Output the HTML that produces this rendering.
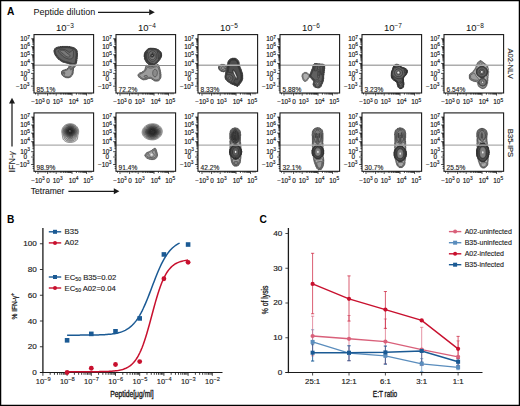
<!DOCTYPE html>
<html><head><meta charset="utf-8"><style>
html,body{margin:0;padding:0;background:#fff;}
#fig{position:relative;width:520px;height:406px;overflow:hidden;background:#fff;}
svg{position:absolute;left:0;top:0;}
text{font-family:"Liberation Sans", sans-serif;}
</style></head><body><div id="fig">
<svg width="520" height="406" viewBox="0 0 520 406">
<defs><filter id="soft" x="-30%" y="-30%" width="160%" height="160%"><feGaussianBlur stdDeviation="0.28"/></filter></defs>
<text x="7" y="15.2" font-size="10.2" font-weight="bold" fill="#000">A</text>
<text x="33.60" y="14.80" font-size="9.0" text-anchor="start" font-weight="normal" fill="#111" >Peptide dilution</text>
<line x1="98" y1="12.3" x2="149.70000000000002" y2="12.3" stroke="#1a1a1a" stroke-width="1.25"/>
<path d="M154.8,12.3 L149.20000000000002,9.3 L149.20000000000002,15.3 Z" fill="#1a1a1a"/>
<text x="65.00" y="30.80" font-size="9.5" text-anchor="middle" fill="#111" >10<tspan font-size="6.5" dy="-3.30">−3</tspan></text>
<text x="147.00" y="30.80" font-size="9.5" text-anchor="middle" fill="#111" >10<tspan font-size="6.5" dy="-3.30">−4</tspan></text>
<text x="229.00" y="30.80" font-size="9.5" text-anchor="middle" fill="#111" >10<tspan font-size="6.5" dy="-3.30">−5</tspan></text>
<text x="311.00" y="30.80" font-size="9.5" text-anchor="middle" fill="#111" >10<tspan font-size="6.5" dy="-3.30">−6</tspan></text>
<text x="393.00" y="30.80" font-size="9.5" text-anchor="middle" fill="#111" >10<tspan font-size="6.5" dy="-3.30">−7</tspan></text>
<text x="475.00" y="30.80" font-size="9.5" text-anchor="middle" fill="#111" >10<tspan font-size="6.5" dy="-3.30">−8</tspan></text>
<path d="M32.40,44.32h1.6M32.40,42.93h1.6M32.40,41.94h1.6M32.40,41.18h1.6M32.40,40.55h1.6M32.40,40.02h1.6M32.40,39.57h1.6M32.40,39.16h1.6M32.40,52.36h1.6M32.40,50.94h1.6M32.40,49.92h1.6M32.40,49.14h1.6M32.40,48.50h1.6M32.40,47.95h1.6M32.40,47.48h1.6M32.40,47.07h1.6M32.40,60.81h1.6M32.40,59.30h1.6M32.40,58.22h1.6M32.40,57.39h1.6M32.40,56.71h1.6M32.40,56.13h1.6M32.40,55.63h1.6M32.40,55.19h1.6M32.40,70.39h1.6M32.40,68.63h1.6M32.40,67.38h1.6M32.40,66.41h1.6M32.40,65.62h1.6M32.40,64.95h1.6M32.40,64.37h1.6M32.40,63.86h1.6M31.20,38.80h2.8M31.20,46.70h2.8M31.20,54.80h2.8M31.20,63.40h2.8M31.20,73.40h2.8M31.20,78.70h2.8M31.20,86.20h2.8M32.60,74.80h1.4M32.60,76.00h1.4M32.60,77.20h1.4M32.60,80.00h1.4M32.60,81.20h1.4M32.60,82.40h1.4M32.60,83.60h1.4M32.60,84.80h1.4M32.60,88.10h1.4M32.60,90.10h1.4M38.00,93.00v2.6M47.60,93.00v2.6M56.20,93.00v2.6M72.00,93.00v2.6M86.60,93.00v2.6M60.96,93.00v1.6M63.74,93.00v1.6M65.71,93.00v1.6M67.24,93.00v1.6M68.49,93.00v1.6M69.55,93.00v1.6M70.47,93.00v1.6M71.28,93.00v1.6M76.40,93.00v1.6M78.97,93.00v1.6M80.79,93.00v1.6M82.20,93.00v1.6M83.36,93.00v1.6M84.34,93.00v1.6M85.19,93.00v1.6M85.93,93.00v1.6M35.50,93.00v1.4M40.00,93.00v1.4M42.00,93.00v1.4M44.00,93.00v1.4M45.80,93.00v1.4M49.20,93.00v1.4M50.60,93.00v1.4M52.00,93.00v1.4M53.40,93.00v1.4M54.80,93.00v1.4M58.00,93.00v1.4M60.00,93.00v1.4M62.00,93.00v1.4M64.00,93.00v1.4M66.00,93.00v1.4M68.00,93.00v1.4M70.00,93.00v1.4M89.00,93.00v1.4M91.00,93.00v1.4" stroke="#111" stroke-width="0.8" fill="none"/>
<text x="20.20" y="41.10" font-size="6.4" fill="#111" stroke="#111" stroke-width="0.14">10<tspan font-size="4.8" dy="-2.6">7</tspan></text>
<text x="20.20" y="49.00" font-size="6.4" fill="#111" stroke="#111" stroke-width="0.14">10<tspan font-size="4.8" dy="-2.6">6</tspan></text>
<text x="20.20" y="57.10" font-size="6.4" fill="#111" stroke="#111" stroke-width="0.14">10<tspan font-size="4.8" dy="-2.6">5</tspan></text>
<text x="20.20" y="65.70" font-size="6.4" fill="#111" stroke="#111" stroke-width="0.14">10<tspan font-size="4.8" dy="-2.6">4</tspan></text>
<text x="20.20" y="75.70" font-size="6.4" fill="#111" stroke="#111" stroke-width="0.14">10<tspan font-size="4.8" dy="-2.6">3</tspan></text>
<text x="23.60" y="81.00" font-size="6.4" text-anchor="start" font-weight="normal" fill="#111" stroke="#111" stroke-width="0.14" >0</text>
<text x="16.00" y="88.50" font-size="6.4" fill="#111" stroke="#111" stroke-width="0.14">−10<tspan font-size="4.8" dy="-2.6">3</tspan></text>
<text x="31.20" y="104.20" font-size="6.4" fill="#111" stroke="#111" stroke-width="0.14">−10<tspan font-size="4.8" dy="-2.6">3</tspan></text>
<text x="46.20" y="104.20" font-size="6.4" text-anchor="start" font-weight="normal" fill="#111" stroke="#111" stroke-width="0.14" >0</text>
<text x="52.80" y="104.20" font-size="6.4" fill="#111" stroke="#111" stroke-width="0.14">10<tspan font-size="4.8" dy="-2.6">3</tspan></text>
<text x="68.70" y="104.20" font-size="6.4" fill="#111" stroke="#111" stroke-width="0.14">10<tspan font-size="4.8" dy="-2.6">4</tspan></text>
<text x="83.30" y="104.20" font-size="6.4" fill="#111" stroke="#111" stroke-width="0.14">10<tspan font-size="4.8" dy="-2.6">5</tspan></text>
<path d="M114.40,44.32h1.6M114.40,42.93h1.6M114.40,41.94h1.6M114.40,41.18h1.6M114.40,40.55h1.6M114.40,40.02h1.6M114.40,39.57h1.6M114.40,39.16h1.6M114.40,52.36h1.6M114.40,50.94h1.6M114.40,49.92h1.6M114.40,49.14h1.6M114.40,48.50h1.6M114.40,47.95h1.6M114.40,47.48h1.6M114.40,47.07h1.6M114.40,60.81h1.6M114.40,59.30h1.6M114.40,58.22h1.6M114.40,57.39h1.6M114.40,56.71h1.6M114.40,56.13h1.6M114.40,55.63h1.6M114.40,55.19h1.6M114.40,70.39h1.6M114.40,68.63h1.6M114.40,67.38h1.6M114.40,66.41h1.6M114.40,65.62h1.6M114.40,64.95h1.6M114.40,64.37h1.6M114.40,63.86h1.6M113.20,38.80h2.8M113.20,46.70h2.8M113.20,54.80h2.8M113.20,63.40h2.8M113.20,73.40h2.8M113.20,78.70h2.8M113.20,86.20h2.8M114.60,74.80h1.4M114.60,76.00h1.4M114.60,77.20h1.4M114.60,80.00h1.4M114.60,81.20h1.4M114.60,82.40h1.4M114.60,83.60h1.4M114.60,84.80h1.4M114.60,88.10h1.4M114.60,90.10h1.4M120.00,93.00v2.6M129.60,93.00v2.6M138.20,93.00v2.6M154.00,93.00v2.6M168.60,93.00v2.6M142.96,93.00v1.6M145.74,93.00v1.6M147.71,93.00v1.6M149.24,93.00v1.6M150.49,93.00v1.6M151.55,93.00v1.6M152.47,93.00v1.6M153.28,93.00v1.6M158.40,93.00v1.6M160.97,93.00v1.6M162.79,93.00v1.6M164.20,93.00v1.6M165.36,93.00v1.6M166.34,93.00v1.6M167.19,93.00v1.6M167.93,93.00v1.6M117.50,93.00v1.4M122.00,93.00v1.4M124.00,93.00v1.4M126.00,93.00v1.4M127.80,93.00v1.4M131.20,93.00v1.4M132.60,93.00v1.4M134.00,93.00v1.4M135.40,93.00v1.4M136.80,93.00v1.4M140.00,93.00v1.4M142.00,93.00v1.4M144.00,93.00v1.4M146.00,93.00v1.4M148.00,93.00v1.4M150.00,93.00v1.4M152.00,93.00v1.4M171.00,93.00v1.4M173.00,93.00v1.4" stroke="#111" stroke-width="0.8" fill="none"/>
<text x="102.20" y="41.10" font-size="6.4" fill="#111" stroke="#111" stroke-width="0.14">10<tspan font-size="4.8" dy="-2.6">7</tspan></text>
<text x="102.20" y="49.00" font-size="6.4" fill="#111" stroke="#111" stroke-width="0.14">10<tspan font-size="4.8" dy="-2.6">6</tspan></text>
<text x="102.20" y="57.10" font-size="6.4" fill="#111" stroke="#111" stroke-width="0.14">10<tspan font-size="4.8" dy="-2.6">5</tspan></text>
<text x="102.20" y="65.70" font-size="6.4" fill="#111" stroke="#111" stroke-width="0.14">10<tspan font-size="4.8" dy="-2.6">4</tspan></text>
<text x="102.20" y="75.70" font-size="6.4" fill="#111" stroke="#111" stroke-width="0.14">10<tspan font-size="4.8" dy="-2.6">3</tspan></text>
<text x="105.60" y="81.00" font-size="6.4" text-anchor="start" font-weight="normal" fill="#111" stroke="#111" stroke-width="0.14" >0</text>
<text x="98.00" y="88.50" font-size="6.4" fill="#111" stroke="#111" stroke-width="0.14">−10<tspan font-size="4.8" dy="-2.6">3</tspan></text>
<text x="113.20" y="104.20" font-size="6.4" fill="#111" stroke="#111" stroke-width="0.14">−10<tspan font-size="4.8" dy="-2.6">3</tspan></text>
<text x="128.20" y="104.20" font-size="6.4" text-anchor="start" font-weight="normal" fill="#111" stroke="#111" stroke-width="0.14" >0</text>
<text x="134.80" y="104.20" font-size="6.4" fill="#111" stroke="#111" stroke-width="0.14">10<tspan font-size="4.8" dy="-2.6">3</tspan></text>
<text x="150.70" y="104.20" font-size="6.4" fill="#111" stroke="#111" stroke-width="0.14">10<tspan font-size="4.8" dy="-2.6">4</tspan></text>
<text x="165.30" y="104.20" font-size="6.4" fill="#111" stroke="#111" stroke-width="0.14">10<tspan font-size="4.8" dy="-2.6">5</tspan></text>
<path d="M196.40,44.32h1.6M196.40,42.93h1.6M196.40,41.94h1.6M196.40,41.18h1.6M196.40,40.55h1.6M196.40,40.02h1.6M196.40,39.57h1.6M196.40,39.16h1.6M196.40,52.36h1.6M196.40,50.94h1.6M196.40,49.92h1.6M196.40,49.14h1.6M196.40,48.50h1.6M196.40,47.95h1.6M196.40,47.48h1.6M196.40,47.07h1.6M196.40,60.81h1.6M196.40,59.30h1.6M196.40,58.22h1.6M196.40,57.39h1.6M196.40,56.71h1.6M196.40,56.13h1.6M196.40,55.63h1.6M196.40,55.19h1.6M196.40,70.39h1.6M196.40,68.63h1.6M196.40,67.38h1.6M196.40,66.41h1.6M196.40,65.62h1.6M196.40,64.95h1.6M196.40,64.37h1.6M196.40,63.86h1.6M195.20,38.80h2.8M195.20,46.70h2.8M195.20,54.80h2.8M195.20,63.40h2.8M195.20,73.40h2.8M195.20,78.70h2.8M195.20,86.20h2.8M196.60,74.80h1.4M196.60,76.00h1.4M196.60,77.20h1.4M196.60,80.00h1.4M196.60,81.20h1.4M196.60,82.40h1.4M196.60,83.60h1.4M196.60,84.80h1.4M196.60,88.10h1.4M196.60,90.10h1.4M202.00,93.00v2.6M211.60,93.00v2.6M220.20,93.00v2.6M236.00,93.00v2.6M250.60,93.00v2.6M224.96,93.00v1.6M227.74,93.00v1.6M229.71,93.00v1.6M231.24,93.00v1.6M232.49,93.00v1.6M233.55,93.00v1.6M234.47,93.00v1.6M235.28,93.00v1.6M240.40,93.00v1.6M242.97,93.00v1.6M244.79,93.00v1.6M246.20,93.00v1.6M247.36,93.00v1.6M248.34,93.00v1.6M249.19,93.00v1.6M249.93,93.00v1.6M199.50,93.00v1.4M204.00,93.00v1.4M206.00,93.00v1.4M208.00,93.00v1.4M209.80,93.00v1.4M213.20,93.00v1.4M214.60,93.00v1.4M216.00,93.00v1.4M217.40,93.00v1.4M218.80,93.00v1.4M222.00,93.00v1.4M224.00,93.00v1.4M226.00,93.00v1.4M228.00,93.00v1.4M230.00,93.00v1.4M232.00,93.00v1.4M234.00,93.00v1.4M253.00,93.00v1.4M255.00,93.00v1.4" stroke="#111" stroke-width="0.8" fill="none"/>
<text x="184.20" y="41.10" font-size="6.4" fill="#111" stroke="#111" stroke-width="0.14">10<tspan font-size="4.8" dy="-2.6">7</tspan></text>
<text x="184.20" y="49.00" font-size="6.4" fill="#111" stroke="#111" stroke-width="0.14">10<tspan font-size="4.8" dy="-2.6">6</tspan></text>
<text x="184.20" y="57.10" font-size="6.4" fill="#111" stroke="#111" stroke-width="0.14">10<tspan font-size="4.8" dy="-2.6">5</tspan></text>
<text x="184.20" y="65.70" font-size="6.4" fill="#111" stroke="#111" stroke-width="0.14">10<tspan font-size="4.8" dy="-2.6">4</tspan></text>
<text x="184.20" y="75.70" font-size="6.4" fill="#111" stroke="#111" stroke-width="0.14">10<tspan font-size="4.8" dy="-2.6">3</tspan></text>
<text x="187.60" y="81.00" font-size="6.4" text-anchor="start" font-weight="normal" fill="#111" stroke="#111" stroke-width="0.14" >0</text>
<text x="180.00" y="88.50" font-size="6.4" fill="#111" stroke="#111" stroke-width="0.14">−10<tspan font-size="4.8" dy="-2.6">3</tspan></text>
<text x="195.20" y="104.20" font-size="6.4" fill="#111" stroke="#111" stroke-width="0.14">−10<tspan font-size="4.8" dy="-2.6">3</tspan></text>
<text x="210.20" y="104.20" font-size="6.4" text-anchor="start" font-weight="normal" fill="#111" stroke="#111" stroke-width="0.14" >0</text>
<text x="216.80" y="104.20" font-size="6.4" fill="#111" stroke="#111" stroke-width="0.14">10<tspan font-size="4.8" dy="-2.6">3</tspan></text>
<text x="232.70" y="104.20" font-size="6.4" fill="#111" stroke="#111" stroke-width="0.14">10<tspan font-size="4.8" dy="-2.6">4</tspan></text>
<text x="247.30" y="104.20" font-size="6.4" fill="#111" stroke="#111" stroke-width="0.14">10<tspan font-size="4.8" dy="-2.6">5</tspan></text>
<path d="M278.40,44.32h1.6M278.40,42.93h1.6M278.40,41.94h1.6M278.40,41.18h1.6M278.40,40.55h1.6M278.40,40.02h1.6M278.40,39.57h1.6M278.40,39.16h1.6M278.40,52.36h1.6M278.40,50.94h1.6M278.40,49.92h1.6M278.40,49.14h1.6M278.40,48.50h1.6M278.40,47.95h1.6M278.40,47.48h1.6M278.40,47.07h1.6M278.40,60.81h1.6M278.40,59.30h1.6M278.40,58.22h1.6M278.40,57.39h1.6M278.40,56.71h1.6M278.40,56.13h1.6M278.40,55.63h1.6M278.40,55.19h1.6M278.40,70.39h1.6M278.40,68.63h1.6M278.40,67.38h1.6M278.40,66.41h1.6M278.40,65.62h1.6M278.40,64.95h1.6M278.40,64.37h1.6M278.40,63.86h1.6M277.20,38.80h2.8M277.20,46.70h2.8M277.20,54.80h2.8M277.20,63.40h2.8M277.20,73.40h2.8M277.20,78.70h2.8M277.20,86.20h2.8M278.60,74.80h1.4M278.60,76.00h1.4M278.60,77.20h1.4M278.60,80.00h1.4M278.60,81.20h1.4M278.60,82.40h1.4M278.60,83.60h1.4M278.60,84.80h1.4M278.60,88.10h1.4M278.60,90.10h1.4M284.00,93.00v2.6M293.60,93.00v2.6M302.20,93.00v2.6M318.00,93.00v2.6M332.60,93.00v2.6M306.96,93.00v1.6M309.74,93.00v1.6M311.71,93.00v1.6M313.24,93.00v1.6M314.49,93.00v1.6M315.55,93.00v1.6M316.47,93.00v1.6M317.28,93.00v1.6M322.40,93.00v1.6M324.97,93.00v1.6M326.79,93.00v1.6M328.20,93.00v1.6M329.36,93.00v1.6M330.34,93.00v1.6M331.19,93.00v1.6M331.93,93.00v1.6M281.50,93.00v1.4M286.00,93.00v1.4M288.00,93.00v1.4M290.00,93.00v1.4M291.80,93.00v1.4M295.20,93.00v1.4M296.60,93.00v1.4M298.00,93.00v1.4M299.40,93.00v1.4M300.80,93.00v1.4M304.00,93.00v1.4M306.00,93.00v1.4M308.00,93.00v1.4M310.00,93.00v1.4M312.00,93.00v1.4M314.00,93.00v1.4M316.00,93.00v1.4M335.00,93.00v1.4M337.00,93.00v1.4" stroke="#111" stroke-width="0.8" fill="none"/>
<text x="266.20" y="41.10" font-size="6.4" fill="#111" stroke="#111" stroke-width="0.14">10<tspan font-size="4.8" dy="-2.6">7</tspan></text>
<text x="266.20" y="49.00" font-size="6.4" fill="#111" stroke="#111" stroke-width="0.14">10<tspan font-size="4.8" dy="-2.6">6</tspan></text>
<text x="266.20" y="57.10" font-size="6.4" fill="#111" stroke="#111" stroke-width="0.14">10<tspan font-size="4.8" dy="-2.6">5</tspan></text>
<text x="266.20" y="65.70" font-size="6.4" fill="#111" stroke="#111" stroke-width="0.14">10<tspan font-size="4.8" dy="-2.6">4</tspan></text>
<text x="266.20" y="75.70" font-size="6.4" fill="#111" stroke="#111" stroke-width="0.14">10<tspan font-size="4.8" dy="-2.6">3</tspan></text>
<text x="269.60" y="81.00" font-size="6.4" text-anchor="start" font-weight="normal" fill="#111" stroke="#111" stroke-width="0.14" >0</text>
<text x="262.00" y="88.50" font-size="6.4" fill="#111" stroke="#111" stroke-width="0.14">−10<tspan font-size="4.8" dy="-2.6">3</tspan></text>
<text x="277.20" y="104.20" font-size="6.4" fill="#111" stroke="#111" stroke-width="0.14">−10<tspan font-size="4.8" dy="-2.6">3</tspan></text>
<text x="292.20" y="104.20" font-size="6.4" text-anchor="start" font-weight="normal" fill="#111" stroke="#111" stroke-width="0.14" >0</text>
<text x="298.80" y="104.20" font-size="6.4" fill="#111" stroke="#111" stroke-width="0.14">10<tspan font-size="4.8" dy="-2.6">3</tspan></text>
<text x="314.70" y="104.20" font-size="6.4" fill="#111" stroke="#111" stroke-width="0.14">10<tspan font-size="4.8" dy="-2.6">4</tspan></text>
<text x="329.30" y="104.20" font-size="6.4" fill="#111" stroke="#111" stroke-width="0.14">10<tspan font-size="4.8" dy="-2.6">5</tspan></text>
<path d="M360.40,44.32h1.6M360.40,42.93h1.6M360.40,41.94h1.6M360.40,41.18h1.6M360.40,40.55h1.6M360.40,40.02h1.6M360.40,39.57h1.6M360.40,39.16h1.6M360.40,52.36h1.6M360.40,50.94h1.6M360.40,49.92h1.6M360.40,49.14h1.6M360.40,48.50h1.6M360.40,47.95h1.6M360.40,47.48h1.6M360.40,47.07h1.6M360.40,60.81h1.6M360.40,59.30h1.6M360.40,58.22h1.6M360.40,57.39h1.6M360.40,56.71h1.6M360.40,56.13h1.6M360.40,55.63h1.6M360.40,55.19h1.6M360.40,70.39h1.6M360.40,68.63h1.6M360.40,67.38h1.6M360.40,66.41h1.6M360.40,65.62h1.6M360.40,64.95h1.6M360.40,64.37h1.6M360.40,63.86h1.6M359.20,38.80h2.8M359.20,46.70h2.8M359.20,54.80h2.8M359.20,63.40h2.8M359.20,73.40h2.8M359.20,78.70h2.8M359.20,86.20h2.8M360.60,74.80h1.4M360.60,76.00h1.4M360.60,77.20h1.4M360.60,80.00h1.4M360.60,81.20h1.4M360.60,82.40h1.4M360.60,83.60h1.4M360.60,84.80h1.4M360.60,88.10h1.4M360.60,90.10h1.4M366.00,93.00v2.6M375.60,93.00v2.6M384.20,93.00v2.6M400.00,93.00v2.6M414.60,93.00v2.6M388.96,93.00v1.6M391.74,93.00v1.6M393.71,93.00v1.6M395.24,93.00v1.6M396.49,93.00v1.6M397.55,93.00v1.6M398.47,93.00v1.6M399.28,93.00v1.6M404.40,93.00v1.6M406.97,93.00v1.6M408.79,93.00v1.6M410.20,93.00v1.6M411.36,93.00v1.6M412.34,93.00v1.6M413.19,93.00v1.6M413.93,93.00v1.6M363.50,93.00v1.4M368.00,93.00v1.4M370.00,93.00v1.4M372.00,93.00v1.4M373.80,93.00v1.4M377.20,93.00v1.4M378.60,93.00v1.4M380.00,93.00v1.4M381.40,93.00v1.4M382.80,93.00v1.4M386.00,93.00v1.4M388.00,93.00v1.4M390.00,93.00v1.4M392.00,93.00v1.4M394.00,93.00v1.4M396.00,93.00v1.4M398.00,93.00v1.4M417.00,93.00v1.4M419.00,93.00v1.4" stroke="#111" stroke-width="0.8" fill="none"/>
<text x="348.20" y="41.10" font-size="6.4" fill="#111" stroke="#111" stroke-width="0.14">10<tspan font-size="4.8" dy="-2.6">7</tspan></text>
<text x="348.20" y="49.00" font-size="6.4" fill="#111" stroke="#111" stroke-width="0.14">10<tspan font-size="4.8" dy="-2.6">6</tspan></text>
<text x="348.20" y="57.10" font-size="6.4" fill="#111" stroke="#111" stroke-width="0.14">10<tspan font-size="4.8" dy="-2.6">5</tspan></text>
<text x="348.20" y="65.70" font-size="6.4" fill="#111" stroke="#111" stroke-width="0.14">10<tspan font-size="4.8" dy="-2.6">4</tspan></text>
<text x="348.20" y="75.70" font-size="6.4" fill="#111" stroke="#111" stroke-width="0.14">10<tspan font-size="4.8" dy="-2.6">3</tspan></text>
<text x="351.60" y="81.00" font-size="6.4" text-anchor="start" font-weight="normal" fill="#111" stroke="#111" stroke-width="0.14" >0</text>
<text x="344.00" y="88.50" font-size="6.4" fill="#111" stroke="#111" stroke-width="0.14">−10<tspan font-size="4.8" dy="-2.6">3</tspan></text>
<text x="359.20" y="104.20" font-size="6.4" fill="#111" stroke="#111" stroke-width="0.14">−10<tspan font-size="4.8" dy="-2.6">3</tspan></text>
<text x="374.20" y="104.20" font-size="6.4" text-anchor="start" font-weight="normal" fill="#111" stroke="#111" stroke-width="0.14" >0</text>
<text x="380.80" y="104.20" font-size="6.4" fill="#111" stroke="#111" stroke-width="0.14">10<tspan font-size="4.8" dy="-2.6">3</tspan></text>
<text x="396.70" y="104.20" font-size="6.4" fill="#111" stroke="#111" stroke-width="0.14">10<tspan font-size="4.8" dy="-2.6">4</tspan></text>
<text x="411.30" y="104.20" font-size="6.4" fill="#111" stroke="#111" stroke-width="0.14">10<tspan font-size="4.8" dy="-2.6">5</tspan></text>
<path d="M442.40,44.32h1.6M442.40,42.93h1.6M442.40,41.94h1.6M442.40,41.18h1.6M442.40,40.55h1.6M442.40,40.02h1.6M442.40,39.57h1.6M442.40,39.16h1.6M442.40,52.36h1.6M442.40,50.94h1.6M442.40,49.92h1.6M442.40,49.14h1.6M442.40,48.50h1.6M442.40,47.95h1.6M442.40,47.48h1.6M442.40,47.07h1.6M442.40,60.81h1.6M442.40,59.30h1.6M442.40,58.22h1.6M442.40,57.39h1.6M442.40,56.71h1.6M442.40,56.13h1.6M442.40,55.63h1.6M442.40,55.19h1.6M442.40,70.39h1.6M442.40,68.63h1.6M442.40,67.38h1.6M442.40,66.41h1.6M442.40,65.62h1.6M442.40,64.95h1.6M442.40,64.37h1.6M442.40,63.86h1.6M441.20,38.80h2.8M441.20,46.70h2.8M441.20,54.80h2.8M441.20,63.40h2.8M441.20,73.40h2.8M441.20,78.70h2.8M441.20,86.20h2.8M442.60,74.80h1.4M442.60,76.00h1.4M442.60,77.20h1.4M442.60,80.00h1.4M442.60,81.20h1.4M442.60,82.40h1.4M442.60,83.60h1.4M442.60,84.80h1.4M442.60,88.10h1.4M442.60,90.10h1.4M448.00,93.00v2.6M457.60,93.00v2.6M466.20,93.00v2.6M482.00,93.00v2.6M496.60,93.00v2.6M470.96,93.00v1.6M473.74,93.00v1.6M475.71,93.00v1.6M477.24,93.00v1.6M478.49,93.00v1.6M479.55,93.00v1.6M480.47,93.00v1.6M481.28,93.00v1.6M486.40,93.00v1.6M488.97,93.00v1.6M490.79,93.00v1.6M492.20,93.00v1.6M493.36,93.00v1.6M494.34,93.00v1.6M495.19,93.00v1.6M495.93,93.00v1.6M445.50,93.00v1.4M450.00,93.00v1.4M452.00,93.00v1.4M454.00,93.00v1.4M455.80,93.00v1.4M459.20,93.00v1.4M460.60,93.00v1.4M462.00,93.00v1.4M463.40,93.00v1.4M464.80,93.00v1.4M468.00,93.00v1.4M470.00,93.00v1.4M472.00,93.00v1.4M474.00,93.00v1.4M476.00,93.00v1.4M478.00,93.00v1.4M480.00,93.00v1.4M499.00,93.00v1.4M501.00,93.00v1.4" stroke="#111" stroke-width="0.8" fill="none"/>
<text x="430.20" y="41.10" font-size="6.4" fill="#111" stroke="#111" stroke-width="0.14">10<tspan font-size="4.8" dy="-2.6">7</tspan></text>
<text x="430.20" y="49.00" font-size="6.4" fill="#111" stroke="#111" stroke-width="0.14">10<tspan font-size="4.8" dy="-2.6">6</tspan></text>
<text x="430.20" y="57.10" font-size="6.4" fill="#111" stroke="#111" stroke-width="0.14">10<tspan font-size="4.8" dy="-2.6">5</tspan></text>
<text x="430.20" y="65.70" font-size="6.4" fill="#111" stroke="#111" stroke-width="0.14">10<tspan font-size="4.8" dy="-2.6">4</tspan></text>
<text x="430.20" y="75.70" font-size="6.4" fill="#111" stroke="#111" stroke-width="0.14">10<tspan font-size="4.8" dy="-2.6">3</tspan></text>
<text x="433.60" y="81.00" font-size="6.4" text-anchor="start" font-weight="normal" fill="#111" stroke="#111" stroke-width="0.14" >0</text>
<text x="426.00" y="88.50" font-size="6.4" fill="#111" stroke="#111" stroke-width="0.14">−10<tspan font-size="4.8" dy="-2.6">3</tspan></text>
<text x="441.20" y="104.20" font-size="6.4" fill="#111" stroke="#111" stroke-width="0.14">−10<tspan font-size="4.8" dy="-2.6">3</tspan></text>
<text x="456.20" y="104.20" font-size="6.4" text-anchor="start" font-weight="normal" fill="#111" stroke="#111" stroke-width="0.14" >0</text>
<text x="462.80" y="104.20" font-size="6.4" fill="#111" stroke="#111" stroke-width="0.14">10<tspan font-size="4.8" dy="-2.6">3</tspan></text>
<text x="478.70" y="104.20" font-size="6.4" fill="#111" stroke="#111" stroke-width="0.14">10<tspan font-size="4.8" dy="-2.6">4</tspan></text>
<text x="493.30" y="104.20" font-size="6.4" fill="#111" stroke="#111" stroke-width="0.14">10<tspan font-size="4.8" dy="-2.6">5</tspan></text>
<path d="M32.40,122.62h1.6M32.40,121.23h1.6M32.40,120.24h1.6M32.40,119.48h1.6M32.40,118.85h1.6M32.40,118.32h1.6M32.40,117.87h1.6M32.40,117.46h1.6M32.40,130.66h1.6M32.40,129.24h1.6M32.40,128.22h1.6M32.40,127.44h1.6M32.40,126.80h1.6M32.40,126.25h1.6M32.40,125.78h1.6M32.40,125.37h1.6M32.40,139.11h1.6M32.40,137.60h1.6M32.40,136.52h1.6M32.40,135.69h1.6M32.40,135.01h1.6M32.40,134.43h1.6M32.40,133.93h1.6M32.40,133.49h1.6M32.40,148.69h1.6M32.40,146.93h1.6M32.40,145.68h1.6M32.40,144.71h1.6M32.40,143.92h1.6M32.40,143.25h1.6M32.40,142.67h1.6M32.40,142.16h1.6M31.20,117.10h2.8M31.20,125.00h2.8M31.20,133.10h2.8M31.20,141.70h2.8M31.20,151.70h2.8M31.20,157.00h2.8M31.20,164.50h2.8M32.60,153.10h1.4M32.60,154.30h1.4M32.60,155.50h1.4M32.60,158.30h1.4M32.60,159.50h1.4M32.60,160.70h1.4M32.60,161.90h1.4M32.60,163.10h1.4M32.60,166.40h1.4M32.60,168.40h1.4M38.00,171.30v2.6M47.60,171.30v2.6M56.20,171.30v2.6M72.00,171.30v2.6M86.60,171.30v2.6M60.96,171.30v1.6M63.74,171.30v1.6M65.71,171.30v1.6M67.24,171.30v1.6M68.49,171.30v1.6M69.55,171.30v1.6M70.47,171.30v1.6M71.28,171.30v1.6M76.40,171.30v1.6M78.97,171.30v1.6M80.79,171.30v1.6M82.20,171.30v1.6M83.36,171.30v1.6M84.34,171.30v1.6M85.19,171.30v1.6M85.93,171.30v1.6M35.50,171.30v1.4M40.00,171.30v1.4M42.00,171.30v1.4M44.00,171.30v1.4M45.80,171.30v1.4M49.20,171.30v1.4M50.60,171.30v1.4M52.00,171.30v1.4M53.40,171.30v1.4M54.80,171.30v1.4M58.00,171.30v1.4M60.00,171.30v1.4M62.00,171.30v1.4M64.00,171.30v1.4M66.00,171.30v1.4M68.00,171.30v1.4M70.00,171.30v1.4M89.00,171.30v1.4M91.00,171.30v1.4" stroke="#111" stroke-width="0.8" fill="none"/>
<text x="20.20" y="119.40" font-size="6.4" fill="#111" stroke="#111" stroke-width="0.14">10<tspan font-size="4.8" dy="-2.6">7</tspan></text>
<text x="20.20" y="127.30" font-size="6.4" fill="#111" stroke="#111" stroke-width="0.14">10<tspan font-size="4.8" dy="-2.6">6</tspan></text>
<text x="20.20" y="135.40" font-size="6.4" fill="#111" stroke="#111" stroke-width="0.14">10<tspan font-size="4.8" dy="-2.6">5</tspan></text>
<text x="20.20" y="144.00" font-size="6.4" fill="#111" stroke="#111" stroke-width="0.14">10<tspan font-size="4.8" dy="-2.6">4</tspan></text>
<text x="20.20" y="154.00" font-size="6.4" fill="#111" stroke="#111" stroke-width="0.14">10<tspan font-size="4.8" dy="-2.6">3</tspan></text>
<text x="23.60" y="159.30" font-size="6.4" text-anchor="start" font-weight="normal" fill="#111" stroke="#111" stroke-width="0.14" >0</text>
<text x="16.00" y="166.80" font-size="6.4" fill="#111" stroke="#111" stroke-width="0.14">−10<tspan font-size="4.8" dy="-2.6">3</tspan></text>
<text x="31.20" y="182.50" font-size="6.4" fill="#111" stroke="#111" stroke-width="0.14">−10<tspan font-size="4.8" dy="-2.6">3</tspan></text>
<text x="46.20" y="182.50" font-size="6.4" text-anchor="start" font-weight="normal" fill="#111" stroke="#111" stroke-width="0.14" >0</text>
<text x="52.80" y="182.50" font-size="6.4" fill="#111" stroke="#111" stroke-width="0.14">10<tspan font-size="4.8" dy="-2.6">3</tspan></text>
<text x="68.70" y="182.50" font-size="6.4" fill="#111" stroke="#111" stroke-width="0.14">10<tspan font-size="4.8" dy="-2.6">4</tspan></text>
<text x="83.30" y="182.50" font-size="6.4" fill="#111" stroke="#111" stroke-width="0.14">10<tspan font-size="4.8" dy="-2.6">5</tspan></text>
<path d="M114.40,122.62h1.6M114.40,121.23h1.6M114.40,120.24h1.6M114.40,119.48h1.6M114.40,118.85h1.6M114.40,118.32h1.6M114.40,117.87h1.6M114.40,117.46h1.6M114.40,130.66h1.6M114.40,129.24h1.6M114.40,128.22h1.6M114.40,127.44h1.6M114.40,126.80h1.6M114.40,126.25h1.6M114.40,125.78h1.6M114.40,125.37h1.6M114.40,139.11h1.6M114.40,137.60h1.6M114.40,136.52h1.6M114.40,135.69h1.6M114.40,135.01h1.6M114.40,134.43h1.6M114.40,133.93h1.6M114.40,133.49h1.6M114.40,148.69h1.6M114.40,146.93h1.6M114.40,145.68h1.6M114.40,144.71h1.6M114.40,143.92h1.6M114.40,143.25h1.6M114.40,142.67h1.6M114.40,142.16h1.6M113.20,117.10h2.8M113.20,125.00h2.8M113.20,133.10h2.8M113.20,141.70h2.8M113.20,151.70h2.8M113.20,157.00h2.8M113.20,164.50h2.8M114.60,153.10h1.4M114.60,154.30h1.4M114.60,155.50h1.4M114.60,158.30h1.4M114.60,159.50h1.4M114.60,160.70h1.4M114.60,161.90h1.4M114.60,163.10h1.4M114.60,166.40h1.4M114.60,168.40h1.4M120.00,171.30v2.6M129.60,171.30v2.6M138.20,171.30v2.6M154.00,171.30v2.6M168.60,171.30v2.6M142.96,171.30v1.6M145.74,171.30v1.6M147.71,171.30v1.6M149.24,171.30v1.6M150.49,171.30v1.6M151.55,171.30v1.6M152.47,171.30v1.6M153.28,171.30v1.6M158.40,171.30v1.6M160.97,171.30v1.6M162.79,171.30v1.6M164.20,171.30v1.6M165.36,171.30v1.6M166.34,171.30v1.6M167.19,171.30v1.6M167.93,171.30v1.6M117.50,171.30v1.4M122.00,171.30v1.4M124.00,171.30v1.4M126.00,171.30v1.4M127.80,171.30v1.4M131.20,171.30v1.4M132.60,171.30v1.4M134.00,171.30v1.4M135.40,171.30v1.4M136.80,171.30v1.4M140.00,171.30v1.4M142.00,171.30v1.4M144.00,171.30v1.4M146.00,171.30v1.4M148.00,171.30v1.4M150.00,171.30v1.4M152.00,171.30v1.4M171.00,171.30v1.4M173.00,171.30v1.4" stroke="#111" stroke-width="0.8" fill="none"/>
<text x="102.20" y="119.40" font-size="6.4" fill="#111" stroke="#111" stroke-width="0.14">10<tspan font-size="4.8" dy="-2.6">7</tspan></text>
<text x="102.20" y="127.30" font-size="6.4" fill="#111" stroke="#111" stroke-width="0.14">10<tspan font-size="4.8" dy="-2.6">6</tspan></text>
<text x="102.20" y="135.40" font-size="6.4" fill="#111" stroke="#111" stroke-width="0.14">10<tspan font-size="4.8" dy="-2.6">5</tspan></text>
<text x="102.20" y="144.00" font-size="6.4" fill="#111" stroke="#111" stroke-width="0.14">10<tspan font-size="4.8" dy="-2.6">4</tspan></text>
<text x="102.20" y="154.00" font-size="6.4" fill="#111" stroke="#111" stroke-width="0.14">10<tspan font-size="4.8" dy="-2.6">3</tspan></text>
<text x="105.60" y="159.30" font-size="6.4" text-anchor="start" font-weight="normal" fill="#111" stroke="#111" stroke-width="0.14" >0</text>
<text x="98.00" y="166.80" font-size="6.4" fill="#111" stroke="#111" stroke-width="0.14">−10<tspan font-size="4.8" dy="-2.6">3</tspan></text>
<text x="113.20" y="182.50" font-size="6.4" fill="#111" stroke="#111" stroke-width="0.14">−10<tspan font-size="4.8" dy="-2.6">3</tspan></text>
<text x="128.20" y="182.50" font-size="6.4" text-anchor="start" font-weight="normal" fill="#111" stroke="#111" stroke-width="0.14" >0</text>
<text x="134.80" y="182.50" font-size="6.4" fill="#111" stroke="#111" stroke-width="0.14">10<tspan font-size="4.8" dy="-2.6">3</tspan></text>
<text x="150.70" y="182.50" font-size="6.4" fill="#111" stroke="#111" stroke-width="0.14">10<tspan font-size="4.8" dy="-2.6">4</tspan></text>
<text x="165.30" y="182.50" font-size="6.4" fill="#111" stroke="#111" stroke-width="0.14">10<tspan font-size="4.8" dy="-2.6">5</tspan></text>
<path d="M196.40,122.62h1.6M196.40,121.23h1.6M196.40,120.24h1.6M196.40,119.48h1.6M196.40,118.85h1.6M196.40,118.32h1.6M196.40,117.87h1.6M196.40,117.46h1.6M196.40,130.66h1.6M196.40,129.24h1.6M196.40,128.22h1.6M196.40,127.44h1.6M196.40,126.80h1.6M196.40,126.25h1.6M196.40,125.78h1.6M196.40,125.37h1.6M196.40,139.11h1.6M196.40,137.60h1.6M196.40,136.52h1.6M196.40,135.69h1.6M196.40,135.01h1.6M196.40,134.43h1.6M196.40,133.93h1.6M196.40,133.49h1.6M196.40,148.69h1.6M196.40,146.93h1.6M196.40,145.68h1.6M196.40,144.71h1.6M196.40,143.92h1.6M196.40,143.25h1.6M196.40,142.67h1.6M196.40,142.16h1.6M195.20,117.10h2.8M195.20,125.00h2.8M195.20,133.10h2.8M195.20,141.70h2.8M195.20,151.70h2.8M195.20,157.00h2.8M195.20,164.50h2.8M196.60,153.10h1.4M196.60,154.30h1.4M196.60,155.50h1.4M196.60,158.30h1.4M196.60,159.50h1.4M196.60,160.70h1.4M196.60,161.90h1.4M196.60,163.10h1.4M196.60,166.40h1.4M196.60,168.40h1.4M202.00,171.30v2.6M211.60,171.30v2.6M220.20,171.30v2.6M236.00,171.30v2.6M250.60,171.30v2.6M224.96,171.30v1.6M227.74,171.30v1.6M229.71,171.30v1.6M231.24,171.30v1.6M232.49,171.30v1.6M233.55,171.30v1.6M234.47,171.30v1.6M235.28,171.30v1.6M240.40,171.30v1.6M242.97,171.30v1.6M244.79,171.30v1.6M246.20,171.30v1.6M247.36,171.30v1.6M248.34,171.30v1.6M249.19,171.30v1.6M249.93,171.30v1.6M199.50,171.30v1.4M204.00,171.30v1.4M206.00,171.30v1.4M208.00,171.30v1.4M209.80,171.30v1.4M213.20,171.30v1.4M214.60,171.30v1.4M216.00,171.30v1.4M217.40,171.30v1.4M218.80,171.30v1.4M222.00,171.30v1.4M224.00,171.30v1.4M226.00,171.30v1.4M228.00,171.30v1.4M230.00,171.30v1.4M232.00,171.30v1.4M234.00,171.30v1.4M253.00,171.30v1.4M255.00,171.30v1.4" stroke="#111" stroke-width="0.8" fill="none"/>
<text x="184.20" y="119.40" font-size="6.4" fill="#111" stroke="#111" stroke-width="0.14">10<tspan font-size="4.8" dy="-2.6">7</tspan></text>
<text x="184.20" y="127.30" font-size="6.4" fill="#111" stroke="#111" stroke-width="0.14">10<tspan font-size="4.8" dy="-2.6">6</tspan></text>
<text x="184.20" y="135.40" font-size="6.4" fill="#111" stroke="#111" stroke-width="0.14">10<tspan font-size="4.8" dy="-2.6">5</tspan></text>
<text x="184.20" y="144.00" font-size="6.4" fill="#111" stroke="#111" stroke-width="0.14">10<tspan font-size="4.8" dy="-2.6">4</tspan></text>
<text x="184.20" y="154.00" font-size="6.4" fill="#111" stroke="#111" stroke-width="0.14">10<tspan font-size="4.8" dy="-2.6">3</tspan></text>
<text x="187.60" y="159.30" font-size="6.4" text-anchor="start" font-weight="normal" fill="#111" stroke="#111" stroke-width="0.14" >0</text>
<text x="180.00" y="166.80" font-size="6.4" fill="#111" stroke="#111" stroke-width="0.14">−10<tspan font-size="4.8" dy="-2.6">3</tspan></text>
<text x="195.20" y="182.50" font-size="6.4" fill="#111" stroke="#111" stroke-width="0.14">−10<tspan font-size="4.8" dy="-2.6">3</tspan></text>
<text x="210.20" y="182.50" font-size="6.4" text-anchor="start" font-weight="normal" fill="#111" stroke="#111" stroke-width="0.14" >0</text>
<text x="216.80" y="182.50" font-size="6.4" fill="#111" stroke="#111" stroke-width="0.14">10<tspan font-size="4.8" dy="-2.6">3</tspan></text>
<text x="232.70" y="182.50" font-size="6.4" fill="#111" stroke="#111" stroke-width="0.14">10<tspan font-size="4.8" dy="-2.6">4</tspan></text>
<text x="247.30" y="182.50" font-size="6.4" fill="#111" stroke="#111" stroke-width="0.14">10<tspan font-size="4.8" dy="-2.6">5</tspan></text>
<path d="M278.40,122.62h1.6M278.40,121.23h1.6M278.40,120.24h1.6M278.40,119.48h1.6M278.40,118.85h1.6M278.40,118.32h1.6M278.40,117.87h1.6M278.40,117.46h1.6M278.40,130.66h1.6M278.40,129.24h1.6M278.40,128.22h1.6M278.40,127.44h1.6M278.40,126.80h1.6M278.40,126.25h1.6M278.40,125.78h1.6M278.40,125.37h1.6M278.40,139.11h1.6M278.40,137.60h1.6M278.40,136.52h1.6M278.40,135.69h1.6M278.40,135.01h1.6M278.40,134.43h1.6M278.40,133.93h1.6M278.40,133.49h1.6M278.40,148.69h1.6M278.40,146.93h1.6M278.40,145.68h1.6M278.40,144.71h1.6M278.40,143.92h1.6M278.40,143.25h1.6M278.40,142.67h1.6M278.40,142.16h1.6M277.20,117.10h2.8M277.20,125.00h2.8M277.20,133.10h2.8M277.20,141.70h2.8M277.20,151.70h2.8M277.20,157.00h2.8M277.20,164.50h2.8M278.60,153.10h1.4M278.60,154.30h1.4M278.60,155.50h1.4M278.60,158.30h1.4M278.60,159.50h1.4M278.60,160.70h1.4M278.60,161.90h1.4M278.60,163.10h1.4M278.60,166.40h1.4M278.60,168.40h1.4M284.00,171.30v2.6M293.60,171.30v2.6M302.20,171.30v2.6M318.00,171.30v2.6M332.60,171.30v2.6M306.96,171.30v1.6M309.74,171.30v1.6M311.71,171.30v1.6M313.24,171.30v1.6M314.49,171.30v1.6M315.55,171.30v1.6M316.47,171.30v1.6M317.28,171.30v1.6M322.40,171.30v1.6M324.97,171.30v1.6M326.79,171.30v1.6M328.20,171.30v1.6M329.36,171.30v1.6M330.34,171.30v1.6M331.19,171.30v1.6M331.93,171.30v1.6M281.50,171.30v1.4M286.00,171.30v1.4M288.00,171.30v1.4M290.00,171.30v1.4M291.80,171.30v1.4M295.20,171.30v1.4M296.60,171.30v1.4M298.00,171.30v1.4M299.40,171.30v1.4M300.80,171.30v1.4M304.00,171.30v1.4M306.00,171.30v1.4M308.00,171.30v1.4M310.00,171.30v1.4M312.00,171.30v1.4M314.00,171.30v1.4M316.00,171.30v1.4M335.00,171.30v1.4M337.00,171.30v1.4" stroke="#111" stroke-width="0.8" fill="none"/>
<text x="266.20" y="119.40" font-size="6.4" fill="#111" stroke="#111" stroke-width="0.14">10<tspan font-size="4.8" dy="-2.6">7</tspan></text>
<text x="266.20" y="127.30" font-size="6.4" fill="#111" stroke="#111" stroke-width="0.14">10<tspan font-size="4.8" dy="-2.6">6</tspan></text>
<text x="266.20" y="135.40" font-size="6.4" fill="#111" stroke="#111" stroke-width="0.14">10<tspan font-size="4.8" dy="-2.6">5</tspan></text>
<text x="266.20" y="144.00" font-size="6.4" fill="#111" stroke="#111" stroke-width="0.14">10<tspan font-size="4.8" dy="-2.6">4</tspan></text>
<text x="266.20" y="154.00" font-size="6.4" fill="#111" stroke="#111" stroke-width="0.14">10<tspan font-size="4.8" dy="-2.6">3</tspan></text>
<text x="269.60" y="159.30" font-size="6.4" text-anchor="start" font-weight="normal" fill="#111" stroke="#111" stroke-width="0.14" >0</text>
<text x="262.00" y="166.80" font-size="6.4" fill="#111" stroke="#111" stroke-width="0.14">−10<tspan font-size="4.8" dy="-2.6">3</tspan></text>
<text x="277.20" y="182.50" font-size="6.4" fill="#111" stroke="#111" stroke-width="0.14">−10<tspan font-size="4.8" dy="-2.6">3</tspan></text>
<text x="292.20" y="182.50" font-size="6.4" text-anchor="start" font-weight="normal" fill="#111" stroke="#111" stroke-width="0.14" >0</text>
<text x="298.80" y="182.50" font-size="6.4" fill="#111" stroke="#111" stroke-width="0.14">10<tspan font-size="4.8" dy="-2.6">3</tspan></text>
<text x="314.70" y="182.50" font-size="6.4" fill="#111" stroke="#111" stroke-width="0.14">10<tspan font-size="4.8" dy="-2.6">4</tspan></text>
<text x="329.30" y="182.50" font-size="6.4" fill="#111" stroke="#111" stroke-width="0.14">10<tspan font-size="4.8" dy="-2.6">5</tspan></text>
<path d="M360.40,122.62h1.6M360.40,121.23h1.6M360.40,120.24h1.6M360.40,119.48h1.6M360.40,118.85h1.6M360.40,118.32h1.6M360.40,117.87h1.6M360.40,117.46h1.6M360.40,130.66h1.6M360.40,129.24h1.6M360.40,128.22h1.6M360.40,127.44h1.6M360.40,126.80h1.6M360.40,126.25h1.6M360.40,125.78h1.6M360.40,125.37h1.6M360.40,139.11h1.6M360.40,137.60h1.6M360.40,136.52h1.6M360.40,135.69h1.6M360.40,135.01h1.6M360.40,134.43h1.6M360.40,133.93h1.6M360.40,133.49h1.6M360.40,148.69h1.6M360.40,146.93h1.6M360.40,145.68h1.6M360.40,144.71h1.6M360.40,143.92h1.6M360.40,143.25h1.6M360.40,142.67h1.6M360.40,142.16h1.6M359.20,117.10h2.8M359.20,125.00h2.8M359.20,133.10h2.8M359.20,141.70h2.8M359.20,151.70h2.8M359.20,157.00h2.8M359.20,164.50h2.8M360.60,153.10h1.4M360.60,154.30h1.4M360.60,155.50h1.4M360.60,158.30h1.4M360.60,159.50h1.4M360.60,160.70h1.4M360.60,161.90h1.4M360.60,163.10h1.4M360.60,166.40h1.4M360.60,168.40h1.4M366.00,171.30v2.6M375.60,171.30v2.6M384.20,171.30v2.6M400.00,171.30v2.6M414.60,171.30v2.6M388.96,171.30v1.6M391.74,171.30v1.6M393.71,171.30v1.6M395.24,171.30v1.6M396.49,171.30v1.6M397.55,171.30v1.6M398.47,171.30v1.6M399.28,171.30v1.6M404.40,171.30v1.6M406.97,171.30v1.6M408.79,171.30v1.6M410.20,171.30v1.6M411.36,171.30v1.6M412.34,171.30v1.6M413.19,171.30v1.6M413.93,171.30v1.6M363.50,171.30v1.4M368.00,171.30v1.4M370.00,171.30v1.4M372.00,171.30v1.4M373.80,171.30v1.4M377.20,171.30v1.4M378.60,171.30v1.4M380.00,171.30v1.4M381.40,171.30v1.4M382.80,171.30v1.4M386.00,171.30v1.4M388.00,171.30v1.4M390.00,171.30v1.4M392.00,171.30v1.4M394.00,171.30v1.4M396.00,171.30v1.4M398.00,171.30v1.4M417.00,171.30v1.4M419.00,171.30v1.4" stroke="#111" stroke-width="0.8" fill="none"/>
<text x="348.20" y="119.40" font-size="6.4" fill="#111" stroke="#111" stroke-width="0.14">10<tspan font-size="4.8" dy="-2.6">7</tspan></text>
<text x="348.20" y="127.30" font-size="6.4" fill="#111" stroke="#111" stroke-width="0.14">10<tspan font-size="4.8" dy="-2.6">6</tspan></text>
<text x="348.20" y="135.40" font-size="6.4" fill="#111" stroke="#111" stroke-width="0.14">10<tspan font-size="4.8" dy="-2.6">5</tspan></text>
<text x="348.20" y="144.00" font-size="6.4" fill="#111" stroke="#111" stroke-width="0.14">10<tspan font-size="4.8" dy="-2.6">4</tspan></text>
<text x="348.20" y="154.00" font-size="6.4" fill="#111" stroke="#111" stroke-width="0.14">10<tspan font-size="4.8" dy="-2.6">3</tspan></text>
<text x="351.60" y="159.30" font-size="6.4" text-anchor="start" font-weight="normal" fill="#111" stroke="#111" stroke-width="0.14" >0</text>
<text x="344.00" y="166.80" font-size="6.4" fill="#111" stroke="#111" stroke-width="0.14">−10<tspan font-size="4.8" dy="-2.6">3</tspan></text>
<text x="359.20" y="182.50" font-size="6.4" fill="#111" stroke="#111" stroke-width="0.14">−10<tspan font-size="4.8" dy="-2.6">3</tspan></text>
<text x="374.20" y="182.50" font-size="6.4" text-anchor="start" font-weight="normal" fill="#111" stroke="#111" stroke-width="0.14" >0</text>
<text x="380.80" y="182.50" font-size="6.4" fill="#111" stroke="#111" stroke-width="0.14">10<tspan font-size="4.8" dy="-2.6">3</tspan></text>
<text x="396.70" y="182.50" font-size="6.4" fill="#111" stroke="#111" stroke-width="0.14">10<tspan font-size="4.8" dy="-2.6">4</tspan></text>
<text x="411.30" y="182.50" font-size="6.4" fill="#111" stroke="#111" stroke-width="0.14">10<tspan font-size="4.8" dy="-2.6">5</tspan></text>
<path d="M442.40,122.62h1.6M442.40,121.23h1.6M442.40,120.24h1.6M442.40,119.48h1.6M442.40,118.85h1.6M442.40,118.32h1.6M442.40,117.87h1.6M442.40,117.46h1.6M442.40,130.66h1.6M442.40,129.24h1.6M442.40,128.22h1.6M442.40,127.44h1.6M442.40,126.80h1.6M442.40,126.25h1.6M442.40,125.78h1.6M442.40,125.37h1.6M442.40,139.11h1.6M442.40,137.60h1.6M442.40,136.52h1.6M442.40,135.69h1.6M442.40,135.01h1.6M442.40,134.43h1.6M442.40,133.93h1.6M442.40,133.49h1.6M442.40,148.69h1.6M442.40,146.93h1.6M442.40,145.68h1.6M442.40,144.71h1.6M442.40,143.92h1.6M442.40,143.25h1.6M442.40,142.67h1.6M442.40,142.16h1.6M441.20,117.10h2.8M441.20,125.00h2.8M441.20,133.10h2.8M441.20,141.70h2.8M441.20,151.70h2.8M441.20,157.00h2.8M441.20,164.50h2.8M442.60,153.10h1.4M442.60,154.30h1.4M442.60,155.50h1.4M442.60,158.30h1.4M442.60,159.50h1.4M442.60,160.70h1.4M442.60,161.90h1.4M442.60,163.10h1.4M442.60,166.40h1.4M442.60,168.40h1.4M448.00,171.30v2.6M457.60,171.30v2.6M466.20,171.30v2.6M482.00,171.30v2.6M496.60,171.30v2.6M470.96,171.30v1.6M473.74,171.30v1.6M475.71,171.30v1.6M477.24,171.30v1.6M478.49,171.30v1.6M479.55,171.30v1.6M480.47,171.30v1.6M481.28,171.30v1.6M486.40,171.30v1.6M488.97,171.30v1.6M490.79,171.30v1.6M492.20,171.30v1.6M493.36,171.30v1.6M494.34,171.30v1.6M495.19,171.30v1.6M495.93,171.30v1.6M445.50,171.30v1.4M450.00,171.30v1.4M452.00,171.30v1.4M454.00,171.30v1.4M455.80,171.30v1.4M459.20,171.30v1.4M460.60,171.30v1.4M462.00,171.30v1.4M463.40,171.30v1.4M464.80,171.30v1.4M468.00,171.30v1.4M470.00,171.30v1.4M472.00,171.30v1.4M474.00,171.30v1.4M476.00,171.30v1.4M478.00,171.30v1.4M480.00,171.30v1.4M499.00,171.30v1.4M501.00,171.30v1.4" stroke="#111" stroke-width="0.8" fill="none"/>
<text x="430.20" y="119.40" font-size="6.4" fill="#111" stroke="#111" stroke-width="0.14">10<tspan font-size="4.8" dy="-2.6">7</tspan></text>
<text x="430.20" y="127.30" font-size="6.4" fill="#111" stroke="#111" stroke-width="0.14">10<tspan font-size="4.8" dy="-2.6">6</tspan></text>
<text x="430.20" y="135.40" font-size="6.4" fill="#111" stroke="#111" stroke-width="0.14">10<tspan font-size="4.8" dy="-2.6">5</tspan></text>
<text x="430.20" y="144.00" font-size="6.4" fill="#111" stroke="#111" stroke-width="0.14">10<tspan font-size="4.8" dy="-2.6">4</tspan></text>
<text x="430.20" y="154.00" font-size="6.4" fill="#111" stroke="#111" stroke-width="0.14">10<tspan font-size="4.8" dy="-2.6">3</tspan></text>
<text x="433.60" y="159.30" font-size="6.4" text-anchor="start" font-weight="normal" fill="#111" stroke="#111" stroke-width="0.14" >0</text>
<text x="426.00" y="166.80" font-size="6.4" fill="#111" stroke="#111" stroke-width="0.14">−10<tspan font-size="4.8" dy="-2.6">3</tspan></text>
<text x="441.20" y="182.50" font-size="6.4" fill="#111" stroke="#111" stroke-width="0.14">−10<tspan font-size="4.8" dy="-2.6">3</tspan></text>
<text x="456.20" y="182.50" font-size="6.4" text-anchor="start" font-weight="normal" fill="#111" stroke="#111" stroke-width="0.14" >0</text>
<text x="462.80" y="182.50" font-size="6.4" fill="#111" stroke="#111" stroke-width="0.14">10<tspan font-size="4.8" dy="-2.6">3</tspan></text>
<text x="478.70" y="182.50" font-size="6.4" fill="#111" stroke="#111" stroke-width="0.14">10<tspan font-size="4.8" dy="-2.6">4</tspan></text>
<text x="493.30" y="182.50" font-size="6.4" fill="#111" stroke="#111" stroke-width="0.14">10<tspan font-size="4.8" dy="-2.6">5</tspan></text>
<g filter="url(#soft)"><path d="M61.8 46.6 62 46.4 68.2 46.4 68.5 46.6 70 46.6 70.2 46.9 71.5 46.9 71.8 47.2 72.5 47.2 72.8 47.4 73.2 47.4 73.5 47.7 74 47.7 74.2 47.9 74.5 47.9 74.8 48.1 75 48.1 76.7 49.9 76.7 50.1 77 50.4 77 50.9 77.2 51.1 77.2 52.6 77.5 52.9 77.4 56.6 77.2 56.9 77.2 59.1 76.9 59.4 76.9 60.9 76.7 61.1 76.7 62.3 76.5 62.6 76.5 63.1 76.2 63.4 76.2 63.6 75.7 64.1 75.7 65.3 75.5 65.6 75.5 66.1 75 66.8 75 67.1 74.2 67.8 73.5 68.1 73.5 70.6 73.2 70.8 73.2 73.3 73 73.6 73 74.1 72.4 74.8 72.5 75.1 71.7 75.8 71.7 76.1 71 76.8 70.8 76.8 70.2 77.3 70 77.3 69.8 77.6 69.2 77.6 69 77.8 66.5 77.8 66.2 77.6 65.5 77.6 65.2 77.3 65 77.3 64.8 77.1 64.5 77.1 64.2 76.8 64 76.8 63.8 76.6 63.5 76.6 63 76.1 62 75.1 62 74.8 61.5 74.1 61.5 71.6 61.8 71.3 61.8 71.1 62.5 70.4 62.8 70.4 63 70.1 63.8 70.1 64 69.9 64.8 69.9 65.5 69.4 66 69.4 66.2 69.1 66.5 69.1 67 68.6 67.2 68.6 67.5 68.4 67.8 68.4 68.3 67.8 68.3 67.6 68.8 66.8 68.8 66.3 69.8 65.3 69.8 64.8 70 64.6 70 64.1 69.5 64.1 69.2 63.8 68.8 63.8 68.5 63.6 68 63.6 67.8 63.3 67 63.3 66.8 63.1 66 63.1 65.8 62.8 65 62.8 64.8 62.6 64.2 62.6 64 62.3 63.5 62.3 63.2 62.1 62.8 62.1 62 61.6 61.2 61.3 60 60.3 59.8 60.3 58.8 59.3 58.5 59.3 57.5 58.4 57.5 58.1 56.3 56.9 56.3 56.6 55.3 55.4 55.3 55.1 55 54.9 55 54.6 54.8 54.4 54.8 54.1 54.5 53.9 54.5 53.4 54.3 53.1 54.3 52.6 54 52.4 54 50.1 54.5 49.4 54.5 49.1 54.8 48.9 54.8 48.6 55.2 48.1 55.5 48.1 56 47.6 56.2 47.6 56.5 47.4 57.2 47.4 57.5 47.1 58.2 47.1 58.5 46.9 59.8 46.9 60 46.6 61.8 46.6Z" fill="#d2d2d2" fill-rule="evenodd" stroke="#1e1e1e" stroke-width="0.42"/><path d="M61.9 46.6 62 46.5 68.2 46.5 68.5 46.7 70 46.7 70.2 47 71.5 47 71.8 47.3 72.5 47.3 72.8 47.6 73.2 47.5 73.5 47.8 74 47.8 74.2 48 74.5 48 74.8 48.3 75 48.2 76.6 49.9 76.6 50.1 76.9 50.4 76.9 50.9 77.1 51.1 77.1 52.6 77.4 52.9 77.3 56.6 77.1 56.9 77.1 59.1 76.8 59.4 76.8 60.9 76.6 61.1 76.6 62.4 76.4 62.6 76.4 63.1 76.1 63.4 76.1 63.6 75.5 64.3 75.5 65.3 75.3 65.6 75.3 66.1 74.8 66.8 74.8 67.1 74.2 67.6 73.5 67.9 73.3 68.1 73.3 70.6 73 70.8 73 73.3 72.8 73.6 72.8 74.1 72.5 74.3 72.5 74.6 72.3 74.8 72.3 75.1 71.5 75.8 71.5 76.1 71 76.6 70.8 76.6 70.2 77.1 70 77.1 69.8 77.4 69.2 77.4 69 77.6 66.5 77.6 66.2 77.4 65.5 77.4 65.2 77.1 65 77.2 64.8 76.9 64.5 76.9 64.2 76.7 64 76.7 63.8 76.4 63.5 76.4 63 75.9 62.2 75.1 62.2 74.8 61.7 74.1 61.7 71.6 61.9 71.3 61.9 71.1 62.5 70.5 62.8 70.5 63 70.3 63.8 70.3 64 70 64.8 70.1 65.5 69.6 66 69.6 66.2 69.3 66.5 69.3 67 68.8 67.2 68.8 67.5 68.6 67.8 68.6 68.5 67.8 68.4 67.6 68.9 66.8 68.9 66.3 70 65.3 70 64.8 70.2 64.6 70.2 64.3 70 64 69.5 64 69.2 63.7 68.8 63.7 68.5 63.5 68 63.5 67.8 63.2 67 63.2 66.8 63 66 63 65.8 62.7 65 62.7 64.8 62.5 64.2 62.5 64 62.2 63.5 62.2 63.2 62 62.8 62 62 61.5 61.2 61.2 60 60.2 59.8 60.2 58.8 59.2 58.5 59.2 57.6 58.4 57.6 58.1 56.4 56.9 56.4 56.6 55.4 55.4 55.4 55.1 55.1 54.9 55.1 54.6 54.9 54.4 54.9 54.1 54.6 53.9 54.6 53.4 54.4 53.1 54.4 52.6 54.1 52.4 54.1 50.1 54.6 49.4 54.6 49.1 54.9 48.9 54.9 48.6 55.2 48.2 55.5 48.2 56 47.7 56.2 47.7 56.5 47.5 57.2 47.5 57.5 47.2 58.2 47.2 58.5 47 59.8 47 60 46.7 61.8 46.7 61.9 46.6Z" fill="#c0c0c0" fill-rule="evenodd" stroke="#1e1e1e" stroke-width="0.42"/><path d="M63.8 46.6 68.2 46.6 68.5 46.8 70 46.8 70.2 47.1 71.2 47.1 71.8 47.4 72.2 47.4 72.8 47.7 73.8 47.9 75 48.4 76.5 49.9 76.5 50.1 76.8 50.4 76.8 50.9 77 51.1 77 52.6 77.3 52.9 77.2 56.4 76.9 56.9 76.9 58.9 76.7 59.4 76.7 60.6 76.5 61.1 76.5 62.4 76.2 62.6 76.2 63.1 76 63.4 76 63.6 75.1 64.6 75.1 65.1 75 65.3 74.9 65.8 74.4 66.8 74 67.2 72.9 67.8 73 68.1 73 70.3 72.7 70.8 72.7 73.1 71.9 74.8 71.2 75.5 71 76.1 70.5 76.3 70 76.8 69.5 77 69 77.1 68.8 77.3 66.8 77.3 66.4 77.1 65.8 77.1 63.5 75.9 62.7 75.1 62.2 74.1 62 73.8 62 71.8 62.4 71.1 63.2 70.6 63.8 70.6 64.2 70.4 64.9 70.3 65.8 69.9 66.2 69.9 66.8 69.6 67.2 69.2 68 68.8 68.7 68.1 69.4 66.3 69.8 66.1 70 66 70.3 65.6 70.4 65.1 70.8 64.3 70.8 64.2 70.2 64.1 70 63.9 69.5 63.9 69.2 63.6 68.8 63.6 68.5 63.4 68 63.4 67.8 63.1 67 63.1 66.8 62.9 66 62.9 65.8 62.6 65 62.6 64.8 62.4 64.2 62.4 64 62.1 63.5 62.1 63.2 61.9 62.8 61.9 62 61.4 61.2 61.1 60.8 60.6 60.5 60.6 60 60.1 59.8 60.1 58.8 59.1 58.5 59.1 57.7 58.4 57.7 58.1 56.5 56.9 56.5 56.6 55.5 55.4 55.5 55.1 55.2 54.9 55.2 54.6 55 54.4 55 54.1 54.8 53.9 54.8 53.4 54.5 53.1 54.5 52.6 54.3 52.4 54.3 50.4 54.5 49.6 54.8 49.4 54.8 49.1 55 48.9 55 48.6 56.5 47.6 57.2 47.6 57.5 47.4 58.2 47.4 58.5 47.1 59.8 47.1 60 46.9 61.8 46.9 62 46.6 63.8 46.6Z" fill="#aeaeae" fill-rule="evenodd" stroke="#1e1e1e" stroke-width="0.42"/><path d="M62.2 46.9 68 46.8 68.5 47 69.8 47 70.2 47.3 71.2 47.3 71.7 47.6 72.2 47.6 73.2 48.1 73.8 48.1 75 48.7 76.2 50 76.8 51.4 76.8 52.6 77.1 53.1 77 56.4 76.8 56.9 76.7 58.9 76.5 59.4 76.5 60.6 76.3 61.1 76.3 62.1 75.6 63.6 75.2 64 74.6 64.3 74.3 65.6 73.9 66.6 72.8 67.2 71.7 67.3 72.4 67.8 72.6 68.3 72.6 70.1 72.3 70.8 72.2 72.8 71.4 74.6 70.9 75.1 70.5 75.8 69.8 76.3 68.5 76.8 67 76.8 66.5 76.6 66 76.6 63.8 75.6 63 74.8 62.4 73.6 62.4 72.1 62.8 71.4 63.5 71 65 70.8 66.5 70.3 68.2 69.3 69.1 68.3 69.8 66.6 70.2 66.5 70.8 66.7 70.9 66.6 70.7 66.3 70.7 66.1 71.4 64.3 71 64 67.8 62.9 67.2 62.9 66.8 62.7 66.2 62.7 65.8 62.4 65.2 62.4 64.8 62.2 63 61.7 61.5 60.9 59.8 59.8 59 59 58.5 58.8 58.1 58.4 57.8 57.9 56.8 56.9 55.7 55.1 54.9 53.6 54.6 52.4 54.5 52.1 54.5 50.4 55.2 48.8 56.8 47.8 57.2 47.8 57.8 47.6 58.2 47.6 58.8 47.3 59.8 47.3 60.2 47.1 61.8 47.1 62.2 46.9ZM71 66.8 71 66.8 71 66.9 71 66.8 71 66.8ZM71.2 67.1 71.2 67.1 71.2 67.1 71.3 67.1 71.2 67.1Z" fill="#9c9c9c" fill-rule="evenodd" stroke="#1e1e1e" stroke-width="0.42"/><path d="M62.1 47.1 62.5 47 67.8 47 68.5 47.2 69.8 47.2 70.2 47.5 71.2 47.6 71.5 47.7 72.2 47.9 73.2 48.3 73.8 48.3 74.8 48.8 76 50 76.4 50.6 76.4 51.1 76.6 51.4 76.6 52.6 76.9 53.4 76.8 56.1 76.6 56.9 76.6 58.6 76.3 59.4 76.3 60.6 76.1 60.9 76.1 62.1 75.9 62.4 75.8 62.9 75.6 63.4 75.2 63.9 74.5 64.2 72 64.2 70.2 63.5 69.8 63.5 68 62.8 65.2 62.2 64.2 61.8 63 61.5 61.5 60.7 59.8 59.6 59.1 58.9 58.8 58.7 58.2 58.3 58 57.7 56.9 56.6 55.9 55.1 55.4 54.1 54.7 52.1 54.6 50.6 55.4 48.9 56.8 48 57.5 47.9 57.8 47.8 58.5 47.7 58.8 47.5 59.8 47.5 60.2 47.3 61.8 47.2 62.1 47.1ZM70.4 67.8 70.5 67.7 71.6 68.6 71.5 69.4 71.3 69.8 70.5 69.9 70.2 69.6 70.1 68.8 70.4 67.8ZM63.7 72.1 64.5 72.3 64.7 72.6 64.8 73.8 64.6 74.3 64 74.2 63.5 73.5 63.4 72.3 63.7 72.1Z" fill="#8a8a8a" fill-rule="evenodd" stroke="#1e1e1e" stroke-width="0.42"/><path d="M62.1 47.4 62.5 47.2 67.8 47.2 68.2 47.4 69.5 47.4 70 47.6 71 47.7 73.8 48.6 74.8 49 75.9 50.1 76.1 50.6 76.4 51.6 76.4 52.6 76.7 53.4 76.7 56.1 76.4 56.9 76.4 58.6 76.2 59.1 76.1 60.4 75.9 60.9 75.9 61.9 75.6 62.9 75.4 63.4 75 63.7 74.2 64 72.2 64 70.2 63.3 68 62.6 65.2 62 63 61.2 61.5 60.5 60 59.5 59.2 58.7 58.8 58.5 58.4 58.1 58.1 57.6 57.1 56.6 56.1 55.1 55.4 53.6 54.8 51.9 54.8 50.6 55.5 49.1 56.2 48.5 57 48.2 58.5 47.9 59 47.7 60 47.7 60.5 47.4 62.1 47.4Z" fill="#7a7a7a" fill-rule="evenodd" stroke="#1e1e1e" stroke-width="0.42"/><path d="M62.1 47.6 62.5 47.4 67.8 47.4 68.2 47.6 69.5 47.6 70 47.9 71 47.9 71.5 48.2 72 48.2 74.5 49.2 75.8 50.4 76.2 51.6 76.3 52.9 76.5 53.3 76.4 56.1 76.1 56.9 76.1 58.6 75.9 59.1 75.9 60.4 75.7 60.8 75.7 61.9 75.3 63.1 74.8 63.6 74.2 63.8 72.2 63.8 70.2 63.1 68 62.4 65.5 61.8 63.2 61.1 61.7 60.4 60.2 59.4 59.4 58.6 58.7 58.1 58.2 57.4 57.2 56.4 56.2 54.9 55.5 53.4 55.1 51.9 55.1 50.6 55.8 49.1 57 48.4 58.5 48.1 59 47.9 60 47.9 60.5 47.7 62.1 47.6ZM61.5 50.3 60.6 50.6 60.2 51.1 60.2 51.6 60.6 52.1 63.1 53.6 64.7 55.4 65.8 56.2 67.2 56.9 68.8 57 69.3 56.9 69.7 56.6 70.1 56.1 70 55.6 69.5 54.9 66.7 52.9 65.4 51.4 64.7 50.9 63.2 50.3 61.5 50.3Z" fill="#6c6c6c" fill-rule="evenodd" stroke="#1e1e1e" stroke-width="0.42"/><path d="M62.4 47.9 62.8 47.8 67.5 47.7 68.2 47.9 69.5 47.9 70 48.2 71 48.3 72.8 49.2 74.2 49.5 75.3 50.4 75.6 50.9 75.9 51.6 75.9 52.9 76.1 53.4 76.1 55.9 75.8 56.6 75.8 58.4 75.5 59.1 75.6 60.1 75.4 60.9 75.4 61.9 75 62.9 74.8 63.2 74.2 63.5 72.5 63.5 70 62.7 68 62 65.5 61.5 63.2 60.8 61.9 60.1 60.2 59 59.5 58.3 58.9 57.9 58.5 57.2 57.6 56.4 56.5 54.6 55.9 53.4 55.4 51.9 55.4 50.6 56 49.4 57 48.8 58.5 48.5 59 48.3 60 48.3 60.8 48 62 48 62.4 47.9ZM61 49.3 59.8 49.7 58.8 50.3 58.3 50.9 58.3 51.6 58.8 52.4 60.9 54.1 62.5 55.9 63.5 56.7 64.8 57.5 66 58.2 68.5 58.9 69.8 59 71 58.9 71.8 58.6 72.5 58.1 72.9 57.6 73.2 56.9 73.5 52.9 73.4 51.4 73 50.6 72.8 50.3 72.5 50.2 72 50.4 70.5 52.1 69.8 52.4 68.8 52.1 66.3 50.4 65 49.7 63 49.3 61 49.3Z" fill="#606060" fill-rule="evenodd" stroke="#1e1e1e" stroke-width="0.42"/><path d="M149.5 48.4 149.8 48.2 153.5 48.3 154 48.5 154.8 48.5 155.2 48.7 155.8 48.7 157.8 49.4 158 49.6 158.2 49.6 158.8 50.1 159 50.1 160.9 51.9 160.9 52.1 161.4 52.9 161.4 53.4 161.6 53.6 161.6 55.9 161.4 56.1 161.4 57.1 160.8 57.9 160.8 58.1 160.6 58.4 160.6 58.6 160.3 58.9 160.3 59.1 160 59.4 160 59.6 159.5 60.1 159.5 60.4 158.8 61 158.7 61.4 156.5 63.4 156 63.6 155.2 64.5 154.9 64.6 154.8 64.8 154.5 65.1 154.2 65.1 154 65.4 153.7 65.3 153.5 65.7 152.8 65.6 152.5 66 152 66 151.8 65.6 150.8 65.6 150 65.1 149.5 65.1 149 64.6 148.8 64.6 148.2 64.1 148 64.1 146.5 62.6 146.5 62.4 146 61.9 146 61.6 145.5 61.1 145.5 60.9 145.2 60.6 145.2 60.4 145 60.1 145 59.6 144.7 59.4 144.7 58.9 144.4 58.6 144.5 57.4 144.2 57.1 144.2 54.4 144.5 54.1 144.4 53.4 144.7 53.1 144.7 52.6 145.2 51.9 145.2 51.6 145.5 51.4 145.5 51.1 147.8 48.9 149 48.4 149.5 48.4ZM157.5 64.3 157.8 64.3 158.4 64.6 158.8 65.1 158.8 65.6 159.1 65.8 159.1 66.6 159.4 66.8 159.4 67.3 159.7 67.6 159.7 68.3 160 68.6 160 69.3 160.2 69.6 160.2 70.3 160.5 70.6 160.5 71.8 160.7 72.1 160.8 74.1 161 74.3 161 76.6 160.8 76.8 160.8 77.8 160.5 78.1 160.5 78.6 160.3 78.8 160.2 79.1 159.5 79.8 159.5 80.1 159.3 80.3 159 80.4 158.5 80.8 158 80.9 157.8 81.1 155.2 81.1 155 81 154.1 80.8 153.8 80.5 153.4 80.3 152.8 79.7 151.9 79.3 151.5 78.9 150.2 78.4 148.8 78.5 146.5 79.5 146 79.5 145.5 79.7 144.8 79.7 144.2 79.9 143.5 79.9 143.2 79.7 142.5 79.6 141.2 78.9 141 78.8 140.5 78.4 140.2 78.3 139.5 77.6 139.2 77.6 138.8 77.1 138.7 76.8 138.2 76.4 138.2 76.1 138 75.9 138 75.1 138.2 74.8 138.2 74.3 138.7 73.8 138.8 73.6 139 73.3 139.2 73.3 139.8 72.9 140.2 72.8 141 72.4 141.5 72.4 142 71.9 142.8 71.6 143.5 70.9 143.8 70.9 144.3 70.3 144.3 70.1 144.8 69.6 144.8 69.3 145 69.1 145 68.6 145.3 68.3 145.3 67.6 145.6 67.3 145.6 66.6 145.9 66.3 145.9 65.8 146.2 65.6 146.2 65.3 146.5 65.1 146.8 65.1 147 65.3 147.5 65.5 148.2 65.9 150 66.5 150.5 66.3 151.5 66.3 153.8 65.8 156 65.1 157.5 64.3Z" fill="#d2d2d2" fill-rule="evenodd" stroke="#1e1e1e" stroke-width="0.42"/><path d="M149.7 48.4 153.5 48.4 153.9 48.6 154.8 48.6 155.2 48.8 155.8 48.8 156 49 156.5 49 159 50.3 160.8 51.9 160.8 52.1 161.3 52.9 161.3 53.4 161.5 53.6 161.5 55.9 161.3 56.1 161.3 57.1 161 57.3 161 57.6 160.8 57.8 159.8 59.6 158.7 60.9 158.5 61.4 156.5 63.3 156 63.5 155.2 64.3 153.2 65.5 152.8 65.5 152.2 65.8 151.8 65.5 151 65.5 150.2 65.1 149.8 65 148 63.8 146.7 62.6 146 61.4 145.7 61.1 145.1 59.9 144.8 58.9 144.5 58.4 144.6 57.4 144.3 56.9 144.3 54.6 144.6 54.1 144.5 53.6 144.8 53.1 144.9 52.6 145.7 51.1 147.8 49.1 149 48.5 149.7 48.4ZM157.7 64.6 158 64.7 158.5 65.3 158.9 66.1 158.9 66.6 159.2 67.1 159.2 67.3 159.5 67.6 159.5 68.3 159.8 68.6 159.8 69.3 160 69.6 160 70.3 160.3 70.6 160.3 71.8 160.6 72.1 160.6 74.1 160.8 74.3 160.8 76.6 160.6 76.8 160.6 77.8 160.3 78.1 160.3 78.6 160.1 78.8 160.1 79.1 159.3 79.8 159.3 80.1 159 80.2 158.5 80.7 158 80.7 157.8 80.9 155.2 80.9 155 80.7 154.2 80.7 153.8 80.2 153.5 80.2 152.8 79.4 152 79.2 151.5 78.7 151.2 78.7 150.5 78.2 148.5 78.2 147.8 78.7 147.2 78.7 146.5 79.2 145.8 79.2 145.5 79.4 144.5 79.4 144.2 79.7 143.5 79.7 143.2 79.4 142.5 79.4 141.8 78.9 141.5 78.9 141.2 78.7 141 78.7 140.5 78.2 140.2 78.2 139.5 77.4 139.2 77.4 138.9 77.1 138.9 76.8 138.4 76.3 138.4 76.1 138.2 75.8 138.2 75.1 138.4 74.8 138.4 74.3 138.9 73.8 139 73.5 139.2 73.5 139.8 73 140.2 73 141 72.5 141.5 72.5 142 72 142.8 71.8 143.5 71.1 143.8 71.1 144.5 70.3 144.5 70.1 145 69.6 145 69.3 145.2 69.1 145.2 68.6 145.5 68.3 145.5 67.6 145.8 67.3 145.8 66.8 146.5 65.6 147.2 65.7 148 66.1 150 66.7 150.5 66.6 151.8 66.5 153.8 66.1 156 65.3 157.7 64.6Z" fill="#c0c0c0" fill-rule="evenodd" stroke="#1e1e1e" stroke-width="0.42"/><path d="M149.5 48.6 149.8 48.4 153.2 48.5 153.8 48.7 154.8 48.7 155 48.9 155.8 48.9 156 49.1 156.5 49.1 158 49.8 159 50.4 160.5 51.9 161.2 53.1 161.2 53.4 161.4 53.9 161.4 55.6 161.1 56.1 161.1 56.9 159.8 59.4 159.1 60.4 158.6 60.9 158.3 61.4 156.5 63.1 156 63.4 155 64.3 153.2 65.4 152.8 65.4 152.2 65.7 151.8 65.4 151 65.4 150.2 65 149.8 64.9 149.2 64.5 148 63.7 146.9 62.6 146.1 61.4 145.7 60.9 145.2 59.9 144.9 58.9 144.7 58.4 144.7 57.4 144.4 56.9 144.4 54.6 144.7 54.1 144.7 53.6 144.9 53.1 144.9 52.9 145.9 51.1 147.8 49.3 149 48.6 149.5 48.6ZM157.5 65.1 157.8 65.1 158.1 65.6 159.1 67.8 159.5 69.6 159.7 69.8 159.8 70.6 159.9 70.8 160 71.8 160.2 72.3 160.2 74.1 160.4 74.6 160.4 76.3 160.2 76.8 160.2 77.6 159.7 78.8 158.8 79.8 158.2 80.3 157.8 80.4 157.5 80.6 155.5 80.6 155 80.3 154.5 80.3 153.5 79.7 153 79.2 152.2 78.8 151.8 78.4 150.5 77.8 148.5 78 146.2 78.9 145.8 78.9 145.2 79.1 144.5 79.1 144 79.3 143.5 79.2 142.8 79.1 141.2 78.3 140.2 77.6 139.3 76.8 138.6 75.6 138.6 75.3 138.7 75.1 138.8 74.6 139.8 73.6 140 73.4 140.5 73.3 141.2 72.9 141.8 72.8 142.2 72.4 143 72.1 144.8 70.6 145.5 69.3 146.2 66.9 146.8 66 147 66 148.8 66.8 150.2 67.1 150.8 66.9 151.8 66.9 153.8 66.5 156 65.7 157.5 65.1Z" fill="#aeaeae" fill-rule="evenodd" stroke="#1e1e1e" stroke-width="0.42"/><path d="M149.7 48.6 153.2 48.6 153.8 48.8 154.6 48.9 155 49 156.5 49.3 158 50 159 50.6 160.3 51.9 161 53.1 161.1 53.6 161.2 53.9 161.2 55.6 161 56.1 161 56.9 159.6 59.4 159.2 59.8 159 60.2 158.5 60.7 158.2 61.2 156.3 63.1 155.8 63.4 155 64.2 153.2 65.2 152.5 65.3 152.2 65.5 151.8 65.2 151 65.2 150.2 64.8 149.8 64.7 149.3 64.3 148.1 63.6 147 62.5 146.2 61.3 145.9 60.9 145.3 59.9 145 58.6 144.8 58.4 144.8 57.4 144.6 56.9 144.6 54.9 145.1 52.9 146 51.2 147.9 49.4 149 48.8 149.7 48.6ZM156.7 66.6 157 66.5 157.5 66.8 158.4 68.1 159.3 71.1 159.4 72.1 159.6 72.6 159.6 74.1 159.8 74.8 159.8 76.1 159.6 76.6 159.6 77.3 159.3 78.1 159.1 78.6 158.4 79.3 158 79.7 157.2 79.9 155.8 80 155.2 79.8 154.8 79.7 152 77.9 151 77.4 150.5 77.2 148.5 77.4 146 78.4 144.5 78.6 143.8 78.7 143 78.5 141.5 77.7 140 76.5 139.3 75.6 139.5 74.8 139.9 74.3 140.2 74.1 142 73.4 144.5 71.8 145.2 71.1 145.9 70.1 146.8 68.1 147.2 67.3 147.5 67.3 149.5 68 150.5 68.1 152 68 154.5 67.1 156.7 66.6Z" fill="#9c9c9c" fill-rule="evenodd" stroke="#1e1e1e" stroke-width="0.42"/><path d="M149.6 48.9 150 48.7 153.2 48.7 153.8 48.9 154.5 49 156.5 49.5 158.8 50.6 160.2 52 160.8 53.1 161.1 54.1 161.1 55.4 160.8 56.1 160.8 56.9 159.5 59.4 158.9 60.1 158.4 60.6 158.2 61.1 156.2 63 155.8 63.2 155 64 153.2 65.1 152.5 65.2 152.2 65.3 152 65.2 151 65.1 150.2 64.6 149.8 64.6 148.2 63.6 147 62.4 146 60.8 145.5 59.8 145 58.4 145 57.4 144.7 56.6 144.7 54.9 145.3 52.9 146 51.4 148 49.4 149 49 149.6 48.9ZM154.8 69.3 155.8 69.4 156.6 70.1 157.1 71.1 157.4 72.6 157.2 74.1 156.8 75.6 156 76.5 155.2 76.9 154.8 76.9 154.2 76.7 153.5 76 152.9 74.8 152.7 73.3 152.8 71.8 153.2 70.6 154 69.7 154.8 69.3ZM144.8 75.6 146 75.4 146.8 75.5 147.2 75.7 147.6 76.1 147.6 76.3 147.3 76.8 146.8 77.1 145.8 77.4 144.8 77.3 144.4 77.1 144.2 76.8 144.1 76.3 144.4 75.8 144.8 75.6Z" fill="#8a8a8a" fill-rule="evenodd" stroke="#1e1e1e" stroke-width="0.42"/><path d="M149.9 48.9 153.2 48.9 153.8 49.1 154.5 49.1 155 49.3 155.5 49.3 156.8 49.8 158.8 50.8 160.1 52.1 160.9 53.9 160.9 55.4 160.7 55.9 160.7 56.6 159.3 59.4 158.2 60.6 158 61.1 156.2 62.8 155.7 63.1 154.8 64 153.2 64.9 152.2 65.1 152 65 151.2 65 149.8 64.4 148.2 63.4 147.2 62.4 146.2 60.9 145.7 59.9 145.1 58.1 145.1 57.1 144.9 56.6 144.9 54.9 145.5 52.9 146.2 51.4 148 49.6 149.9 48.9Z" fill="#7a7a7a" fill-rule="evenodd" stroke="#1e1e1e" stroke-width="0.42"/><path d="M149.8 49.1 150 49 153.2 49.1 153.8 49.3 154.5 49.3 155 49.5 155.5 49.5 156.2 49.7 157.8 50.4 158.8 51.1 160 52.3 160.5 53.4 160.8 54.1 160.8 55.4 160.5 55.9 160.5 56.6 159.2 59.1 157.8 61 156.1 62.6 155.5 63 154.9 63.6 153.5 64.5 153 64.8 152.2 64.9 151.2 64.8 150 64.3 148.5 63.3 147.5 62.4 146.3 60.6 145.8 59.6 145.3 58.1 145.3 57.1 145 56.6 145 54.9 145.5 53.1 146.3 51.6 148.1 49.9 149.2 49.2 149.8 49.1ZM152 52.8 152 53.1 153 53.4 153.8 54.1 154.2 54.9 154.1 55.6 153.9 56.1 153.5 56.7 153 57 152.2 57.2 151.2 57 150 56.2 149.8 56.6 149.9 57.4 150.2 58.3 150.8 58.9 151.2 59.3 152 59.6 152.8 59.6 153.5 59.4 154.5 58.6 155 57.9 155.2 57 155.3 56.1 155.2 55.3 155 54.5 154.5 53.7 153.9 53.1 153.2 52.8 152.5 52.7 152 52.8Z" fill="#6c6c6c" fill-rule="evenodd" stroke="#1e1e1e" stroke-width="0.42"/><path d="M150 49.4 153 49.5 153.8 49.7 155.5 49.9 157.6 50.6 158.5 51.1 159.8 52.4 160.6 54.1 160.6 55.4 160.3 55.9 160.3 56.6 159 59 157.8 60.4 157.6 60.9 154.8 63.4 153 64.5 152.2 64.7 151.2 64.6 150.5 64.1 150 64 148.5 63 147.6 62.1 146 59.6 145.5 58.1 145.5 57.1 145.2 56.6 145.2 54.9 145.5 54.4 145.5 53.9 145.8 53.1 146.6 51.6 148.2 50 149.2 49.5 150 49.4ZM152.5 50.8 151.8 50.9 151 51.2 150.2 51.7 149.5 52.4 149 53.2 148.6 54.1 148.4 55.1 148.3 56.1 148.4 57.1 148.6 58.1 149 59 149.5 59.8 150.8 60.9 151.5 61.2 152.5 61.3 153.5 61.2 154.2 60.9 155.5 59.8 156 59 156.4 58.1 156.6 57.1 156.7 56.1 156.6 55.1 156.4 54.1 156 53.2 155.5 52.4 154.8 51.7 154 51.2 153.2 50.9 152.5 50.8ZM151.3 54.1 151.8 53.9 152.5 53.9 153 54.1 153.5 54.6 153.6 55.1 153.6 55.6 153.4 56.1 152.9 56.6 152.2 56.8 151.8 56.8 151.2 56.5 150.9 56.1 150.7 55.6 150.7 55.1 150.8 54.6 151.3 54.1Z" fill="#606060" fill-rule="evenodd" stroke="#1e1e1e" stroke-width="0.42"/><path d="M157.1 51.4 157.2 51.2 158.2 51.5 159.3 52.4 160 53.4 160.2 54.1 160.3 55.1 160 55.9 160 56.4 159.2 57.6 158.5 58.6 158.2 58.7 158.1 58.6 158.2 56.4 158.1 54.9 157.9 53.6 157.1 51.4ZM147.2 51.9 147.5 51.7 147.6 51.9 147.6 52.1 146.8 54.6 146.7 56.9 147.1 58.9 147.7 60.4 148.2 61.1 149.8 62.5 151 63.1 153.1 63.4 153.2 63.6 153 63.9 152.3 64.1 151.5 64 151.1 63.9 148.8 62.4 148 61.6 147.9 61.4 147.5 60.9 147.4 60.6 147 60.2 146.5 59.4 146 57.9 146 57.1 145.7 56.4 145.7 55.1 146.2 53.3 147.2 51.9ZM151.6 54.4 152 54.2 152.5 54.2 153 54.5 153.2 54.9 153.3 55.6 153.1 56.1 152.8 56.4 152.2 56.5 151.8 56.4 151.1 55.9 151 55.1 151.2 54.7 151.6 54.4Z" fill="#565656" fill-rule="evenodd" stroke="#1e1e1e" stroke-width="0.42"/><path d="M151.7 54.6 152.2 54.5 152.9 54.9 153 55.1 153.1 55.6 152.8 56.1 152 56.3 151.4 55.9 151.3 55.1 151.7 54.6Z" fill="#4e4e4e" fill-rule="evenodd" stroke="#1e1e1e" stroke-width="0.42"/><path d="M151.9 54.9 152.5 54.9 152.7 55.1 152.8 55.6 152.6 55.9 152 55.9 151.6 55.6 151.7 55.1 151.9 54.9Z" fill="#e0e0e0" fill-rule="evenodd" stroke="#1e1e1e" stroke-width="0.42"/><path d="M231.8 58.4 232 58.2 235.2 58.2 236 58.5 236.8 58.8 238 60.1 238.8 61.4 239.1 62.4 239.1 63.1 239.3 63.6 239.3 64.6 239.5 64.8 239.5 65.3 239.8 65.6 239.8 66.1 240 66.3 240 66.8 240.3 67.1 240.3 67.6 240.7 68.4 240.7 68.8 241.2 69.6 241.2 70.1 241.5 70.3 241.5 70.8 241.7 71.1 241.7 71.6 242 71.8 242 72.3 242.2 72.6 242.2 73.1 242.5 73.3 242.5 74.3 242.7 74.6 242.7 78.9 242.5 79.1 242.5 79.8 242.2 80.1 242.2 80.6 242 80.8 242 81.1 241 82.3 241 82.6 240.5 83.1 240.5 83.3 239.7 84.1 239.7 84.3 239.2 84.8 239.2 85.1 238 86.3 237 86.3 236.8 86.1 236.2 86.1 235.5 85.6 235.2 85.6 235 85.3 234.5 85.3 233.8 84.8 233.2 84.8 233 84.5 232.5 84.5 232.2 84.2 231.8 84.2 231 83.7 230.5 83.7 230.2 83.4 230 83.4 229.7 82.8 228.3 82.1 228 81.7 227.5 81.5 227 81 226.7 80.8 226.6 80.6 225.9 79.8 225.1 78.1 225 75.6 225.3 75.3 225.2 74.6 225.5 74.3 225.4 73.6 225.7 73.3 225.6 72.6 226.1 71.8 226.1 71.3 226.3 71.1 226.3 70.8 226.2 70.8 226 71 225.8 71 225.2 71.5 224.5 71.5 224.2 71.8 222.8 71.8 222.5 71.5 221.8 71.5 221.5 71.3 221 71.3 220.8 71 220.5 71 219.1 69.6 219.1 69.3 218.8 69.1 218.8 68.6 218.6 68.3 218.6 66.8 218.8 66.6 218.8 66.3 220.2 64.9 220.5 64.9 221.2 64.4 223.8 64.4 224 64.7 224.5 64.7 224.8 64.9 225 64.9 225.2 65.2 225.5 65.2 226.2 65.9 226.5 65.9 226.7 66.1 226.7 66.3 227.2 66.9 227.3 65.3 227.5 65.1 227.5 63.9 227.7 63.6 227.7 62.6 227.9 62.4 228 61.9 228.2 61.6 228.2 61 228.6 60.6 228.8 60.2 229.6 59.4 230.5 58.8 231.8 58.4ZM226.5 70.5 226.4 70.6 226.5 70.7 226.6 70.6 226.5 70.5Z" fill="#d2d2d2" fill-rule="evenodd" stroke="#1c1c1c" stroke-width="0.42"/><path d="M231.8 58.6 232 58.4 235.2 58.4 235.5 58.7 236 58.7 236.2 58.9 236.5 58.9 237.9 60.4 238.2 61.1 238.7 61.6 238.7 62.1 238.9 62.4 238.9 63.4 239.2 63.6 239.1 64.6 239.4 64.8 239.4 65.3 239.6 65.6 239.6 66.1 239.9 66.3 239.9 66.8 240.1 67.1 240.1 67.6 240.6 68.3 240.6 68.8 241.1 69.6 241.1 70.1 241.4 70.3 241.4 70.8 241.6 71.1 241.6 71.6 241.9 71.8 241.9 72.3 242.1 72.6 242.1 73.1 242.4 73.3 242.4 74.3 242.6 74.6 242.6 78.8 242.4 79.1 242.4 79.8 242.1 80.1 242.1 80.6 241.9 80.8 241.9 81.1 240.9 82.3 240.9 82.6 240.4 83.1 240.4 83.3 239.6 84.1 239.6 84.3 239.1 84.8 239.1 85.1 238 86.2 237 86.2 236.8 86 236.2 86 235.5 85.5 235.2 85.5 235 85.2 234.5 85.2 233.8 84.7 233.2 84.7 233 84.4 232.5 84.4 232.2 84.1 231.8 84.1 231.5 83.8 230.2 83.2 229.8 82.7 228.2 81.9 228 81.6 227.5 81.4 226.2 80.1 225.5 78.8 225.5 78.3 225.2 78.1 225.1 75.8 225.4 75.3 225.4 74.8 225.6 74.3 225.6 73.6 225.8 73.3 225.7 72.6 226.2 71.8 226.2 71.3 226.7 70.6 226.5 70.4 226 70.9 225.8 70.9 225.2 71.4 224.5 71.4 224.2 71.7 222.8 71.7 222.5 71.4 221.8 71.4 221.5 71.1 221 71.2 220.8 70.9 220.5 70.9 219.2 69.6 219.2 69.3 219 69.1 219 68.6 218.7 68.3 218.7 66.8 218.9 66.6 218.9 66.3 220.2 65 220.5 65 220.8 64.8 221 64.8 221.2 64.5 223.8 64.5 224 64.8 224.5 64.8 224.8 65 225 65 225.2 65.3 225.5 65.3 226.2 66 226.5 66 226.6 66.3 227.2 67 227.4 66.8 227.4 65.3 227.6 65.1 227.6 63.8 227.9 63.6 227.9 62.6 228.1 62.4 228.1 61.9 228.3 61.6 228.3 61.1 228.8 60.6 228.8 60.4 229.8 59.4 230 59.4 230.5 58.9 231 58.9 231.2 58.7 231.8 58.6Z" fill="#c0c0c0" fill-rule="evenodd" stroke="#1c1c1c" stroke-width="0.42"/><path d="M232 58.6 235.2 58.6 235.5 58.8 236 58.8 236.2 59.1 236.5 59.1 237.8 60.4 238 61.1 238.5 61.6 238.5 62.1 238.8 62.4 238.8 63.4 239 63.6 239 64.6 239.3 64.8 239.3 65.3 239.5 65.6 239.5 66.1 239.8 66.3 239.8 66.8 240 67.1 240 67.6 240.5 68.3 240.5 68.8 241 69.6 241 70.1 241.3 70.3 241.3 70.8 241.5 71.1 241.5 71.6 241.8 71.8 241.8 72.3 242 72.6 242 73.1 242.3 73.3 242.3 74.3 242.5 74.6 242.5 78.8 242.3 79.1 242.3 79.8 242 80.1 242 80.6 241.8 80.8 241.8 81.1 240.8 82.3 240.8 82.6 240.3 83.1 240.3 83.3 239.5 84.1 239.5 84.3 239 84.8 239 85.1 238 86.1 237 86.1 236.8 85.9 236.2 85.9 236 85.6 235.8 85.6 235 85.1 234.5 85 233.9 84.6 232 84 231.2 83.5 230.8 83.4 230.2 83.1 229.8 82.6 228.5 81.9 227 80.7 226.2 79.8 225.4 78.1 225.3 75.8 225.5 75.6 225.5 74.8 225.7 74.3 225.7 73.8 225.9 73.3 225.9 72.8 226.8 70.6 226.8 70.1 227.1 69.6 227 69.1 226.5 70.1 226 70.6 225 71.2 224.5 71.2 224 71.5 223 71.5 222.5 71.2 222 71.2 220.8 70.7 219.5 69.6 218.9 68.1 218.8 67.1 219.2 66.3 220.2 65.3 221.5 64.7 223.5 64.7 225.2 65.5 226.4 66.3 227.2 67.6 227.2 68.6 227.3 67.3 227.5 66.8 227.5 65.3 227.7 65.1 227.7 63.9 228 63.6 228 62.6 228.2 62.4 228.2 61.9 228.5 61.6 228.5 61.1 229 60.6 229 60.4 229.8 59.6 230 59.6 230.5 59.1 231 59.1 231.2 58.8 231.8 58.8 232 58.6Z" fill="#aeaeae" fill-rule="evenodd" stroke="#1c1c1c" stroke-width="0.42"/><path d="M232.1 58.9 232.2 58.7 235 58.7 236.4 59.4 237.5 60.4 237.9 61.4 238.3 61.9 238.6 62.6 238.6 63.4 238.8 63.9 238.8 64.6 239.9 67.8 240.8 69.8 242.1 73.6 242.1 74.3 242.3 74.8 242.3 78.6 241.6 80.8 239.9 83.3 239.4 83.8 238.7 85.1 238 85.8 237.8 85.9 237.2 85.9 236.2 85.5 235.2 85 234.8 84.9 234 84.5 232 83.8 231.2 83.3 230.8 83.2 229.8 82.4 227.8 81.2 226.4 79.8 225.5 77.8 225.5 75.8 225.6 75.6 225.7 74.8 225.8 74.6 225.9 73.8 226 73.6 226.1 72.8 226.9 70.8 227 70.1 227.2 69.6 227.3 68.8 227.5 68.3 227.5 67.3 227.7 66.8 227.7 65.6 227.9 65.1 227.9 64.1 228.2 63.6 228.2 62.9 228.7 61.4 229.8 59.9 230.8 59.3 232.1 58.9ZM221.3 65.1 221.5 64.9 223.2 64.9 224.2 65.2 225.4 65.8 226.6 67.1 226.9 67.6 226.9 68.8 226.4 69.8 225.9 70.3 225.4 70.6 225 71 224.5 71 224 71.2 223.2 71.2 223 71.2 222.8 71 222 70.9 221.8 70.7 221.2 70.7 220.6 70.3 219.7 69.3 219.4 68.8 219.3 68.3 219.1 68.1 219.1 67.1 219.5 66.4 220.3 65.6 221.3 65.1ZM223 68.1 223 68.1 223 68.1 223 68.1 223 68.1Z" fill="#9c9c9c" fill-rule="evenodd" stroke="#1c1c1c" stroke-width="0.42"/><path d="M232 59.1 232.5 58.9 235 58.9 236.2 59.4 237.4 60.6 237.7 61.4 238.1 61.9 238.2 62.4 238.4 62.6 238.5 63.6 238.6 63.9 238.7 64.8 238.9 65.1 239.7 67.8 240.6 69.8 241.2 71.8 241.9 73.6 241.9 74.3 242.1 74.8 242.1 78.6 241.9 78.8 241.9 79.6 241.4 80.8 239.9 83.1 239.2 83.8 238.6 84.8 237.9 85.6 237.8 85.7 237.2 85.7 236.2 85.3 235.2 84.8 234.8 84.7 234 84.3 232 83.6 231.2 83.1 230.8 83 229.9 82.3 228.6 81.6 227.8 81 226.5 79.7 225.7 77.8 225.6 76.1 226 74.6 226.3 72.8 227.1 70.8 227.2 70.1 227.4 69.8 227.4 68.8 227.6 68.3 227.7 67.3 227.9 66.8 227.9 65.8 228.1 65.1 228.1 64.1 228.3 63.9 228.4 62.9 228.8 61.9 228.9 61.4 229.5 60.4 230 60 230.8 59.5 232 59.1ZM221.4 65.3 221.8 65.2 223.2 65.2 225.2 66.1 226.3 67.1 226.6 67.8 226.6 68.8 226.1 69.8 225.8 70.2 225.2 70.4 225 70.6 224.5 70.7 223.8 71 223.2 71 222.8 70.7 222.2 70.7 220.8 70.1 220 69.3 219.4 67.8 219.4 67.1 219.7 66.6 220.5 65.8 221.4 65.3ZM222.8 66.8 222.2 66.9 221.8 67.2 221.4 67.6 221.3 68.1 221.4 68.6 221.9 69.1 222.2 69.3 223 69.4 224 69 224.4 68.6 224.5 68.1 224.4 67.6 224 67.2 223.5 66.9 222.8 66.8Z" fill="#8a8a8a" fill-rule="evenodd" stroke="#1c1c1c" stroke-width="0.42"/><path d="M232.5 59.1 235 59.1 236.2 59.6 237.2 60.6 237.7 61.6 237.9 61.9 238.2 62.8 238.3 63.6 238.5 64.1 238.5 64.8 239.5 67.8 240.4 69.8 241.7 73.6 241.8 74.6 242 75.1 242 78.3 241.8 78.8 241.7 79.6 241.2 80.8 239.7 83.1 239.2 83.6 238.4 84.8 237.8 85.5 237.2 85.5 235.8 84.9 230.9 82.8 230 82.2 228.8 81.5 227.9 80.8 226.6 79.6 225.8 77.8 225.8 76.1 226 75.6 226.4 73.1 227.3 70.8 227.3 70.3 227.5 69.8 227.6 69.1 227.8 68.3 227.8 67.6 228 66.8 228 65.8 228.2 65.3 228.3 64.3 228.5 63.9 228.6 62.9 229.1 61.4 229.8 60.4 230.8 59.7 232.5 59.1ZM225.7 68.1 225.8 67.9 226 67.9 226 68.6 225.8 68.9 225.7 68.8 225.7 68.1ZM225.4 69.3 225.5 69.2 225.6 69.3 225.5 69.5 225.4 69.3Z" fill="#7a7a7a" fill-rule="evenodd" stroke="#1c1c1c" stroke-width="0.42"/><path d="M232.3 59.4 234.8 59.3 236.2 59.9 237 60.6 237.8 62.1 238.1 62.9 238.1 63.6 238.3 64.1 238.3 64.8 239.3 67.8 240.3 70.1 241.6 73.8 241.6 74.6 241.8 75.1 241.8 78.3 241 80.8 239.5 83 238.9 83.6 238.2 84.8 237.8 85.3 237.5 85.4 236.1 84.8 234 83.9 232.2 83.3 230.5 82.4 230 81.9 228 80.6 227.4 80.1 226.8 79.3 226.1 77.8 226 76.1 226.2 75.6 226.2 75.1 226.4 74.6 226.6 73.1 227.5 70.8 227.5 70.3 227.7 69.8 227.7 69.1 228 68.3 228 67.6 228.2 67.1 228.2 65.8 228.4 65.3 228.4 64.3 228.7 63.9 228.7 63.1 229.2 61.6 230.1 60.4 230.8 59.9 232.3 59.4Z" fill="#6c6c6c" fill-rule="evenodd" stroke="#1c1c1c" stroke-width="0.42"/><path d="M232.2 59.6 232.5 59.5 234.8 59.4 236 59.9 236.9 60.9 237.6 62.1 237.9 62.9 237.9 63.6 238.1 64.1 238.1 64.8 239.2 68.1 240.1 70.1 241.4 73.8 241.4 74.6 241.6 75.1 241.6 78.3 240.9 80.6 238.1 84.6 237.6 85.1 237.5 85.2 236.5 84.8 234.2 83.8 232.2 83.1 230.8 82.2 229.1 80.8 227.3 79.1 226.5 77.6 226.3 76.3 226.8 73.6 226.8 73.1 227.6 71.1 227.7 70.3 227.9 69.8 227.9 69.1 228.1 68.6 228.2 67.6 228.4 66.8 228.4 65.8 228.6 65.3 228.6 64.3 228.9 63.9 228.9 63.1 229.4 61.6 230 60.7 231 60 232.2 59.6ZM234.8 73.6 234.7 74.1 234.9 74.6 235.5 75.4 235.6 75.3 235.7 75.1 235.5 74.5 235 73.7 234.8 73.6ZM229 76.8 228.5 77.2 228.2 77.6 228.1 78.1 228.2 78.8 228.5 79.2 229 79.5 229.5 79.5 230 79.4 230.4 79.1 230.8 78.6 230.9 78.1 230.8 77.6 230.5 77.2 230 76.8 229.5 76.7 229 76.8Z" fill="#606060" fill-rule="evenodd" stroke="#1c1c1c" stroke-width="0.42"/><path d="M232.2 59.9 232.8 59.7 234.8 59.7 236 60.2 236.8 61.1 237.3 62.1 237.6 62.9 238 65.1 238.9 68.1 239.8 70.1 241.1 73.8 241.1 74.6 241.3 75.1 241.3 78.3 240.7 80.3 237.5 84.9 236.8 84.7 235.5 84 232.2 82.6 231.2 81.8 231.2 81.3 232.4 79.8 232.8 78.6 232.9 77.8 232.7 77.1 232 75.8 231.2 75.2 230.2 74.8 229.2 74.7 227.5 75 227.1 74.3 227.2 73.1 227.9 71.1 228.2 69.8 228.4 67.6 228.6 67.1 228.7 65.8 228.9 65.3 228.9 64.3 229.4 62.4 229.7 61.6 230.2 60.8 231 60.3 232.2 59.9ZM233.8 71.6 233.6 72.1 233.7 73.1 234.1 74.3 234.6 75.6 235.2 76.6 236 77.3 236.5 77.5 236.7 77.3 236.8 76.8 236.6 75.8 235.8 73.8 235.2 72.8 234.5 71.9 234 71.5 233.8 71.6Z" fill="#565656" fill-rule="evenodd" stroke="#1c1c1c" stroke-width="0.42"/><path d="M232.5 60.1 234.8 60.1 235.8 60.5 236.4 61.1 237.1 62.4 237.3 63.1 237.5 65.1 238.6 68.3 239.5 70.3 240.5 73.3 240.9 75.3 240.9 78.1 240.5 79.8 237.5 84.3 237.2 84.4 237 84.3 235 83.3 234 82.7 233.7 82.3 233.7 81.8 234.6 80.1 235 79.1 235.2 78.7 235.8 78.8 236.8 79.4 237.2 79.5 237.6 79.3 237.8 78.6 237.6 76.8 236.9 74.8 235.8 72.6 234.7 70.8 233.5 69.7 233 69.5 232.8 69.7 232.5 70.6 232.6 72.8 232.5 73.1 232.2 73.2 230.5 72.7 228.8 72.5 228.5 72.4 228.3 72.1 228.6 69.3 228.8 68.6 228.8 67.8 229.1 67.1 229.1 66.1 229.3 65.3 229.3 64.6 229.5 63.4 230 61.9 230.5 61 231.2 60.5 232.5 60.1Z" fill="#4e4e4e" fill-rule="evenodd" stroke="#1c1c1c" stroke-width="0.42"/><ellipse cx="235.10" cy="74.40" rx="0.55" ry="3.6" fill="#e4e4e4" transform="rotate(-25 235.10 74.40)"/><path d="M314.3 63.9 314.5 63.6 317.5 63.6 317.8 63.9 320.2 63.9 320.5 64.1 322.8 64.1 323 64.4 323.8 64.4 324 64.6 324.2 64.6 324.7 65.1 324.7 68.8 324.5 69.1 324.5 70.8 324.2 71.1 324.2 73.1 324 73.4 324 75.3 323.7 75.6 323.7 78.8 323.5 79.1 323.5 80.6 323.2 80.8 323.2 81.6 323 81.8 323 82.3 322.7 82.6 322.7 83.1 322.4 83.3 322.4 83.8 321.8 84.6 321.9 85.1 321.6 85.3 321.6 85.6 321.3 85.8 321.3 86.1 321.1 86.3 321.1 86.6 320 87.7 319.5 87.7 319.2 88 317.2 87.9 317 87.6 315.8 87.7 315.5 87.4 315.2 87.4 315 87.2 314.8 87.2 314.5 87 314.2 87 314.1 86.8 314.1 86.6 313.6 86.1 313.6 85.8 313.4 85.6 313.4 85.1 313.1 84.8 313.2 83.3 313.4 83.1 313.4 82.3 313.7 82.1 313.7 81.3 313.1 80.6 312.9 80.3 312.9 80.1 312.2 79.5 312 79.5 311.6 79.1 311.6 78.8 310 77.3 310 77.1 309.8 76.8 309.5 77.1 309.2 77.8 308.5 78.6 308.5 78.8 307.7 79.6 307.7 79.8 306.5 81.1 306.2 81.1 306 81.3 305.5 81.3 305.2 81.6 305 81.3 304.2 81.3 303.3 80.3 303.3 80.1 303 79.8 303 79.6 302.5 78.8 302.5 78.3 302.3 78.1 302.3 77.1 302 76.8 302 74.8 302.3 74.6 302.3 74.1 303.5 72.9 303.8 72.9 304.5 72.4 306.5 72.4 306.8 72.6 307.5 72.9 309.5 74.9 310 74.1 310 73.8 310.3 73.6 310.3 73.3 310.5 73.1 310.5 72.8 310.8 72.6 310.8 72.3 311 72.1 311 71.6 311.5 70.9 311.5 70.3 311.8 70.1 311.8 69.6 312.3 68.8 312.3 68.3 312.5 68.1 312.5 67.6 312.8 67.3 312.8 66.3 313 66.1 313 65.3 313.3 65.1 313.3 64.6 314 63.9 314.3 63.9Z" fill="#d2d2d2" fill-rule="evenodd" stroke="#1c1c1c" stroke-width="0.42"/><path d="M314.4 63.9 314.5 63.7 317.5 63.7 317.8 64 320.2 64 320.5 64.2 322.8 64.2 323 64.5 323.8 64.5 324 64.7 324.2 64.7 324.6 65.1 324.6 68.8 324.4 69.1 324.4 70.8 324.1 71.1 324.1 73.1 323.9 73.3 323.9 75.3 323.6 75.6 323.6 78.8 323.4 79.1 323.4 80.6 323.1 80.8 323.1 81.6 322.8 81.8 322.8 82.3 322.6 82.6 322.6 83.1 322.3 83.3 322.3 83.8 321.8 84.5 321.6 85.1 321 86.2 320.9 86.6 320 87.6 319.5 87.6 319 87.8 317.5 87.8 317 87.5 316 87.5 315.2 87.1 314.8 87 314.6 86.8 314.2 86.8 314.2 86.5 313.8 86.1 313.8 85.8 313.5 85.6 313.5 85.1 313.3 84.8 313.3 83.6 313.6 83.1 313.6 82.6 313.9 82.1 313.8 81.3 313.5 80.8 313.2 80.6 313 80.3 313 80.1 312.2 79.4 312 79.4 311.7 79.1 311.7 78.8 310.1 77.3 310.1 77.1 309.5 76.6 309.5 76.4 308.9 77.8 308.2 78.5 308.2 78.8 307.5 79.5 307.4 79.8 306.5 80.8 306 81 305.5 81.1 305.2 81.3 305 81.1 304.2 81 303.6 80.3 302.8 78.8 302.8 78.3 302.6 78.1 302.5 77.1 302.3 76.6 302.3 75.1 302.5 74.6 302.6 74.1 303.5 73.2 304.5 72.7 306.2 72.6 307.5 73.2 309.3 75.1 309.5 75.8 309.6 74.8 309.9 74.6 309.9 74.3 310.1 74.1 310.1 73.8 310.4 73.6 310.4 73.3 310.6 73.1 310.6 72.8 311.1 72.1 311.1 71.6 311.6 70.8 311.6 70.3 311.9 70.1 311.9 69.6 312.4 68.8 312.4 68.3 312.6 68.1 312.6 67.6 312.9 67.3 312.9 66.3 313.1 66.1 313.1 65.3 313.4 65.1 313.4 64.6 314 64 314.4 63.9Z" fill="#c0c0c0" fill-rule="evenodd" stroke="#1c1c1c" stroke-width="0.42"/><path d="M314.3 64.1 314.5 63.9 317 63.9 317.5 63.9 317.8 64.1 320.2 64.1 320.5 64.4 322.8 64.4 323 64.6 323.8 64.6 324.5 65.1 324.5 68.8 324.2 69.1 324.2 70.8 324 71.1 324 73.1 323.7 73.3 323.7 75.3 323.5 75.6 323.5 78.8 323.2 79.1 323.2 80.6 323 80.8 323 81.3 322.1 83.3 322.1 83.6 321.6 84.3 321.5 84.8 320.8 86.3 320 87.2 319 87.6 317.5 87.6 317 87.3 316 87.4 314.4 86.6 313.7 85.3 313.6 84.8 313.4 84.6 313.5 83.6 313.8 83.2 313.8 82.6 314 82.1 313.9 81.1 313 79.8 312.5 79.3 311.9 79.1 311.8 78.7 310.3 77.3 310.2 77 309.8 76.6 309.8 74.8 310 74.6 310 74.3 310.2 74.2 310.3 73.8 311.2 72.2 311.3 71.6 311.8 70.9 311.8 70.3 312 70.1 312 69.6 312.5 68.8 312.5 68.3 312.8 68.1 312.8 67.6 313 67.3 313 66.3 313.3 66.1 313.3 65.3 313.5 65.1 313.5 64.6 314 64.1 314.3 64.1ZM304.8 73.3 306 73.3 307.2 73.8 308.7 75.3 308.9 76.1 308.2 77.5 306.5 79.8 306.2 80.1 305.5 80.4 304.8 80.4 304.5 80.3 304.2 80 303.7 78.8 303.2 77.6 303.2 76.8 302.9 76.3 302.9 75.3 303.2 74.4 303.8 73.8 304.8 73.3Z" fill="#aeaeae" fill-rule="evenodd" stroke="#1c1c1c" stroke-width="0.42"/><path d="M314.7 64.1 317.2 64.1 317.8 64.3 320 64.3 320.5 64.6 322.5 64.6 323 64.8 323.5 64.8 324.3 65.3 324.3 68.6 324 69.1 324 70.6 323.8 71.1 323.8 72.8 323.5 73.3 323.5 75.1 323.3 75.6 323.3 78.6 323 79.1 323 80.3 322.8 80.6 322.7 81.4 322.3 82.3 322.2 82.8 322 83.1 321.9 83.6 321.4 84.3 321.3 84.8 320.6 86.3 319.8 87.2 319.2 87.2 319 87.4 317.8 87.4 317 87.1 316 87.1 314.8 86.5 314.2 85.9 313.9 85.3 313.7 84.3 313.7 83.6 313.9 83.3 314 82.6 314.2 82.1 314.1 81.1 313.2 79.8 312.5 79.1 312 78.8 312 78.6 310.7 77.3 310 76.3 310 75.1 311.4 72.3 311.5 71.8 311.9 71.1 312.2 69.8 312.6 69.1 312.7 68.6 313.2 67.3 313.2 66.6 313.5 66.1 313.5 65.6 313.6 65.3 313.7 64.8 314 64.5 314.7 64.1Z" fill="#9c9c9c" fill-rule="evenodd" stroke="#1c1c1c" stroke-width="0.42"/><path d="M314.7 64.3 315 64.3 317 64.3 317.8 64.5 319.8 64.5 320.5 64.8 322.2 64.8 322.8 64.9 323.5 65 324.1 65.3 324.1 68.3 323.8 69.1 323.8 70.6 323.6 71.1 323.6 72.6 323.3 73.3 323.3 75.1 323.1 75.6 323.1 78.3 322.8 79.1 322.8 80.3 321.9 82.8 320.3 86.3 319.8 86.9 319.1 87.1 318.8 87.2 317.8 87.2 317.2 86.9 316.2 86.9 314.9 86.3 314.4 85.8 313.9 84.3 313.9 83.8 314.4 82.3 314.3 81.1 313.3 79.6 312.8 79.1 312.2 78.8 312 78.4 310.8 77.1 310.2 76.3 310.2 75.1 311.6 72.3 312.4 69.8 312.9 69.1 313.4 67.6 313.4 66.6 313.6 66.4 313.7 65.6 313.9 64.8 314.2 64.5 314.7 64.3Z" fill="#8a8a8a" fill-rule="evenodd" stroke="#1c1c1c" stroke-width="0.42"/><path d="M314.6 64.6 315 64.4 317 64.4 317.8 64.7 319.8 64.7 320.5 64.9 322.2 64.9 323.5 65.3 323.9 65.6 323.9 68.3 323.7 68.8 323.7 70.3 323.4 71.1 323.4 72.6 323.1 73.3 323.1 74.8 322.9 75.6 322.9 78.3 322.6 79.1 322.6 80.1 321.8 82.6 320.2 86.1 319.5 86.7 319 86.8 318.8 87 317.8 86.9 317.2 86.6 316.2 86.7 315 86.1 314.6 85.6 314.1 84.3 314.1 83.8 314.4 83.3 314.4 82.8 314.7 82.3 314.6 81.1 313.5 79.5 312.5 78.7 312.2 78.3 311 77.1 310.4 76.1 310.5 75.1 311.8 72.3 312.7 69.8 313.1 69.1 313.6 67.6 313.6 66.8 314.2 64.8 314.6 64.6ZM317.2 82.5 316.8 82.8 316.5 83.1 316.4 83.6 316.4 84.1 317 84.8 317.5 85 318 84.9 318.6 84.3 318.8 83.8 318.7 83.3 318.5 82.9 318.1 82.6 317.2 82.5Z" fill="#7a7a7a" fill-rule="evenodd" stroke="#1c1c1c" stroke-width="0.42"/><path d="M314.6 64.8 315 64.7 317 64.7 317.8 64.9 319.8 64.9 320.5 65.2 322.2 65.2 322.8 65.4 323.2 65.4 323.6 65.6 323.7 65.8 323.7 68.3 323.5 68.8 323.4 70.3 323.2 71.1 323.2 72.6 322.9 73.3 322.9 74.8 322.7 75.6 322.7 78.3 322.4 78.8 322.4 80.1 321.8 81.8 321.1 83.3 320.4 84.1 320 84.9 320 84.1 319.8 83.4 319.5 82.6 319 82 318.2 81.5 317.8 81.4 317 81.5 315.5 82.3 315.2 82.2 314.8 80.8 313.7 79.3 311.2 77 310.6 76.1 310.6 75.3 312 72.6 312.5 71.3 313.8 67.6 313.8 66.8 314 66.3 314.1 65.8 314.3 65.1 314.6 64.8ZM318.8 71.1 318.5 71.4 318.3 72.1 318.2 73.8 318.3 75.3 318.5 75.9 318.8 76 319 75.8 319.2 75.1 319.3 73.6 319.2 71.8 319 71.3 318.8 71.1ZM314.7 83.8 315 83.7 315.2 84 315.4 84.6 316 85.6 315.8 85.8 315.5 85.8 315 85.4 314.6 84.1 314.7 83.8ZM319.7 85.1 319.8 85.3 319.8 85.9 319.2 86.3 318.8 86.4 318.4 86.3 318.4 86.1 319.7 85.1Z" fill="#6c6c6c" fill-rule="evenodd" stroke="#1c1c1c" stroke-width="0.42"/><path d="M314.8 65.1 315.2 65 316.8 65 317.8 65.2 319.5 65.2 320.2 65.5 322.2 65.5 323.3 65.8 323.3 68.3 323.1 68.8 323.1 70.3 322.9 70.8 322.9 72.3 322.6 73.1 322.6 74.8 322.4 75.3 322.4 78.1 322.1 78.8 322 80.1 321.7 81.1 321 82.1 320.8 82.2 320.5 82 320 81.5 318.8 80.2 318.2 79.9 316.8 79.9 315.8 80.2 315.2 80.2 311.6 76.8 311 76.1 311 75.3 312.3 72.6 312.8 71.3 314.1 67.6 314.2 66.8 314.4 65.8 314.8 65.1ZM318.8 69.3 318.3 69.8 318 71.1 317.6 75.3 317.6 76.3 317.9 77.3 318.2 78.1 318.5 78.3 318.8 78.2 319.2 77.4 319.5 76.6 319.8 73.6 319.5 70.6 319.1 69.6 318.8 69.3Z" fill="#606060" fill-rule="evenodd" stroke="#1c1c1c" stroke-width="0.42"/><path d="M315.4 65.8 316.8 65.8 317.8 66.2 318 66.6 317.2 69.6 316.8 70.6 316.5 70.9 314.8 71 314.5 70.9 314.3 70.6 314.9 67.8 315 67.1 315.4 65.8ZM320 66.3 322 66.3 322.6 66.6 322.5 68.1 322.3 68.8 322.3 70.1 322.1 70.8 322 72.3 321.7 73.1 321.6 74.6 321.2 75.1 321 75.1 320.8 74.3 320.3 70.1 319.6 66.8 319.7 66.6 320 66.3Z" fill="#565656" fill-rule="evenodd" stroke="#1c1c1c" stroke-width="0.42"/><path d="M395.7 64.3 395.8 64.3 397.8 64.3 398 64.6 398.5 64.6 399.2 65.1 399.5 65.1 400.1 65.8 400.5 66 400.8 66.3 401.5 66.9 403.8 67.8 404.5 67.9 404.7 68.1 405 68.1 405.2 68.3 405.5 68.3 406 68.8 406.2 68.8 406.6 69.1 406.6 69.3 407.1 69.8 407.1 70.1 407.3 70.3 407.3 72.6 407 72.8 407 73.3 406.8 73.6 406.8 73.8 406.5 74.1 406.5 74.3 406.2 74.6 406.2 74.8 405.8 75.3 405.7 75.6 404 77.1 403.5 78.3 403.6 82.1 403.9 82.3 403.9 85.3 403.6 85.6 403.7 86.6 403.4 86.8 403.4 87.1 403.2 87.3 403.2 87.6 402.8 88 402.5 88 402 88.5 401.5 88.4 401.2 88.7 399.8 88.7 399.5 88.4 399.2 88.4 397.9 87.1 397.9 86.6 397.7 86.3 397.7 85.6 397.4 85.3 397.4 84.8 397.1 84.6 397.2 83.6 396.9 83.3 396.9 82.8 396.6 82.6 396.6 82.3 395.8 81.5 395.5 81.5 394.8 80.9 394.5 81 394 80.4 393.8 80.4 391.9 78.6 391.9 78.3 391.7 78.1 391.7 77.8 391.4 77.6 391.5 76.8 391.2 76.6 391.3 72.6 391.6 72.1 391.6 71.6 391.8 71.1 392.1 70.1 392.5 69.3 392.6 68.6 393 68 393 67.3 393.5 66.6 393.5 66.3 393.7 66.1 393.7 65.8 395 64.5 395.5 64.5 395.7 64.3Z" fill="#d2d2d2" fill-rule="evenodd" stroke="#141414" stroke-width="0.42"/><path d="M395.7 64.3 397.8 64.4 397.9 64.6 398.5 64.7 399.5 65.3 400 65.9 401.5 67 402.5 67.5 403 67.5 404 68 404.2 68 405.5 68.5 405.9 68.8 406.2 68.9 406.4 69.1 406.5 69.4 407 69.8 407 70.1 407.2 70.3 407.2 72.3 406.8 73.3 405.5 75.6 403.9 77.1 403.4 78.3 403.5 82.1 403.8 82.3 403.8 85.3 403.5 85.6 403.6 86.6 403.3 86.8 403.3 87.1 403.1 87.3 403.1 87.6 402.8 87.9 402.5 87.9 402.2 88.1 402 88.4 401.5 88.3 401.2 88.6 399.8 88.6 399.6 88.3 399.2 88.3 398 87.1 398 86.6 397.8 86.3 397.8 85.6 397.5 85.3 397.5 84.8 397.2 84.6 397.2 83.6 397 83.3 397 82.8 396.7 82.6 396.7 82.3 395.8 81.4 395.5 81.4 394.8 80.9 394.5 80.9 394 80.4 393.8 80.4 392 78.6 392 78.3 391.6 77.6 391.6 76.8 391.3 76.3 391.4 72.6 391.7 72.1 391.7 71.6 393.8 65.8 395 64.6 395.5 64.6 395.7 64.3Z" fill="#c0c0c0" fill-rule="evenodd" stroke="#141414" stroke-width="0.42"/><path d="M395.8 64.6 396 64.4 397.5 64.5 398 64.7 398.2 64.7 399.3 65.3 400 66 401.5 67.1 402.5 67.6 403 67.6 403.8 68 404.2 68.1 406.2 69.1 407.1 70.6 407.1 72.3 406.8 72.8 406.8 73.1 405.5 75.4 403.8 77.1 403.3 78.1 403.4 82.1 403.7 82.6 403.7 85.1 403.4 85.6 403.4 86.6 403.2 86.7 402.9 87.6 402.2 87.9 401.8 88.3 401.5 88.2 401 88.5 400 88.5 399.2 88.1 398.3 87.1 397.9 86.1 397.9 85.6 397.3 84.3 397.3 83.6 396.8 82.1 396 81.3 394.8 80.8 393.8 80.1 392.3 78.6 391.6 77.3 391.7 76.8 391.4 76.3 391.5 72.6 391.8 72.2 391.8 71.6 392.2 70.6 392.3 70.1 392.7 69.3 392.7 68.8 393.1 68.1 393.2 67.6 393.9 66.1 395 64.9 395.8 64.6Z" fill="#aeaeae" fill-rule="evenodd" stroke="#141414" stroke-width="0.42"/><path d="M396 64.6 397.5 64.6 397.8 64.8 398.2 64.9 399.2 65.4 399.9 66.1 400.2 66.2 401.5 67.2 402.5 67.7 403 67.7 403.8 68.2 404.2 68.2 405.2 68.7 406.2 69.3 407 70.6 407 72.3 406.8 72.6 406.7 73.1 405.4 75.3 403.8 77 403.2 78.1 403.3 82.1 403.6 82.6 403.6 85.1 403.3 85.6 403.3 86.3 402.8 87.3 402.5 87.6 402.2 87.7 401.8 88.1 401.2 88.1 401 88.3 400 88.3 399.2 87.9 398.3 86.8 398.2 86.3 398 86.1 398 85.3 397.8 85.1 397.7 84.6 397.5 84.3 397.5 83.6 396.9 82.1 396 81.2 394.8 80.6 393.8 79.9 392.4 78.6 391.8 77.3 391.8 76.7 391.6 76.3 391.6 72.8 391.8 72.3 391.9 71.6 392.3 70.6 392.4 70.1 392.8 69.3 392.9 68.8 393.3 68.1 393.3 67.6 394 66.1 395 65 396 64.6Z" fill="#9c9c9c" fill-rule="evenodd" stroke="#141414" stroke-width="0.42"/><path d="M395.8 64.8 396 64.7 397.2 64.7 398.2 65 399.2 65.6 399.8 66.1 401.5 67.3 402.5 67.8 403 67.9 403.8 68.3 404.2 68.3 406 69.3 406.9 70.6 406.9 72.1 406.6 73.1 405.2 75.3 403.7 76.8 403.1 78.1 403.2 82.1 403.4 82.8 403.4 85.1 403.1 85.6 403.1 86.3 402.6 87.3 402.1 87.6 401.8 87.9 401.2 88 401 88.2 400 88.2 399.4 87.8 398.5 86.9 398.4 86.3 398.2 86.1 398.2 85.3 397.7 84.3 397.6 83.3 397 82 396.1 81.1 394.8 80.5 393.8 79.8 392.5 78.5 391.9 77.3 391.9 76.6 391.7 76.1 391.7 72.8 392 72.3 392.1 71.6 392.6 70.1 393 69.3 393 68.8 393.4 68.1 393.5 67.6 394.2 66.1 395.2 65 395.8 64.8Z" fill="#8a8a8a" fill-rule="evenodd" stroke="#141414" stroke-width="0.42"/><path d="M396.2 64.8 397.2 64.9 398.2 65.2 399.2 65.8 399.8 66.3 401.2 67.4 402.5 68 404.2 68.5 405.2 69 406 69.6 406.7 70.6 406.7 72.1 406.4 73.1 405.1 75.3 403.5 76.8 402.9 78.1 403 82.1 403.3 82.8 403.3 84.8 403 85.3 403 86.3 402.5 87.2 401.8 87.8 400.8 88.1 400.2 88 399.5 87.7 398.6 86.8 398.3 85.8 398.3 85.3 397.8 84.1 397.7 83.3 397 81.8 396.2 81.1 394 79.8 392.6 78.3 392.1 77.3 392 76.6 391.8 76.1 391.9 72.8 392.1 72.3 392.1 71.8 393.6 68.1 393.7 67.6 394.3 66.1 395.2 65.2 396.2 64.8Z" fill="#7a7a7a" fill-rule="evenodd" stroke="#141414" stroke-width="0.42"/><path d="M396 65.1 396.2 65 397.2 65 398.1 65.3 399.1 65.8 399.8 66.5 401.2 67.6 402.2 68.1 405.1 69.1 405.9 69.6 406.6 70.8 406.6 72.1 406.1 73.3 405 75.1 403.3 76.8 402.8 78.1 402.9 82.1 403.1 82.8 403.1 84.8 402.8 85.3 402.8 86.1 402.2 87.2 401.7 87.6 400.8 87.9 400.2 87.9 399.5 87.4 398.8 86.6 398.5 85.8 398.5 85.3 398 84.1 397.9 83.3 397.2 81.8 396.2 80.9 394 79.6 392.8 78.3 392.2 77.1 392.2 76.6 392 76.1 392 72.8 392.3 72.3 392.3 71.8 393.8 67.8 394.5 66.1 395.2 65.3 396 65.1ZM398 71 397.4 71.3 396.9 71.8 396.7 72.6 396.7 73.3 397.2 74.1 397.8 74.5 398.5 74.7 399.1 74.6 399.8 74.3 400.2 73.8 400.5 73.1 400.5 72.3 400.1 71.6 399.5 71.1 398.8 70.9 398 71Z" fill="#6c6c6c" fill-rule="evenodd" stroke="#141414" stroke-width="0.42"/><path d="M395.9 65.3 396.2 65.2 397.2 65.2 398 65.5 399 66.1 399.5 66.6 401 67.8 402.2 68.4 404 68.8 405 69.3 405.7 69.8 406.4 70.8 406.4 72.1 405.8 73.3 404.7 75.1 403.1 76.6 402.6 77.8 402.6 82.1 402.9 82.8 402.9 84.8 402.6 85.3 402.6 86.1 402.2 86.8 402 87.1 401.5 87.4 401 87.5 400.8 87.6 400.2 87.6 399.7 87.3 399.1 86.6 399.1 86.1 398.9 85.8 399.1 85.3 398.2 84.1 398.2 83.3 397.4 81.8 396.2 80.6 395 80 394 79.3 392.9 78.1 392.4 77.1 392.4 76.6 392.2 76.1 392.3 72.8 392.6 72.3 392.6 71.8 393.9 68.3 394 67.8 394.6 66.3 395.3 65.6 395.9 65.3ZM397.5 69.1 396.8 69.3 396 69.8 395.1 70.8 394.7 71.6 394.6 72.3 394.7 73.8 395.3 75.1 396.5 76.1 398 76.6 399.5 76.6 400.2 76.4 401 75.9 402 74.8 402.4 74.1 402.6 73.3 402.5 71.8 402.2 71.1 401.8 70.3 401.2 69.8 400.5 69.4 399 68.9 397.5 69.1ZM400.2 83.3 400 83.4 399.6 83.8 399.2 85.1 399.8 85.8 400.2 86 400.8 85.9 401 85.7 401.3 85.3 401.4 84.8 401.3 84.1 401 83.6 400.8 83.4 400.2 83.3Z" fill="#606060" fill-rule="evenodd" stroke="#141414" stroke-width="0.42"/><path d="M396.2 65.6 397.2 65.6 398.2 66.1 398.6 66.6 398.5 66.9 396.7 67.3 395 68 394.8 68 394.7 67.8 394.8 67.1 395 66.5 395.5 65.9 396.2 65.6ZM404.2 69.6 404.8 69.7 405.2 70 406 70.8 406 71.9 405.5 72.9 405 73.4 404.8 73.3 404.5 71.6 403.9 69.8 404.2 69.6ZM392.9 75.6 393.2 75.7 394.3 76.8 395.2 77.6 397 78.3 398.2 78.6 399.2 78.6 400 78.5 401.5 78 401.8 78 402 78.3 402.2 79.1 402.3 80.3 402.3 82.3 402.4 83.1 402.2 83.3 402 83.1 401.4 82.3 400.5 81.9 399.8 82 398.8 82.9 398.5 82.8 397.6 81.6 396.7 80.6 394.3 79.1 393.2 78 392.9 77.1 392.7 75.8 392.9 75.6Z" fill="#565656" fill-rule="evenodd" stroke="#141414" stroke-width="0.42"/><ellipse cx="398.30" cy="72.60" rx="1.0" ry="1.0" fill="#ececec"/><path d="M480 60.9 480.2 60.6 480.8 60.6 481 60.9 481.5 60.9 482 61.4 482.2 61.4 483.2 62.4 483.5 62.4 484.2 63.2 484.5 63.1 485.2 63.9 485.5 63.9 487.6 66.1 487.6 66.3 487.9 66.6 487.8 67.1 488.1 67.3 488.1 67.8 488.3 68.1 488.3 68.8 488.5 69.1 488.4 70.6 488.7 71.1 488.7 72.6 488.4 73.1 488.5 74.6 488.2 74.8 488.3 75.8 488.1 76.1 488.2 77.6 487.9 77.8 487.9 81.3 487.6 81.6 487.7 83.1 487.4 83.3 487.4 83.8 487.1 84.1 487.2 84.6 486.9 84.8 486.9 85.4 486.7 85.6 486.7 85.8 486.4 86.1 486.4 86.3 486 86.8 486 87.1 485.2 87.8 485 87.8 484.2 88.3 483.8 88.3 483.5 88.6 482 88.6 481.8 88.3 481.2 88.3 480.5 87.8 480.2 87.8 479.8 87.3 479.5 87.1 479.2 87.1 478.3 86.1 478.3 85.8 478.1 85.6 478.1 85.1 477.8 84.8 477.8 84.1 477.6 83.8 477.6 83.1 477.3 82.8 477.3 82.6 476.5 81.8 476.2 81.8 476 81.6 474.5 81.6 474.2 81.3 473.5 81.3 472.8 80.8 472.2 80.8 471.5 80.3 471 80.3 469.8 79.3 469.8 79.1 469.5 78.8 469.5 78.3 469.3 78.1 469.3 75.1 469.5 74.8 469.5 74.3 470.5 73.4 471.2 73.1 472 72.4 472.2 72.4 472.3 72.1 473.3 71.1 473.3 70.8 473.9 70.3 473.9 70.1 474.4 69.6 474.4 69.3 474.9 68.8 474.9 68.6 475.4 67.8 475.4 67.6 475.9 67.1 475.9 66.6 476.4 65.8 476.3 65.3 476.6 65.1 476.6 64.6 476.8 64.3 476.8 64.1 477 63.9 477 63.6 477.3 63.4 477.3 63.1 479.2 61.1 479.5 61.1 479.8 60.9 480 60.9Z" fill="#d2d2d2" fill-rule="evenodd" stroke="#1c1c1c" stroke-width="0.42"/><path d="M480.2 60.9 480.8 60.8 481 61.1 481.5 61.1 482 61.6 482.2 61.6 483.2 62.6 483.5 62.6 484.1 63.4 484.5 63.5 485 64.1 485.5 64.4 487.2 66.1 487.5 66.8 487.7 68.1 487.9 68.3 487.8 69.1 488 69.6 487.8 70.8 488.2 71.3 488.2 72.3 487.8 72.8 487.8 73.1 488 74.1 487.8 74.6 487.9 75.6 487.7 76.1 487.8 77.3 487.6 77.8 487.6 81.1 487.3 81.6 487.3 82.8 486.9 83.8 486.8 84.3 486.6 84.8 486.6 85.1 486.1 86.3 485.8 86.7 485.7 87.1 485.2 87.6 484.5 87.8 484.2 88.1 483.7 88.1 483.5 88.3 482 88.3 481.8 88.1 481.2 88.1 481.1 87.8 480.2 87.5 479.6 86.8 479.1 86.6 478.6 86.1 478.4 85.6 478.4 85.1 478.1 84.6 478.2 84.1 477.9 83.6 477.9 83.1 477.5 82.3 476.5 81.6 476.2 81.6 476 81.4 474.5 81.4 474.2 81.1 473.5 81.1 472.8 80.6 472.2 80.6 471.5 80.1 471 80.1 470.5 79.6 470.2 79.6 470 79.3 470 79.1 469.7 78.8 469.7 78.3 469.5 78.1 469.5 75.1 469.7 74.8 469.7 74.3 470.5 73.6 471.2 73.3 472 72.6 472.3 72.6 472.5 72.4 472.6 72.1 473.5 71.3 474.2 70.2 474.7 69.8 474.8 69.6 475.2 69.1 475.8 67.8 476.2 67.3 476.2 66.8 476.6 66.1 476.9 64.6 477.2 63.9 477.3 63.6 477.5 63.4 477.5 63.1 479.2 61.3 479.5 61.3 480.2 60.9Z" fill="#c0c0c0" fill-rule="evenodd" stroke="#1c1c1c" stroke-width="0.42"/><path d="M480.4 61.4 480.5 61.3 480.8 61.5 481.2 61.5 482.1 62.1 482.8 62.9 484.2 64 484.8 64.5 485.2 64.8 486.8 66.5 487 67.8 486.8 68.2 486.5 68.2 486.5 68.6 486.9 69.1 486.9 69.3 487.4 70.1 487.4 70.8 487.6 71.1 487.6 72.3 487.6 72.8 487.4 73.1 487.4 73.6 487.2 73.8 487.2 74.3 486.7 74.8 486.7 75.1 486.5 75.3 486.5 75.6 486.8 75.5 487 76 487.3 77.1 487.1 77.6 487.1 80.3 487.1 80.8 486.9 81.3 486.8 83.1 485.6 86.1 485 87.1 484 87.6 483 87.9 482.3 87.8 481.5 87.6 480.5 87 480.1 86.6 479.5 86.2 479.1 85.8 478.7 84.3 478.7 84.1 478.4 83.3 478.2 82.5 478 82.1 477 81.3 476.2 81 474.8 80.9 474.5 80.8 473.8 80.7 471.8 79.8 471.2 79.7 470.4 79.1 469.9 77.8 469.9 75.6 470.2 74.5 470.8 74 471.5 73.7 472.2 73.1 472.8 72.8 473 72.3 473.9 71.6 474.8 70.5 475.9 69.3 476.4 68.1 476.9 67.6 476.8 67.1 477.1 66.1 477.3 64.8 478 63.4 479.4 61.9 480.4 61.4ZM478.2 67.6 478.2 67.6 478.2 67.6 478.3 67.6 478.2 67.6ZM486.2 68.1 486.2 68.1 486.2 68.1 486.3 68.1 486.2 68.1ZM477.5 68.2 477.3 68.3 477.5 68.4 477.5 68.3 477.5 68.2ZM477.2 68.5 477.2 68.6 477.2 68.6 477.3 68.6 477.2 68.5ZM477 68.8 477 68.8 477 68.9 477 68.8 477 68.8ZM476.8 69.2 476.7 69.3 476.8 69.4 476.8 69.3 476.8 69.2ZM476.5 69.8 476.5 70.1 476.5 69.8ZM486.2 75.6 486.2 75.6 486.2 75.7 486.5 75.6 486.2 75.6ZM486 75.8 486 75.8 486 75.9 486.1 75.8 486 75.8ZM484.8 76.8 484.7 76.8 484.8 76.9 484.8 76.8 484.8 76.8ZM484.2 77.1 484.2 77.1 484.2 77.2 484.4 77.1 484.2 77.1ZM480.2 77.3 480 77.3 480.2 77.5 480.3 77.3 480.2 77.3ZM483.5 77.3 483.2 77.5 482.5 77.5 482.2 77.8 481.5 77.8 481.2 77.6 481 77.5 480.5 77.6 481 78 481.2 78.2 481.5 78.1 483.4 78.1 484.1 77.3 483.5 77.3Z" fill="#aeaeae" fill-rule="evenodd" stroke="#1c1c1c" stroke-width="0.42"/><path d="M480.2 62.4 480.5 62.2 480.8 62.3 481.5 62.8 482.5 64.1 482.4 64.3 482.2 64.4 480.8 64.8 479.2 65 478.7 64.8 478.8 63.9 479.8 62.7 480.2 62.4ZM480.5 66.6 480.8 66.4 483 66.4 484.8 67.2 486 68.1 487.2 70.1 487.2 70.8 487.5 71.1 487.5 72.8 487 73.8 487 74.3 486.5 74.8 486.3 75.3 485.2 76.4 484 77 483.5 77.1 483.2 77.3 482.5 77.3 482.2 77.5 481.5 77.5 481.2 77.3 480.5 77.3 480.2 77.1 479.8 77 479.2 76.8 478.8 76.4 478.2 76.1 477.5 75.3 476.5 73.6 476.5 72.9 476.3 72.6 476.3 71.3 476.5 71.1 476.6 70.3 476.8 70.1 476.8 69.6 477 69.1 477.7 68.3 477.8 68.1 478.2 67.8 478.8 67.3 480 66.6 480.5 66.6ZM473.8 73.1 474.2 72.9 474.5 73.1 475.9 75.8 476.7 76.8 478.1 78.3 478.5 79.1 478.4 80.1 478 80.5 476.5 80.2 475.8 80.2 475 80.2 474 79.9 471.5 78.9 471 78.6 470.6 77.6 470.6 75.6 470.9 74.8 473.2 73.5 473.8 73.1ZM481.3 78.6 481.8 78.4 483.5 78.4 484.8 78.9 486.1 80.1 486.6 81.3 486.6 83.1 486.1 84.3 484.8 85.7 484.2 86 483.8 86 483.5 86.2 482 86.3 481.5 86 481 86 480.5 85.7 479.2 84.4 478.7 83.3 478.7 81.1 479.5 79.6 480 79.2 481.3 78.6Z" fill="#9c9c9c" fill-rule="evenodd" stroke="#1c1c1c" stroke-width="0.42"/><path d="M480.7 66.6 483 66.6 483.2 66.7 483.8 66.8 485.5 67.8 486 68.3 486.5 69.1 487 70.1 487.1 70.8 487.3 71.1 487.3 72.8 486.9 73.8 486.8 74.3 486.5 74.6 486.3 75.1 485 76.4 484 76.9 483 77.1 482.5 77.2 482 77.4 481.5 77.4 481.2 77.2 479.8 76.9 478.5 76.1 477.5 75.1 476.7 73.6 476.6 72.8 476.5 72.6 476.5 71.3 476.6 71.1 476.7 70.3 477.2 69.1 477.8 68.6 478 68.1 478.5 67.8 479 67.3 480.7 66.6ZM481.3 78.8 481.8 78.7 483.5 78.7 484.6 79.1 485.8 80.2 486.3 81.6 486.3 82.8 485.8 84.3 484.8 85.4 483.8 85.7 483.2 85.9 482 85.9 480.5 85.3 479.5 84.3 478.9 83.1 478.9 81.3 479.8 79.7 480.2 79.3 481.3 78.8Z" fill="#8a8a8a" fill-rule="evenodd" stroke="#1c1c1c" stroke-width="0.42"/><path d="M480.6 66.8 481 66.7 482.8 66.7 483.8 67 485.5 68 486.3 69.1 486.9 70.1 487 70.8 487.2 71.3 487.2 72.6 486.6 74.3 486.1 75.1 485 76.2 483 77 481.8 77.3 479.8 76.7 478.5 76 477.6 75.1 476.9 73.6 476.8 72.8 476.6 72.3 476.6 71.6 477.4 69.1 479 67.5 480 67 480.6 66.8ZM481.7 79.1 483.5 79 484.5 79.5 485.5 80.3 486 81.6 486 82.8 485.5 84.1 484.5 85.1 483.5 85.5 483.2 85.6 482 85.6 480.8 85.1 479.7 84.1 479.2 83.1 479.2 81.3 480 80 480.2 79.7 481.7 79.1ZM482 81.3 481.7 81.8 481.8 82.6 482.2 83.1 483 83 483.3 82.8 483.5 82.3 483.4 81.6 483.2 81.3 482.8 81.1 482 81.3Z" fill="#7a7a7a" fill-rule="evenodd" stroke="#1c1c1c" stroke-width="0.42"/><path d="M481 66.8 482.8 66.8 484 67.3 485.3 68.1 486.2 69.3 486.8 70.3 486.8 70.8 487 71.3 487 72.6 486.5 74.1 486 74.9 484.8 76.1 483.8 76.6 482.8 76.8 481.8 77.1 481.2 76.9 480.8 76.8 480 76.6 478.7 75.8 477.8 74.9 477 73.4 477 72.8 476.7 72.3 476.7 71.6 477.5 69.3 478 68.8 478.2 68.3 478.7 68.1 479.2 67.6 481 66.8ZM482 70.6 481.5 70.7 481 71 480.7 71.3 480.6 71.8 480.7 72.3 481 72.8 481.8 73.2 482.2 73.2 482.8 72.9 483 72.6 483.2 72.1 483.2 71.6 482.9 71.1 482.5 70.7 482 70.6Z" fill="#6c6c6c" fill-rule="evenodd" stroke="#1c1c1c" stroke-width="0.42"/><path d="M480.9 67.1 482.8 67.1 483.6 67.3 485.2 68.3 486 69.3 486.5 70.3 486.5 70.8 486.8 71.3 486.8 72.6 486.4 73.6 486.3 74.1 485.8 74.8 484.8 75.9 483.8 76.4 482.8 76.6 481.8 76.9 481.2 76.6 480.8 76.6 480.5 76.4 480 76.4 478.8 75.6 478 74.8 477.2 73.3 477.2 72.8 477 72.3 477 71.6 477.1 71.3 477.2 70.6 477.7 69.3 479.2 67.8 480.9 67.1ZM481 69.3 480.1 69.8 479.5 70.6 479.2 71.6 479.3 72.6 479.8 73.5 480.5 74.2 481.5 74.6 482.5 74.5 483.5 74.1 484.2 73.2 484.6 72.1 484.5 71.1 483.9 70.1 483 69.4 482 69.2 481 69.3Z" fill="#606060" fill-rule="evenodd" stroke="#1c1c1c" stroke-width="0.42"/><ellipse cx="481.80" cy="71.90" rx="0.9" ry="0.9" fill="#ededed"/><ellipse cx="482.60" cy="82.40" rx="0.8" ry="0.8" fill="#e0e0e0"/><path d="M70 123.7 71.5 123.7 73 124.1 74.5 124.7 76 125.7 77.1 126.9 77.9 128.2 78.5 129.7 78.7 131.2 78.6 132.7 77.9 135.7 77.6 138.2 77.3 139.2 76.8 139.9 75.8 140.9 74.2 141.8 72.5 142.3 70.5 142.5 68.2 142.4 66.2 141.8 64.8 141 63.6 139.9 63.1 139.2 62.8 138.2 61.7 131.7 61.8 130.2 62.3 128.7 62.9 127.4 64 126.1 65.2 125.1 66.8 124.3 68.5 123.8 70 123.7Z" fill="#d6d6d6" fill-rule="evenodd" stroke="#1e1e1e" stroke-width="0.42"/><path d="M68.3 124.7 69.8 124.4 71.2 124.5 72.8 124.8 74.2 125.5 75.5 126.4 76.5 127.4 77.2 128.7 77.6 129.9 77.8 131.4 77.6 132.9 75.8 138.4 75.2 139.4 74.4 140.2 73.2 140.8 72 141.2 70.2 141.3 68.5 141.2 67 140.7 65.7 139.9 65 139.2 64.5 138.2 62.8 133.2 62.6 131.7 62.7 130.4 63 129.2 63.6 127.9 64.5 126.7 65.5 125.9 67 125.1 68.3 124.7Z" fill="#c4c4c4" fill-rule="evenodd" stroke="#1e1e1e" stroke-width="0.42"/><path d="M68.9 125.2 70.2 125 71.8 125.2 73 125.6 74.2 126.2 75.4 127.2 76.2 128.2 76.7 129.2 77 130.4 77.1 131.7 76.8 133.2 76.2 134.9 74.9 137.4 74.2 138.4 73.5 139.2 72.5 139.8 71.5 140.1 70 140.2 68.8 140 67.5 139.6 66.6 138.9 65.8 137.8 64.6 135.7 63.8 133.9 63.4 132.4 63.3 131.2 63.5 129.9 63.9 128.7 64.6 127.7 65.5 126.7 66.5 126 67.8 125.4 68.9 125.2Z" fill="#b0b0b0" fill-rule="evenodd" stroke="#1e1e1e" stroke-width="0.42"/><path d="M68.5 125.9 69.8 125.7 71 125.7 72.2 126 73.2 126.4 74.2 127 75.2 127.9 75.8 128.9 76.2 129.9 76.4 130.9 76.4 131.9 76.2 132.9 75.7 134.2 74.8 135.7 73.8 137 73 137.8 72 138.4 71 138.8 69.8 138.8 68.8 138.6 67.8 138 66.8 137.1 65.6 135.7 64.7 134.2 64.2 132.9 64 131.9 64 130.7 64.3 129.7 64.7 128.7 65.5 127.7 66.2 127 67.2 126.3 68.5 125.9Z" fill="#9a9a9a" fill-rule="evenodd" stroke="#1e1e1e" stroke-width="0.42"/><path d="M68.8 126.4 70 126.2 71 126.3 72 126.5 73 126.9 74 127.6 74.8 128.4 75.2 129.2 75.6 130.2 75.8 131.2 75.7 132.2 75.4 133.2 74.9 134.2 74.2 135.2 73.2 136.2 72.5 136.8 71.5 137.3 70.5 137.5 69.5 137.5 68.8 137.2 67.8 136.7 66.8 135.8 65.8 134.7 65.1 133.4 64.8 132.4 64.6 131.4 64.7 130.4 65 129.4 65.4 128.7 66.1 127.9 67 127.2 67.8 126.8 68.8 126.4Z" fill="#848484" fill-rule="evenodd" stroke="#1e1e1e" stroke-width="0.42"/><path d="M69.1 126.9 70 126.8 71 126.8 72 127.1 73 127.6 73.8 128.2 74.4 128.9 74.8 129.7 75.1 130.4 75.1 131.2 75.1 132.2 74.8 133.1 74.3 133.9 73 135.4 72 136.1 71.2 136.4 70.2 136.5 69.5 136.4 68.5 136.1 67.8 135.7 67 135 66.2 134.2 65.7 133.2 65.3 132.2 65.3 131.2 65.3 130.4 65.6 129.7 66 128.9 66.6 128.2 67.3 127.7 68.2 127.2 69.1 126.9Z" fill="#6e6e6e" fill-rule="evenodd" stroke="#1e1e1e" stroke-width="0.42"/><path d="M69.4 127.4 70.2 127.3 71.2 127.5 72.8 128.1 73.9 129.2 74.3 129.9 74.5 130.7 74.4 132.2 73.8 133.7 72.5 134.9 71.8 135.3 71 135.6 70.2 135.7 69.2 135.5 68.5 135.3 67.8 134.8 67 134.2 66.5 133.4 65.9 131.9 66 130.4 66.2 129.7 66.7 128.9 68 127.9 69.4 127.4Z" fill="#585858" fill-rule="evenodd" stroke="#1e1e1e" stroke-width="0.42"/><path d="M68.8 128.2 70.2 127.9 71.8 128.2 73 129.1 73.7 130.2 73.9 131.4 73.6 132.7 72.8 133.8 71.5 134.7 70.8 134.9 70 134.9 68.8 134.6 67.5 133.7 66.8 132.5 66.5 131.2 66.8 129.9 67.6 128.9 68.8 128.2Z" fill="#464646" fill-rule="evenodd" stroke="#1e1e1e" stroke-width="0.42"/><path d="M69.6 128.7 70.8 128.6 71.8 129 72.6 129.7 73.1 130.7 73.1 131.7 72.8 132.7 72 133.5 71 134 69.8 134.1 68.8 133.7 67.8 132.9 67.3 131.9 67.3 130.9 67.7 129.9 68.5 129.1 69.6 128.7Z" fill="#383838" fill-rule="evenodd" stroke="#1e1e1e" stroke-width="0.42"/><path d="M69.9 129.4 70.8 129.5 71.5 129.8 72 130.4 72.2 131.2 72.1 131.9 71.8 132.5 71.2 132.9 70.5 133.2 69.8 133.2 69 132.8 68.5 132.3 68.2 131.7 68.2 130.9 68.5 130.2 69.1 129.7 69.9 129.4Z" fill="#2e2e2e" fill-rule="evenodd" stroke="#1e1e1e" stroke-width="0.42"/><path d="M69.5 130.4 69.8 130.3 70.3 130.4 70.5 130.9 70.3 131.4 70 131.6 69.5 131.4 69.2 130.9 69.5 130.4Z" fill="#e0e0e0" fill-rule="evenodd" stroke="#1e1e1e" stroke-width="0.42"/><path d="M150.5 123.9 152.2 123.7 154.2 123.8 156.2 124.2 158 125 159.5 126 160.7 127.2 161.7 128.7 162.2 130.2 162.3 131.7 162 133.4 161.4 134.9 160.3 136.4 159 137.7 157.5 138.6 156 139.3 154 139.8 152 139.9 150 139.7 148 139.3 146.5 138.6 145 137.7 143.7 136.4 142.9 135.2 142.3 133.7 142.1 132.2 142.4 130.4 143 128.9 144 127.4 145.3 126.2 147 125.1 148.8 124.3 150.5 123.9ZM154.5 148.4 154.8 148.2 155.2 148.2 156 148.9 156 149.2 156.2 149.4 156.2 149.9 156.5 150.2 156.5 150.9 156.7 151.2 156.7 151.7 157 151.9 157 152.4 157.2 152.7 157.2 153.4 157.5 153.7 157.5 155.9 157.2 156.2 157.2 156.7 157 156.9 157 157.2 156.5 157.7 156.5 157.9 155.5 158.9 154.8 159.1 154.5 159.4 153.8 159.4 153.5 159.6 150.8 159.6 150.5 159.4 149.5 159.4 149.2 159.1 148.8 159.1 148.5 158.9 148.2 158.9 148 158.6 147.5 158.6 147 158.1 146.8 158.1 145 156.4 145 156.2 144.8 155.9 144.8 155.4 145 155.2 145 154.7 145.3 154.4 145.3 154.2 146 153.4 146 153.2 146.5 152.7 146.8 152.7 147 152.4 147.2 152.4 147.5 152.2 147.8 152.2 148 151.9 148.5 151.9 149.2 151.4 149.8 151.4 150 151.2 150.2 151.2 150.5 150.9 150.8 150.9 151.2 150.4 151.5 150.4 152.2 149.7 152.5 149.7 153.2 148.9 153.5 148.9 154.2 148.4 154.5 148.4Z" fill="#d6d6d6" fill-rule="evenodd" stroke="#1e1e1e" stroke-width="0.42"/><path d="M150.9 124.7 152.8 124.5 154.5 124.7 156 125 157.8 125.8 159 126.7 160.1 127.9 160.8 129.2 161.2 130.4 161.3 131.7 161.1 133.2 160.6 134.4 159.6 135.9 158.5 137 157 138 155.5 138.6 153.8 139 152 139.1 150.2 139 148.5 138.6 146.8 137.8 145.5 136.9 144.3 135.7 143.6 134.4 143.2 133.2 143.1 131.9 143.4 130.4 144 128.9 145 127.7 146.2 126.5 147.5 125.7 149.2 125 150.9 124.7ZM154.7 148.4 155.2 148.4 155.8 148.9 155.8 149.2 156 149.4 156 149.9 156.3 150.2 156.3 150.9 156.5 151.2 156.5 151.7 156.8 151.9 156.8 152.4 157 152.7 157 153.4 157.3 153.7 157.3 155.9 157 156.2 157 156.7 156.8 156.9 156.8 157.2 156.3 157.7 156.3 157.9 155.5 158.7 154.8 158.9 154.5 159.2 153.8 159.2 153.5 159.4 150.8 159.4 150.5 159.2 149.5 159.2 149.2 158.9 148.8 158.9 148.5 158.7 148.2 158.7 148 158.4 147.5 158.4 147 157.9 146.8 157.9 145.2 156.4 145.2 156.2 145 155.9 145 155.4 145.2 155.2 145.2 154.7 145.5 154.4 145.5 154.2 146.2 153.4 146.2 153.2 146.5 152.9 146.8 152.9 147 152.6 147.2 152.6 147.5 152.4 147.8 152.4 148 152.1 148.5 152.2 149.2 151.7 149.8 151.7 150.5 151.2 150.8 151.2 151.2 150.6 151.5 150.6 152.2 149.9 152.5 149.9 153.2 149.1 153.5 149.1 153.8 148.9 154 148.9 154.7 148.4Z" fill="#c4c4c4" fill-rule="evenodd" stroke="#1e1e1e" stroke-width="0.42"/><path d="M150.4 125.4 152 125.2 153.8 125.2 155.2 125.5 156.8 126.1 158 126.8 159.2 127.9 159.8 128.9 160.4 130.2 160.5 131.4 160.4 132.9 159.9 134.2 159.1 135.4 158.1 136.4 157 137.2 155.8 137.8 154 138.3 152.2 138.5 150.8 138.4 149.2 138.1 147.8 137.5 146.3 136.7 145.3 135.7 144.6 134.7 144.1 133.4 143.9 132.2 144.1 130.9 144.5 129.7 145.3 128.4 146.2 127.4 147.5 126.5 149 125.8 150.4 125.4ZM154.9 148.9 155 148.8 155.2 149 155.6 149.7 155.7 150.2 155.8 150.4 155.9 151.2 156.6 152.9 156.6 153.7 156.8 154.2 156.8 155.7 156.6 155.9 156.6 156.4 155.8 157.7 155.2 158.2 154.2 158.7 153.5 158.8 153 159 151 158.9 150.8 158.8 149.8 158.7 148.4 158.2 147.8 158 146.9 157.4 145.7 156.2 145.4 155.7 145.9 154.4 146.5 153.8 146.8 153.3 148.2 152.6 148.8 152.6 150.5 151.9 151.9 150.9 153.5 149.6 154.9 148.9Z" fill="#b0b0b0" fill-rule="evenodd" stroke="#1e1e1e" stroke-width="0.42"/><path d="M151.3 125.9 152.8 125.8 154.2 126 155.5 126.3 156.8 126.9 157.9 127.7 158.8 128.7 159.3 129.7 159.7 130.9 159.7 132.2 159.4 133.4 158.9 134.4 158.2 135.4 157.2 136.2 156 137 154.8 137.5 153.2 137.8 151.8 137.8 150.2 137.6 149 137.3 147.8 136.7 146.8 136 145.9 135.2 145.2 134.2 144.8 132.9 144.8 131.7 145 130.7 145.5 129.4 146.3 128.4 147.2 127.5 148.5 126.7 149.8 126.2 151.3 125.9ZM154.5 149.9 154.8 149.8 154.9 149.9 156.1 154.4 156 155.4 155.8 156.2 155 157.4 154.8 157.5 154 157.9 152.8 158.1 151.5 158 150.8 157.7 150 157.7 148.1 157.2 147.2 156.7 146.3 155.7 146.4 155.2 146.8 154.6 147.5 153.9 148.2 153.7 148.8 153.7 149.1 154.2 149.3 155.7 150 156.7 151 157.3 152 157.2 153 156.8 153.5 156.3 153.9 155.7 154.1 155.2 154 154.4 153.6 153.7 152.2 152.5 152.1 152.2 152.8 151.2 153.8 150.3 154.5 149.9Z" fill="#9a9a9a" fill-rule="evenodd" stroke="#1e1e1e" stroke-width="0.42"/><path d="M152.3 126.4 153.5 126.4 154.8 126.7 156 127.2 157 127.8 157.9 128.7 158.5 129.5 158.9 130.7 159 131.7 158.9 132.9 158.5 133.9 157.8 134.9 157 135.6 156 136.3 154.8 136.8 153.5 137.1 152.2 137.2 150.8 137.1 149.5 136.8 148.2 136.3 147.3 135.7 146.6 134.9 145.9 133.9 145.6 132.9 145.5 131.9 145.6 130.9 146 129.9 146.7 128.9 147.5 128.1 148.5 127.4 149.8 126.9 151 126.5 152.3 126.4Z" fill="#848484" fill-rule="evenodd" stroke="#1e1e1e" stroke-width="0.42"/><path d="M150.8 127.2 152 127 153.2 127 154.5 127.2 155.5 127.6 156.5 128.2 157.3 128.9 157.8 129.7 158.2 130.7 158.4 131.7 158.3 132.7 157.9 133.7 157.4 134.4 156.7 135.2 155.8 135.8 154.8 136.2 153.5 136.6 151.2 136.6 150 136.4 149 136 148.1 135.4 147.2 134.7 146.7 133.9 146.4 133.2 146.2 132.2 146.3 131.2 146.7 130.2 147.1 129.4 147.8 128.7 148.8 128 149.8 127.5 150.8 127.2Z" fill="#6e6e6e" fill-rule="evenodd" stroke="#1e1e1e" stroke-width="0.42"/><path d="M151.2 127.7 153.2 127.6 154.2 127.7 155.2 128.1 156 128.6 156.7 129.2 157.2 129.9 157.5 130.7 157.7 131.4 157.6 132.4 157.3 133.4 156.8 134.2 156 134.9 155.2 135.4 153.5 136 151.5 136.1 150.5 135.9 149.5 135.5 148.8 135.1 147.9 134.4 147.4 133.7 147.1 132.9 146.9 132.2 147 131.2 147.3 130.4 147.8 129.7 148.5 128.9 149.2 128.4 150.2 127.9 151.2 127.7Z" fill="#585858" fill-rule="evenodd" stroke="#1e1e1e" stroke-width="0.42"/><path d="M152 128.2 153 128.1 154 128.3 155.5 129 156 129.4 156.6 130.2 156.9 130.9 157 131.7 156.9 132.4 156.7 133.2 155.8 134.3 155 134.8 154.2 135.2 152.5 135.5 150.8 135.3 149.2 134.6 148.7 134.2 148.1 133.4 147.7 132.2 147.8 131.4 148 130.7 148.5 129.9 149 129.4 150.2 128.6 152 128.2Z" fill="#464646" fill-rule="evenodd" stroke="#1e1e1e" stroke-width="0.42"/><path d="M151.6 128.9 153.2 128.9 154.5 129.3 155.5 130 156.1 131.2 156.1 132.4 155.6 133.4 154.5 134.3 153.2 134.7 151.8 134.8 150.4 134.4 149.3 133.7 148.7 132.7 148.6 132.2 148.7 131.4 149.1 130.4 150.2 129.4 151.6 128.9Z" fill="#383838" fill-rule="evenodd" stroke="#1e1e1e" stroke-width="0.42"/><path d="M150.9 129.7 151.5 129.6 153.5 129.8 154.2 130.1 154.9 130.7 155.2 131.4 155.1 132.4 154.7 133.2 153.8 133.8 152.8 134 151.6 133.9 150.8 133.6 150 132.9 149.7 132.2 149.8 131.4 150.2 130.2 150.9 129.7Z" fill="#2e2e2e" fill-rule="evenodd" stroke="#1e1e1e" stroke-width="0.42"/><path d="M150.9 130.4 151 130.3 151.2 130.3 151.4 130.4 151.4 130.7 151 130.7 150.9 130.4Z" fill="#e0e0e0" fill-rule="evenodd" stroke="#1e1e1e" stroke-width="0.42"/><ellipse cx="151.60" cy="154.70" rx="1.0" ry="0.9" fill="#ececec"/><path d="M233.8 128.2 234 127.9 236.2 127.9 236.5 128.2 237.2 128.2 238 128.7 238.2 128.7 239.7 130.2 240 130.9 240.2 131.2 240.2 131.9 240.5 132.2 240.5 133.7 240.7 133.9 240.7 136.2 240.5 136.4 240.4 141.7 240.6 141.9 240.6 143.2 240.8 143.4 240.7 144.4 240.9 144.7 240.9 144.9 240.8 145.7 241 146.2 240.9 146.9 241.1 147.4 241 148.2 241.3 148.9 241.3 149.4 241.5 149.7 241.5 150.9 241.8 151.2 241.8 152.7 241.5 152.9 241.5 154.2 241.3 154.4 241.3 154.9 241 155.2 241.1 156.4 240.9 156.9 241 157.7 240.8 158.2 240.9 158.7 240.7 159.2 240.8 159.7 240.5 159.9 240.6 161.4 240.4 161.7 240.4 162.4 240.2 162.7 240.2 162.9 239.9 163.2 239.9 163.4 239 164.7 239 164.9 238.2 165.6 238 165.6 237.8 165.9 237.5 165.9 237.2 166.1 234.5 166.1 233.8 165.6 233.5 165.6 233 165.2 233 164.9 232.6 164.4 232.6 164.2 232.3 163.9 232.3 163.7 232.1 163.4 232.1 163.2 231.8 162.9 231.9 162.7 231.6 162.4 231.6 161.9 231.4 161.7 231.4 161.2 231.2 160.9 231.2 160.4 231 160.2 231.1 159.7 230.9 159.2 230.9 158.7 230.7 158.4 230.7 157.9 230.6 157.7 230.6 157.2 230.4 156.9 230.4 156.2 230.2 155.7 230.2 155.4 230 155.2 230 154.7 229.7 154.4 229.7 153.4 229.5 153.2 229.5 150.7 229.7 150.4 229.7 149.4 230 149.2 229.8 147.4 230 146.9 229.7 144.4 230 144.2 229.8 140.9 230 140.7 230 139.2 229.8 138.9 229.8 137.9 229.8 133.2 230 132.9 230 131.7 230.3 131.4 230.3 130.9 230.5 130.7 230.8 129.9 231.8 128.9 232 128.9 232.5 128.4 233 128.4 233.2 128.2 233.8 128.2Z" fill="#d6d6d6" fill-rule="evenodd" stroke="#141414" stroke-width="0.42"/><path d="M234 128.2 236.2 128.1 236.5 128.3 237.2 128.3 238 128.8 238.2 128.8 239.6 130.2 239.8 130.9 240.1 131.2 240.1 131.9 240.3 132.2 240.3 133.7 240.6 133.9 240.5 136.2 240.3 136.4 240.2 141.7 240.4 142.2 240.3 143.2 240.5 143.7 240.4 144.4 240.6 144.9 240.5 145.9 240.7 146.4 240.6 147.2 240.8 147.7 240.8 148.3 241.4 149.9 241.4 150.9 241.7 151.4 241.7 152.4 241.4 152.9 241.4 153.9 240.7 155.7 240.8 156.2 240.6 156.7 240.7 157.4 240.5 157.9 240.6 158.7 240.4 158.9 240.4 159.4 240.2 159.9 240.3 161.2 240.1 161.7 240.1 162.2 239.6 163.4 238.8 164.7 238.8 164.9 238.2 165.4 238 165.4 237.8 165.7 237.5 165.7 237.2 165.9 234.5 165.9 233.8 165.4 233.5 165.4 233.2 165.2 233.2 164.9 232.8 164.4 232.8 164.1 232.6 163.9 231.9 162.2 230.7 156.7 230.8 156.4 230.1 154.9 230.1 154.7 229.8 154.2 229.8 153.4 229.6 152.9 229.6 150.9 229.8 150.4 229.8 149.7 230.2 148.5 230.2 147.7 230.3 147.2 230 144.7 230.2 144.2 230 140.9 230.2 140.7 230.2 139.2 230 138.9 229.9 133.2 230.2 132.9 230.2 131.7 230.4 131.4 230.4 130.9 230.7 130.7 230.9 129.9 231.8 129.1 232 129.1 232.5 128.6 233 128.6 233.2 128.3 233.8 128.3 234 128.2ZM234.8 143.5 234.6 143.7 234.5 144.7 234.8 144.9 235.2 144.7 235.3 143.9 235.1 143.7 234.8 143.5Z" fill="#c4c4c4" fill-rule="evenodd" stroke="#141414" stroke-width="0.42"/><path d="M233.8 128.7 234.2 128.4 236 128.4 236.4 128.7 237 128.7 238.2 129.3 239.1 130.2 239.7 131.4 239.8 132 240 132.4 240 133.7 240.2 134.2 240.2 135.9 240 136.4 239.8 141.7 240 142.2 240 143.4 240.1 143.9 240.1 144.7 240.2 145.2 240.1 145.9 240.3 146.4 240.1 146.9 241.4 149.9 241.3 150.9 241.6 151.4 241.6 152.4 241.3 152.9 241.4 153.9 240.1 156.9 240.3 157.4 240.1 157.9 240.2 158.4 239.9 159.7 239.9 160.9 239.8 161.4 239.7 162.2 239.3 163.2 239 163.5 238.2 164.9 237.2 165.4 237 165.6 234.8 165.6 233.8 165.1 233.1 164.2 232.2 162.2 231.5 158.2 231.5 157.2 230.1 154.9 230.2 154.7 229.9 154.2 229.9 153.4 229.6 152.9 229.6 150.9 229.9 150.4 229.9 149.7 230.9 147.4 230.4 144.9 230.6 144.2 230.4 141.2 230.6 140.7 230.5 139.2 230.3 138.7 230.3 133.7 230.5 132.9 230.5 131.9 231.3 130.2 231.8 129.6 232.8 128.9 233.8 128.7ZM234.8 143.4 234.4 143.7 234.2 144.9 234.9 144.9 235.6 144.7 235.4 143.7 235 143.4 234.8 143.4Z" fill="#b0b0b0" fill-rule="evenodd" stroke="#141414" stroke-width="0.42"/><path d="M234.4 128.9 235.8 128.8 236.2 129.1 236.8 129.1 237.9 129.7 238.7 130.4 239.3 131.7 239.3 132.2 239.6 132.7 239.6 133.9 239.8 134.4 239.8 135.7 239.6 136.4 239.4 141.7 239.6 142.4 239.4 143.4 239.6 143.9 239.2 145 239 145.2 238.8 145.2 236.5 144.4 236 144.1 235.9 143.7 235.5 143.5 235 143.1 234.1 143.4 233.8 144.5 233.5 144.8 232 145.7 231.5 145.7 231.1 145.2 231.2 144.4 230.8 141.9 230.8 141.4 231 140.7 231 139.2 230.7 138.4 230.7 133.7 230.9 133.2 230.9 132.2 231.4 130.9 232 130 232.8 129.4 234.4 128.9ZM235 144.9 236.2 144.7 236.6 144.9 237.2 145 237.4 145.2 238 145.2 238.4 145.7 238.8 145.8 239.8 146.9 241 149.2 241 149.7 241.2 149.9 241.2 150.9 241.5 151.4 241.5 152.4 241.2 152.9 241.2 153.9 241 154.2 241 154.7 239.8 156.9 238.8 158 238.4 158.2 238 158.6 237.3 158.7 236.2 159.1 235 159.1 234.6 158.9 233.8 158.8 233.6 158.7 233.2 158.5 232.9 158.2 232.5 158 231.5 156.9 231.2 156.4 230.8 155.9 230.3 154.9 230.2 154.4 230 154.2 230 153.3 229.8 152.9 229.8 150.9 230 150.4 230 149.7 230.8 147.9 231.2 147.4 231.4 146.9 232.5 145.7 232.9 145.7 233.2 145.2 234 145 234.8 145.1 235 144.9ZM238.7 158.7 239 158.7 239.2 159.2 239.3 160.2 239.1 161.4 239.2 161.9 238 164.4 237.8 164.7 236.8 165.2 235 165.2 234 164.7 233.8 164.2 233.5 163.9 232.7 161.9 232.5 160.4 232.5 159.4 232.7 159.2 233 159 234.8 159.4 236 159.4 237 159.2 238.7 158.7Z" fill="#9a9a9a" fill-rule="evenodd" stroke="#141414" stroke-width="0.42"/><path d="M234.2 129.7 234.8 129.5 235.5 129.4 236.8 129.7 237.5 130.1 238.1 130.7 238.7 131.7 239 132.9 239 133.9 239.2 134.7 239.1 138.7 238.5 141.6 238.2 142.2 238 142.3 237.5 142.4 236.8 143.1 235.8 143.3 235.5 143.2 235 142.4 234.8 142.5 234.5 142.9 234 143.2 233 142.7 232.5 142.8 232 142.5 231.6 141.7 231.7 140.9 231.7 140.2 231.1 137.7 231.1 135.9 231.3 135.4 231.3 133.9 231.5 133.2 231.5 132.4 231.8 131.4 232.4 130.4 233.2 129.9 234.2 129.7ZM235.4 144.9 236.2 144.8 237.2 145.3 237.8 145.3 238.1 145.7 238.6 145.9 239.8 147 240.8 149.2 240.9 149.7 241.1 149.9 241.2 151.2 241.4 151.7 241.3 152.4 241.1 152.9 241.1 153.9 240.9 154.2 240.8 154.7 239.8 156.8 238.6 157.9 238.1 158.2 237.8 158.5 237.2 158.5 236.2 159 235.8 159 235 159 234.8 158.8 234 158.7 233.5 158.5 233.2 158.2 232.6 157.9 231.5 156.8 230.4 154.9 230.3 154.4 230.2 154.2 230.1 153.2 229.9 152.7 229.9 151.2 230.1 150.4 230.2 149.7 230.3 149.4 230.4 148.9 231.4 147.2 232.6 145.9 233.5 145.3 234 145.1 234.8 145.2 235.4 144.9ZM234.9 161.7 237.2 161.6 237.8 161.8 237.9 162.4 237.5 163.7 237.2 164.1 236.8 164.4 235.2 164.5 234.5 164 234.1 163.2 234 162.2 234.2 161.8 234.9 161.7Z" fill="#848484" fill-rule="evenodd" stroke="#141414" stroke-width="0.42"/><path d="M234.6 129.9 235.5 129.8 236 130 236.5 130.3 237.4 131.2 238.1 132.4 238.9 134.9 238.8 138.7 238.3 140.4 237.5 141.8 236.8 142.7 236 143 235.8 143 235.5 142.7 235.3 141.9 235.1 138.4 235 137.5 234.8 137.6 234.5 141.9 234.2 142.6 234 142.7 233.3 142.4 232.7 141.7 232.2 140.7 231.7 138.9 231.6 138.2 231.4 137.7 231.4 135.9 231.6 135.4 231.6 134.4 232.4 132.2 233.4 130.7 234.6 129.9ZM235.1 145.2 236 144.9 237.8 145.5 238.5 146 239.7 147.2 240.7 149.2 241 150.2 241 151.2 241.2 151.7 241.2 152.2 241 152.9 240.9 153.9 239.7 156.7 238.5 157.8 237.8 158.3 236.2 158.8 235.2 158.9 234.8 158.7 234 158.6 232.8 157.8 231.6 156.7 231.1 155.9 230.3 154.2 230.2 153.2 230 152.7 230 151.2 230.2 150.7 230.3 149.7 230.6 148.9 231.6 147.2 232.8 146 233.5 145.5 234 145.3 234.8 145.3 235.1 145.2Z" fill="#6e6e6e" fill-rule="evenodd" stroke="#141414" stroke-width="0.42"/><path d="M234.4 130.4 235 130.2 235.5 130.2 236.4 130.7 237 131.2 237.7 132.4 238.5 135.2 238.5 138.4 238.2 139.7 237.5 141.2 236.5 142.4 236 142.5 235.8 142.2 235.7 141.9 235.3 136.4 235 135.2 234.8 135.3 234.7 135.7 234.4 137.4 234.1 141.4 234 142 233.8 142.1 233 141.4 232.6 140.7 232 138.9 231.7 137.4 231.7 136.2 232 135.4 232 134.5 232.3 133.4 232.8 132.3 233.6 130.9 234.4 130.4ZM235.6 145.2 236 145.1 237.7 145.7 238.5 146.2 239.5 147.2 240.5 149.2 240.8 150.2 240.8 150.9 241.1 151.7 241.1 152.2 240.9 152.7 240.8 153.7 240.6 154.4 239.5 156.7 238.5 157.6 237.7 158.2 236 158.7 235.5 158.7 234.2 158.5 233.5 158.2 232.8 157.6 231.8 156.6 230.8 154.9 230.4 153.9 230.4 153.2 230.2 152.7 230.2 151.2 230.4 150.7 230.4 149.9 230.8 148.9 231.8 147.2 232.8 146.2 233.5 145.7 234.2 145.4 234.8 145.5 235.6 145.2ZM235.2 150.4 235 150.5 234.7 150.9 234.5 151.5 234.5 152.2 234.7 152.7 235 153.1 235.2 153.2 235.8 153.2 236.2 153 236.5 152.7 236.6 151.7 236.2 150.8 235.8 150.5 235.2 150.4Z" fill="#585858" fill-rule="evenodd" stroke="#141414" stroke-width="0.42"/><path d="M235.5 131.2 236 131.3 236.4 131.7 237 132.5 237.8 135.2 237.8 138.3 237.1 139.9 236.5 140.5 236.2 140.4 236.1 139.9 235.7 134.4 235.1 131.7 235.2 131.4 235.5 131.2ZM233.9 131.9 234.2 131.7 234.4 131.9 234.4 132.4 234.1 134.7 233.8 139.3 233.5 140 233.2 139.8 232.8 138.7 232.5 137.4 232.4 136.2 232.6 135.7 232.7 134.7 232.9 133.7 233.4 132.7 233.9 131.9ZM235.6 145.4 236 145.3 237.5 145.8 238.4 146.4 239.4 147.4 240.6 150.2 240.6 151.2 240.9 151.7 240.9 152.2 240.6 152.7 240.6 153.7 240.4 154.4 239.4 156.4 238.4 157.4 237.5 158 236 158.5 235.5 158.5 234.8 158.3 234.2 158.3 233.8 158 232.9 157.4 231.9 156.4 231.1 155.2 230.6 153.9 230.6 153.2 230.4 152.7 230.4 151.2 230.6 150.7 230.6 149.9 230.9 149.2 231.4 148.2 232 147.3 233 146.3 233.8 145.8 234.2 145.6 234.8 145.9 235 145.8 235.6 145.4ZM235 147.6 234.8 147.7 233.1 150.2 232.8 151.2 232.7 152.4 233.2 153.9 233.9 154.9 235 155.5 236 155.5 237 155.1 237.9 154.2 238.4 152.9 238.5 151.4 238.1 150.2 237.5 149.1 236.9 148.7 235.8 148.1 235 147.6Z" fill="#464646" fill-rule="evenodd" stroke="#141414" stroke-width="0.42"/><path d="M235.4 157.7 235.8 157.7 235.8 157.9 235.5 157.9 235.4 157.7Z" fill="#383838" fill-rule="evenodd" stroke="#141414" stroke-width="0.42"/><ellipse cx="235.60" cy="151.90" rx="2.604" ry="3.8" fill="#5a5a5a"/><ellipse cx="235.60" cy="151.90" rx="0.8" ry="1.1" fill="#efefef"/><path d="M316.5 127.9 316.8 127.7 318.5 127.7 318.8 127.9 319.5 127.9 320.2 128.4 320.5 128.4 320.8 128.7 321 128.7 322 129.7 322.2 130.4 322.5 130.7 322.5 131.2 322.7 131.4 322.7 132.4 323 132.7 323 139.2 322.8 142.7 323.1 142.9 323 144.2 323.2 144.7 323 145.7 323.2 146.2 323 147.2 323.2 147.7 323.1 148.2 323.2 148.9 323.7 150.2 323.7 151.7 323.9 151.9 323.7 152.2 323.7 153.9 323.5 154.2 323.1 155.7 323.8 159.7 323.9 161.4 323.7 161.7 323.7 164.2 323.5 164.4 323.5 165.4 323.2 165.7 323.2 166.2 322.7 166.9 322.7 167.2 322.5 167.4 322.5 167.9 322 168.4 322 168.7 321.2 169.4 321 169.4 320.8 169.6 319.2 169.7 319 169.9 318.5 169.9 318.2 169.6 318 169.6 316.8 168.4 316.5 167.7 316.3 167.4 316.3 167.2 316 166.9 316 166.7 315.8 166.4 315.8 165.9 315.5 165.7 315.5 165.4 315.3 165.2 315.3 164.9 315.1 164.7 315.1 164.2 314.6 163.4 314.6 162.9 314.2 162.2 314.2 161.7 314 161.4 314 160.9 313.8 160.7 313.6 159.9 313.6 159.4 313.5 159.2 313.5 158.7 313.4 158.4 313.4 157.9 313.3 157.7 313.2 156.4 312.8 155.9 312.8 155.3 312.3 154.7 312.3 153.9 312 153.4 312 150.4 312.3 149.9 312.3 149.2 312.5 149 312.7 148.4 312.3 146.4 312.5 145.9 312.2 143.4 312.4 143.2 312.3 135.9 312 135.7 312 134.4 312.3 134.2 312.3 132.4 312.5 132.2 312.5 131.2 312.8 130.9 312.8 130.7 313 130.4 313.3 129.7 314.2 128.7 314.5 128.7 315 128.2 315.5 128.2 315.8 127.9 316.5 127.9Z" fill="#d8d8d8" fill-rule="evenodd" stroke="#141414" stroke-width="0.42"/><path d="M316.7 127.9 318.5 127.9 318.8 128.1 319.5 128.1 320.2 128.6 320.5 128.6 320.8 128.8 321 128.8 321.8 129.7 322.1 130.4 322.3 130.7 322.3 131.2 322.6 131.4 322.6 132.4 322.8 132.7 322.8 139.7 322.6 142.7 322.8 143.2 322.6 144.2 322.8 144.9 322.6 145.9 322.8 146.4 322.6 147.2 322.8 147.7 322.7 147.9 323.1 148.7 323.4 149.7 323.6 150.2 323.6 151.7 323.7 151.9 323.6 152.2 323.6 153.7 323.4 154.2 323.1 155.2 322.7 155.9 323.2 157.9 323.6 160.7 323.7 161.2 323.4 161.7 323.5 164.2 323.3 164.4 323.3 165.4 323 165.7 323 166.2 322.5 166.9 322.5 167.2 322.3 167.4 322.3 167.9 321.8 168.4 321.8 168.7 321.2 169.2 321 169.2 320.8 169.4 319.8 169.4 319.2 169.4 319 169.7 318.5 169.7 318.2 169.4 318 169.4 317 168.4 316.7 167.7 316.5 167.4 316.5 167.2 316.2 166.9 316.2 166.7 316 166.4 316 165.9 315.7 165.7 315.7 165.4 315.3 164.7 315.3 164.2 315.1 163.9 314.8 162.7 314.4 161.9 314.3 160.7 314 159.9 313.6 157.4 313.7 156.9 312.9 155.7 312.8 155.2 312.4 154.4 312.4 153.9 312.1 153.4 312.1 150.4 312.4 149.9 312.4 149.4 312.8 148.7 312.8 148.2 313 147.9 312.6 146.7 312.8 145.9 312.5 143.7 312.7 143.2 312.5 140.6 312.5 135.9 312.2 135.7 312.2 135.2 312.2 134.4 312.4 134.2 312.4 132.4 312.7 132.2 312.7 131.2 312.9 130.9 312.9 130.7 313.2 130.4 313.4 129.7 314.2 128.8 314.5 128.8 315 128.3 315.5 128.3 315.8 128.1 316.5 128.1 316.7 127.9ZM317.5 144.5 317.3 144.9 317.8 144.9 317.9 144.9 317.8 144.5 317.5 144.5Z" fill="#c8c8c8" fill-rule="evenodd" stroke="#141414" stroke-width="0.42"/><path d="M316.6 128.4 317 128.2 318.2 128.2 318.6 128.4 319.2 128.4 321 129.3 321.5 129.9 322 130.9 322.1 131.4 322.2 131.7 322.2 132.5 322.5 132.9 322.4 139.4 322.2 142.7 322.4 143.4 322.3 144.4 322.4 144.9 322 146.7 322.2 147.2 322.6 147.7 323 148.7 323.1 149.2 323.6 150.2 323.6 153.7 323.1 154.7 323 155.2 322.2 156.7 322.8 157.6 323.2 159.9 323.3 160.9 323.1 161.7 323.1 163.9 323 164.2 322.9 165.2 322.7 165.4 322.7 165.9 322 167.2 322 167.7 321.3 168.7 320.5 169.1 319.2 169.1 318.8 169.4 318 168.9 317.5 168.4 316.3 166.2 316.3 165.7 315.6 164.4 315.6 163.9 315.2 163.2 315.2 162.7 314.8 161.9 314.2 158.9 314.5 157.9 314.1 157.2 313 155.7 312.9 155.2 312.5 154.4 312.5 153.9 312.2 153.4 312.2 150.4 312.5 149.9 312.5 149.4 312.9 148.7 312.9 148.2 313.3 147.7 313.5 147.2 313.2 146.7 313.3 146.2 312.8 143.9 313 143.2 312.8 140.4 312.8 135.9 312.5 135.2 312.5 134.7 312.8 134.2 312.8 132.7 313 132.2 313 131.4 313.9 129.7 315.2 128.7 315.8 128.6 316 128.4 316.6 128.4ZM317.2 143.6 316.8 144.9 318.2 144.9 318.5 144.9 318 143.7 317.8 143.5 317.2 143.6Z" fill="#b8b8b8" fill-rule="evenodd" stroke="#141414" stroke-width="0.42"/><path d="M317.2 128.7 318 128.6 318.5 128.8 319 128.8 320.8 129.7 321 130 321.6 131.2 321.8 131.9 321.8 132.7 322.1 133.2 322 139.4 321.8 143.9 321.2 144.6 320.8 144.6 319 144 318.5 143.4 317.8 143 317.5 143 316.7 143.4 316.2 144.1 314.8 144.9 314.2 145.1 313.8 144.8 313.4 143.9 313.5 143.4 313.3 140.4 313.2 135.9 312.9 135.2 313.2 134.4 313.2 132.9 313.4 132.4 313.4 131.7 314.2 130 315.3 129.2 317.2 128.7ZM316.6 145.2 316.8 145 319 145 319.2 145.2 319.8 145.2 320.2 145.5 320.7 145.9 321.2 146.2 321.8 146.7 322 147.2 322.4 147.7 322.9 148.7 323 149.2 323.4 150.2 323.4 153.7 323 154.7 322.9 155.2 321.9 156.9 321.2 157.7 319.8 158.6 319.2 158.7 319 158.8 316.8 158.8 316.5 158.6 316 158.6 315.5 158.3 314.8 157.7 314.5 157.6 313.1 155.7 313 155.2 312.6 154.4 312.5 153.7 312.3 153.4 312.3 150.4 312.5 150.2 312.6 149.4 313 148.7 313.1 148.2 314.5 146.2 314.8 146.2 315.5 145.5 316 145.2 316.6 145.2ZM321.5 158.7 322 158.6 322.2 158.8 322.5 159.4 322.8 160.9 322.6 161.4 322.7 162.9 322.4 164.4 322.4 164.9 321.5 167.5 321 168.3 320.8 168.5 320.2 168.7 319.2 168.7 318.8 168.9 318.2 168.6 317.8 168.1 317.6 167.7 316.8 166 315.6 162.9 315.3 161.7 315.2 160.9 315.3 159.9 315.5 159.7 315.8 159.6 317.8 159.8 319 159.7 320 159.4 321.5 158.7Z" fill="#a8a8a8" fill-rule="evenodd" stroke="#141414" stroke-width="0.42"/><path d="M317.2 129.4 317.8 129.3 319 129.5 320.3 130.2 320.9 131.2 321.5 133.4 321.5 137.9 321.2 140.4 321 141.5 320.8 141.9 320.5 142.1 319.8 142.3 319 142.9 318.5 142.9 318.2 142.7 318.1 141.9 318 138.4 317.8 136.7 317.8 136.4 317.5 136.3 317.3 137.2 317.2 141.9 317 142.6 316.8 142.9 316.2 142.9 315.2 142.4 314.8 142.3 314.5 142.2 314.2 141.8 314 140.9 313.7 138.4 313.7 135.7 313.6 134.9 313.8 134.4 313.8 133.2 314.1 131.7 314.9 130.2 315.8 129.7 317.2 129.4ZM317 145.2 319 145.1 320.2 145.6 321 146.2 321.8 146.9 322.3 147.7 322.8 148.7 322.9 149.2 323.3 150.2 323.3 153.7 322.9 154.7 322.8 155.2 322.3 156.2 321.8 156.9 321 157.7 319.8 158.4 319 158.7 316.8 158.7 315.5 158.2 315 157.7 314.5 157.4 314.2 156.9 313.8 156.4 313.2 155.7 313.1 155.2 312.7 154.4 312.6 153.7 312.5 153.4 312.4 150.7 312.6 150.2 312.7 149.4 313.1 148.7 313.2 148.2 313.8 147.4 314.2 146.9 314.5 146.4 315 146.2 315.5 145.6 316 145.4 317 145.2ZM320.5 161.4 321 161.3 321.5 161.5 321.8 161.9 321.9 162.7 321.6 165.2 321.1 166.7 320.5 167.9 320 168.1 318.8 168.2 318.4 167.9 317.5 166.2 316.9 164.4 316.6 162.7 316.8 162.4 317.2 162 319 161.8 320.5 161.4Z" fill="#989898" fill-rule="evenodd" stroke="#141414" stroke-width="0.42"/><path d="M316.7 130.2 317.8 129.9 318.5 130.1 319.6 131.2 320.6 133.2 320.9 134.9 321.1 135.4 321.1 137.9 320.9 138.4 320.8 139.4 320.1 140.9 319.6 141.7 319 142.1 318.8 142.1 318.5 141.5 318.2 136.4 317.9 134.4 317.8 133.9 317.5 133.8 317.2 134.7 316.9 136.9 316.8 141.2 316.5 142.1 316.2 142.2 316 142.1 315.2 141.2 314.8 140.4 314.2 138.4 314.1 135.4 314.4 134.7 314.4 133.9 315.3 131.7 315.9 130.7 316.7 130.2ZM316.6 145.4 317 145.3 318.8 145.2 319.8 145.5 321 146.3 321.6 146.9 322.1 147.7 322.6 148.7 323.2 150.4 323.2 153.4 322.6 155.2 322.1 156.2 321.6 156.9 321 157.5 319.8 158.3 319.2 158.4 318.8 158.6 317 158.6 315.5 158 314.5 157.2 313.4 155.7 313.3 155.2 312.9 154.4 312.8 153.7 312.6 153.2 312.6 150.7 312.8 150.2 312.9 149.4 313.3 148.7 313.4 148.2 314.5 146.7 315.5 145.8 316.6 145.4ZM317.8 150.6 317.5 150.7 317.1 151.2 317 151.7 317 152.2 317.4 152.9 318 153.1 318.4 152.9 318.6 152.7 318.8 152.2 318.8 151.7 318.5 150.9 318.1 150.7 317.8 150.6Z" fill="#7c7c7c" fill-rule="evenodd" stroke="#141414" stroke-width="0.42"/><path d="M316.2 133.2 316.2 133 316.3 133.7 316.2 135.7 316 137.5 315.8 137.9 315.5 137.2 315.4 135.7 315.8 133.8 316 133.2 316.2 133.2ZM319 133.2 319.3 133.4 319.6 134.4 319.8 135.9 319.7 137.2 319.5 137.6 319.2 137.6 319.2 137.4 319 135.7 319 133.2ZM318.7 145.4 320 145.9 320.9 146.4 321.5 147 322 147.8 323 150.4 323 153.4 322 156 321 157.3 320.1 157.9 318.8 158.4 317.2 158.4 315.8 158 314.8 157.2 313.5 155.5 312.7 153.2 312.7 150.7 313.5 148.3 314.8 146.6 315.1 146.4 315.6 145.9 316.2 145.6 317 145.5 317.8 145.5 318.7 145.4ZM317.8 148.6 317 148.9 316 149.9 315.6 150.9 315.5 152.2 315.8 153.4 316.2 154.2 317 154.8 318 155 319 154.7 319.8 153.9 320.2 152.9 320.3 151.7 320.1 150.7 319.6 149.7 318.8 149 317.8 148.6Z" fill="#626262" fill-rule="evenodd" stroke="#141414" stroke-width="0.42"/><path d="M318.7 145.7 319 145.8 319.5 145.9 320.8 146.6 321.3 147.2 321.5 147.7 321.8 147.9 322.3 148.9 322.3 149.4 322.8 150.4 322.8 153.4 322.3 154.4 322.3 154.9 321.8 155.9 321.5 156.2 321.3 156.7 320.8 157.2 320.2 157.4 320 157.7 318.8 158.2 317 158.2 315.8 157.7 314.9 156.9 313.7 155.4 313.7 154.9 313.2 154.2 313.2 153.7 313 153.2 313 150.7 313.2 150.2 313.2 149.7 313.7 148.9 313.7 148.4 314.9 146.9 315.8 146.1 316.2 145.9 317 145.8 317.8 145.9 318.7 145.7ZM317.5 146.9 315.8 148.2 315 149.2 314.4 150.7 314.3 152.4 314.7 154.2 315.2 154.9 315.8 155.6 317 156.3 317.8 156.5 318.5 156.4 319.8 155.8 320.8 154.7 321.4 153.2 321.5 151.4 321.1 149.7 320.2 148.4 319.2 147.6 317.8 146.9 317.5 146.9Z" fill="#4c4c4c" fill-rule="evenodd" stroke="#141414" stroke-width="0.42"/><ellipse cx="317.90" cy="151.90" rx="2.562" ry="3.75" fill="#808080"/><ellipse cx="317.90" cy="151.90" rx="0.8" ry="1.1" fill="#efefef"/><path d="M398.8 128.2 399 127.9 401.2 127.9 401.5 128.2 402.2 128.2 403 128.7 403.2 128.7 403.5 128.9 403.8 128.9 404.5 129.7 404.5 129.9 405 130.4 405 130.7 405.2 130.9 405.2 131.7 405.5 131.9 405.5 132.9 405.7 133.2 405.7 137.9 405.5 138.2 405.4 140.7 405.7 140.9 405.6 143.2 405.9 143.4 405.7 145.2 405.9 145.7 405.7 146.9 405.9 147.4 405.7 149.2 405.9 149.7 405.8 150.2 406 150.9 406.2 151.4 406.2 152.2 406.5 152.7 406.5 154.7 406.2 155.2 406.2 156.4 406 156.5 405.9 157.2 405.5 157.9 405.6 158.4 405.5 158.9 405.5 159.7 405.3 159.9 405.4 160.4 405.2 160.7 405.2 161.2 405 161.7 405.2 163.2 405 163.4 405 163.9 404.8 164.2 404.8 164.7 404.4 165.2 404.4 165.4 403.6 166.2 403.6 166.4 403 167.1 402.8 167.1 402.5 167.3 402.2 167.3 402 167.6 401.8 167.6 399.2 167.6 399 167.3 398.8 167.3 397.4 165.9 397.4 165.7 396.9 165.2 397 164.9 396.7 164.7 396.7 164.4 396.5 164.2 396.5 163.8 396 162.4 396 161.9 395.6 161.2 395.7 160.7 395.3 159.9 395.2 158.7 394.8 157.5 394.6 157.4 394.5 156.9 394.3 156.4 394.3 155.9 394 155.4 394 151.9 394.3 151.4 394.3 150.7 394.5 150.4 394.7 149.7 394.6 149.2 394.8 148.7 394.5 146.9 394.7 146.4 394.5 144.9 394.7 144.7 394.6 142.7 394.9 142.4 394.8 135.4 394.5 135.2 394.5 134.4 394.8 134.2 394.8 132.4 395 132.2 395 131.4 395.3 131.2 395.3 130.7 395.5 130.4 395.5 130.2 397 128.7 397.2 128.7 397.5 128.4 398 128.4 398.2 128.2 398.8 128.2Z" fill="#d8d8d8" fill-rule="evenodd" stroke="#141414" stroke-width="0.42"/><path d="M399 128.2 401.2 128.1 401.5 128.3 402.2 128.3 403 128.8 403.2 128.8 403.5 129.1 403.8 129.1 404.3 129.7 404.3 129.9 404.8 130.4 404.8 130.7 405.1 130.9 405.1 131.7 405.3 131.9 405.3 132.9 405.6 133.2 405.5 137.9 405.3 138.2 405.2 140.7 405.5 140.9 405.4 143.2 405.6 143.7 405.4 145.2 405.6 145.7 405.4 147.2 405.6 147.7 405.2 149.2 405.7 149.9 405.7 150.4 406.1 151.4 406.1 152.2 406.4 152.7 406.4 154.7 406.1 155.2 406.1 156.2 405.1 158.7 405.2 159.4 404.7 161.4 404.9 162.9 404.7 163.2 404.5 164.4 403.9 165.4 403.5 165.9 403.3 166.4 403 166.7 402 167.3 399.5 167.3 398.8 166.9 397.8 165.9 397.2 164.9 396.3 162.4 396.3 161.9 395.7 159.7 395.7 159.2 395.3 158.7 394.6 157.2 394.6 156.9 394.4 156.4 394.4 155.9 394.1 155.4 394.1 151.9 394.4 151.4 394.4 150.9 395 149.4 395 149.2 395.2 148.7 394.8 147.2 395 146.4 394.8 145.2 395 144.7 394.9 142.9 395.1 142.4 395 135.4 394.7 135.2 394.7 134.4 394.9 134.2 394.9 132.4 395.2 132.2 395.2 131.4 395.4 131.2 395.4 130.7 395.7 130.4 395.7 130.2 397 128.8 397.2 128.8 397.5 128.6 398 128.6 398.2 128.3 398.8 128.3 399 128.2ZM400 145.2 399.9 145.7 400.2 145.7 400.4 145.7 400.2 145.3 400 145.2Z" fill="#c8c8c8" fill-rule="evenodd" stroke="#141414" stroke-width="0.42"/><path d="M398.8 128.7 399.2 128.4 401 128.4 401.4 128.7 402 128.7 403.8 129.6 404.7 131.2 404.8 131.7 405 132.2 405 132.9 405.2 133.4 405.2 137.7 405 138.2 404.9 140.7 405.1 141.2 405 143.2 405.2 143.9 405.1 145.4 405.2 145.9 404.9 147.2 405.1 147.7 404.8 148.2 405.6 149.9 405.6 150.4 406.1 151.4 406 152.2 406.3 152.7 406.3 154.7 406 155.2 406.1 156.2 405.9 156.4 405.8 156.9 404.3 159.9 404.4 160.9 404.2 161.9 404.4 162.7 404.1 164.4 402.8 166.4 401.8 167 401.2 167 399.5 167 398.9 166.7 398 165.7 397.6 164.9 396.7 162.2 396.5 160.9 396.8 160.4 396.1 159.7 395.9 159.2 395.4 158.7 394.7 157.2 394.6 156.7 394.5 156.4 394.5 155.9 394.2 155.4 394.2 151.9 394.5 151.4 394.4 150.9 394.6 150.7 394.7 150.2 395.4 148.7 395.8 148.2 395.3 147.2 395.4 146.7 395.2 145.4 395.4 144.7 395.2 143.2 395.4 142.4 395.3 135.4 395 134.7 395.3 134.2 395.3 132.7 395.5 132.2 395.5 131.7 395.7 131.4 395.8 130.9 396.2 130.2 397.2 129.2 398.5 128.7 398.8 128.7ZM399.8 143.4 399.5 144.9 399.3 145.7 400.5 145.7 400.9 145.7 400.7 144.9 400.5 143.5 400 143.2 399.8 143.4Z" fill="#b8b8b8" fill-rule="evenodd" stroke="#141414" stroke-width="0.42"/><path d="M399.4 128.9 400.8 128.9 401.2 129.1 401.8 129.1 403.4 129.9 404.3 131.4 404.3 131.9 404.6 132.4 404.6 133.2 404.8 133.7 404.8 137.4 404.5 138.2 404.5 140.7 404.7 141.4 404.5 143.4 404.7 143.9 404.2 145.6 404 145.9 403.8 145.9 401.5 144.9 401.2 144.4 400.9 143.4 400.4 142.9 400.2 142.6 400 142.4 399.8 142.9 399.3 143.4 399.1 144.4 398.8 144.9 396.5 145.9 396 145.7 395.7 143.2 395.9 142.4 395.7 135.4 395.5 134.7 395.7 134.2 395.7 132.9 395.9 132.4 395.9 131.9 396.5 130.5 397.2 129.7 399.4 128.9ZM399.4 145.9 399.5 145.8 400.8 145.8 401 146 401.8 146 403.2 146.9 404.7 148.4 405.4 149.9 405.5 150.4 405.9 151.4 406 152.4 406.2 152.7 406.2 154.7 405.9 155.2 405.9 156.2 405.7 156.4 405.7 156.9 404.7 158.9 403.7 160.2 403.2 160.4 402.5 161.1 402 161.3 401.5 161.4 401.2 161.6 399.2 161.6 399 161.4 398.5 161.3 397.3 160.7 396.2 159.6 396 159.1 395.6 158.7 394.8 157.2 394.8 156.7 394.6 156.4 394.5 155.7 394.3 155.4 394.3 151.9 394.5 151.7 394.6 150.9 394.8 150.7 394.8 150.2 395.6 148.7 396.2 147.9 396.3 147.7 396.8 147.2 398.8 146 399.4 145.9ZM402.7 162.2 403 162.2 403.2 162.4 403.4 162.9 403.4 163.9 403.2 164.7 402.6 165.9 401.5 166.5 399.8 166.5 399.1 166.2 398.5 165.4 398 164.4 397.8 163.4 397.9 162.7 398.2 162.4 400.8 162.6 402.7 162.2Z" fill="#a8a8a8" fill-rule="evenodd" stroke="#141414" stroke-width="0.42"/><path d="M399.1 129.7 399.8 129.5 400.8 129.5 401.8 129.7 403 130.3 403.7 131.4 404.2 133.9 404.3 137.4 404.1 137.9 403.9 139.4 403.8 140.9 403.9 141.7 403.5 142.6 403 142.9 402 142.8 401.5 143 401 142.9 400.8 142.7 400.6 141.9 400.5 138.7 400.2 137.3 400 137.2 399.8 138.5 399.6 142.2 399.2 142.9 399 142.9 398.5 142.7 397.2 142.8 396.8 142.1 396.5 141 396.2 138.2 396.2 134.7 396.3 132.9 397 130.8 397.8 130.1 399.1 129.7ZM398.7 146.2 399.5 145.9 400.8 145.9 401 146.1 401.8 146.1 403 146.9 404.5 148.4 405.3 149.9 405.4 150.4 405.8 151.4 405.9 152.4 406 152.7 406.1 154.4 405.9 154.9 405.8 156.2 405.6 156.4 405.5 156.9 404 159.7 402.5 160.9 401.8 161.2 401 161.5 399.5 161.5 398.5 161.2 397.5 160.7 396.2 159.4 395.7 158.7 395 157.2 394.9 156.7 394.7 156.4 394.6 155.7 394.5 155.4 394.4 152.2 395 150.2 395.7 148.7 396.2 148.1 396.5 147.6 397.8 146.6 398.7 146.2Z" fill="#989898" fill-rule="evenodd" stroke="#141414" stroke-width="0.42"/><path d="M399.7 130.2 400.5 130.1 401.2 130.4 402.3 131.4 403.1 132.9 403.6 134.4 403.6 135.4 403.8 135.9 403.8 137.4 403.6 137.9 403.5 138.9 403.3 139.9 402.5 141.4 401.8 142.2 401.5 142.3 401.2 142.3 401 141.7 400.8 137.9 400.5 135.6 400.2 134.9 400 134.8 399.8 135.4 399.4 137.7 399.2 141.2 399 142.1 398.8 142.1 398.3 141.9 397.8 141 397 139.4 396.9 138.7 396.7 138.2 396.7 135.2 397.4 132.7 398.4 130.9 399 130.4 399.7 130.2ZM399.4 146.2 400.5 146.1 401.8 146.3 403 147 404.4 148.4 405.1 149.9 405.7 151.7 405.7 152.4 405.9 152.9 405.9 154.4 405.7 155.2 405.7 155.9 405.4 156.9 404.4 158.9 403.5 160 403 160.3 402.5 160.8 401.2 161.3 399.5 161.3 397.5 160.5 396.4 159.4 395.9 158.7 395.1 157.2 394.6 155.2 394.6 152.2 395.1 150.2 395.9 148.7 396.4 148.2 396.6 147.7 397 147.3 398.8 146.3 399.4 146.2ZM400 152.3 399.8 152.4 399.4 152.9 399.2 153.9 399.5 154.7 399.8 154.9 400.2 155.1 400.7 154.9 400.9 154.7 401.1 154.2 401.2 153.7 401 152.9 400.8 152.5 400.5 152.4 400 152.3Z" fill="#7c7c7c" fill-rule="evenodd" stroke="#141414" stroke-width="0.42"/><path d="M401.3 132.7 401.5 132.6 401.8 133.2 402.4 134.9 402.6 136.7 402.2 137.7 402 138 401.8 137.9 401.5 136.7 401.2 133.4 401.3 132.7ZM398.7 133.2 398.8 133 398.8 133.2 398.8 135.8 398.5 137.6 398.2 137.8 398 137.1 397.9 135.7 398.2 134.1 398.7 133.2ZM399 146.4 399.8 146.2 401.5 146.4 403 147.3 404.2 148.5 405 150.2 405.5 151.7 405.5 152.4 405.8 152.9 405.8 154.4 405.5 154.9 405.5 155.9 404.2 158.8 403.4 159.9 403 160.1 402.4 160.7 401.5 161 401 161.2 399.5 161.2 397.5 160.3 396.6 159.4 396 158.5 395.2 157 395 156.2 395 155.7 394.7 155.2 394.7 152.2 395.4 149.9 396 148.8 396.5 148.3 397 147.5 397.9 146.9 399 146.4ZM399.8 150.1 398.8 150.8 398.1 151.7 397.7 152.9 397.7 154.2 398 155.4 398.6 156.4 399.5 157 400.5 157.2 401.5 156.7 402.2 155.8 402.7 154.4 402.7 153.2 402.4 151.9 401.8 150.9 400.5 150.1 399.8 150.1Z" fill="#626262" fill-rule="evenodd" stroke="#141414" stroke-width="0.42"/><path d="M399 146.7 401.5 146.6 402.8 147.4 404 148.7 404.8 150.2 404.8 150.7 405.3 151.7 405.3 152.4 405.5 152.9 405.5 154.4 405.3 154.9 405.3 155.9 404 158.7 403.2 159.7 402.8 159.9 402.2 160.4 401.5 160.7 401 160.9 399.5 160.9 397.8 160.2 396.8 159.2 396.2 158.4 395.5 156.9 395.4 156.4 395.2 156.2 395.2 155.7 395 155.2 395 152.2 395.2 151.7 395.2 151.2 395.4 150.9 395.5 150.4 396.2 148.9 396.7 148.4 397 147.8 398 147.1 399 146.7ZM399.8 148.3 398 149.5 397.2 150.7 396.6 152.2 396.4 154.2 396.6 155.2 396.9 156.2 397.8 157.6 398.3 158.2 399 158.6 399.8 158.8 400.5 158.8 401.2 158.6 402 158.2 402.6 157.7 403.2 156.9 403.8 155.2 404 153.2 403.6 151.4 402.7 149.9 402 149.2 400.5 148.3 400 148.2 399.8 148.3Z" fill="#4c4c4c" fill-rule="evenodd" stroke="#141414" stroke-width="0.42"/><ellipse cx="400.20" cy="153.70" rx="2.688" ry="4.2" fill="#808080"/><ellipse cx="400.20" cy="153.70" rx="0.8" ry="1.1" fill="#efefef"/><path d="M480.5 128.7 480.8 128.4 483.2 128.4 483.5 128.7 484 128.7 484.8 129.2 485 129.2 485.5 129.7 485.8 129.7 486 129.9 486 130.2 486.5 130.7 486.7 131.4 487 131.7 487 132.4 487.2 132.7 487.2 135.4 487 135.7 486.8 139.2 487.1 139.4 487 140.4 487.2 140.7 487.1 141.4 487.4 141.9 487.3 142.7 487.5 142.9 487.4 143.7 487.6 143.9 487.6 144.4 487.7 144.7 487.7 145.4 487.9 145.9 487.8 146.4 488.2 147.5 488.4 147.7 488.5 148.3 488.7 148.4 488.7 149.4 489 149.9 489 151.2 489.2 151.7 489.2 153.2 489 153.7 489 154.9 488.7 155.4 488.7 156.2 488.5 156.7 488.3 157.4 488.5 158.2 488.2 158.7 488.3 159.7 488.1 160.2 488.2 160.9 488.1 161.2 488.1 161.9 487.9 162.4 488 163.7 487.8 163.9 487.8 164.7 487.6 164.9 487.6 165.2 487.3 165.4 487.3 165.7 486.9 166.2 485.5 167.5 485.2 167.5 485 167.8 484.8 167.8 484.5 168 482.5 168 482.2 167.8 481.8 167.8 481.2 167.2 480.9 167.2 480.9 166.9 480.2 166.2 480.2 165.9 480 165.7 480 165.4 479.8 165.2 479.8 164.7 479.2 163.7 479.2 163.2 478.4 161.4 478.4 160.9 478.1 160.2 477.9 158.9 477.5 157.7 477.2 157 477.1 156.9 477 156.2 476.8 155.7 476.8 154.9 476.5 154.4 476.5 150.4 476.8 149.9 476.8 149.2 477 148.7 477.2 147.7 476.9 146.2 477.1 145.4 476.8 142.9 476.8 142.7 477 142.4 476.9 139.4 477.1 139.2 477.1 137.4 476.8 137.2 476.8 132.7 477 132.4 477 131.7 477.3 131.4 477.5 130.7 478 130.2 478 129.9 478.2 129.7 478.5 129.7 479 129.2 479.2 129.2 480 128.7 480.5 128.7Z" fill="#d8d8d8" fill-rule="evenodd" stroke="#141414" stroke-width="0.42"/><path d="M480.7 128.7 483.2 128.6 483.5 128.9 484 128.9 484.8 129.4 485 129.4 485.5 129.9 485.8 129.9 485.8 130.2 486.3 130.7 486.5 131.4 486.8 131.7 486.8 132.4 487 132.7 487 135.4 486.8 135.7 486.6 139.2 486.8 139.7 486.7 140.4 486.9 140.9 486.9 141.7 487 141.9 487 142.7 487.1 143.2 487.1 143.7 487.4 144.9 487.3 145.7 488.6 148.7 488.6 149.4 488.9 149.9 488.9 151.2 489.2 151.7 489.2 153.2 488.9 153.7 488.9 154.9 488.6 155.4 488.6 156.2 488 157.7 488.1 158.2 487.9 158.7 488 159.4 487.8 159.9 487.9 160.7 487.7 161.2 487.7 161.9 487.6 162.2 487.6 163.4 487.5 163.7 487.5 164.4 486.9 165.7 485.5 167.2 484.2 167.8 482.8 167.8 482.2 167.5 482 167.5 481.2 166.9 481.1 166.7 480.5 165.9 480.1 164.7 479.7 164.2 479.5 163.7 479.5 163.2 478.4 159.9 478.3 158.9 477.8 158.4 477.6 157.9 477.5 157.4 477.1 156.7 477.1 156.2 476.9 155.7 476.9 154.9 476.6 154.4 476.6 150.4 476.9 149.9 476.9 149.2 477.1 148.7 477.1 148.2 477.5 147.4 477.3 146.2 477.5 145.4 477.1 143.2 477.3 142.4 477.1 139.7 477.3 139.2 477.3 137.4 477 137.2 477 132.7 477.2 132.4 477.2 131.7 477.5 131.4 477.7 130.7 478.2 130.2 478.2 129.9 478.5 129.9 479 129.4 479.2 129.4 480 128.8 480.5 128.9 480.7 128.7Z" fill="#c8c8c8" fill-rule="evenodd" stroke="#141414" stroke-width="0.42"/><path d="M480.6 129.2 481 128.9 483 128.9 483.2 129.1 483.8 129.2 485.4 130.2 486 130.9 486.5 131.9 486.5 132.5 486.7 132.9 486.7 134.9 486.4 135.7 486.2 139.2 486.4 139.9 486.4 140.7 486.5 141.2 486.5 141.7 486.7 142.2 486.6 142.7 486.7 143.2 486.5 144.7 487.1 145.4 488.3 147.9 488.4 148.4 488.6 148.7 488.5 149.4 488.8 149.9 488.8 151.2 489.1 151.7 489.1 153.2 488.8 153.7 488.8 154.9 488.5 155.4 488.6 156.2 487.4 158.7 487.1 159.7 487.5 160.7 487.3 161.2 487.4 161.7 487.2 162.2 487.3 162.7 487 163.7 487.1 164.2 486.6 165.4 485.2 166.9 484.8 167.2 484 167.5 482.8 167.4 482 167.1 480.9 165.9 479.8 163.4 479.8 162.9 479.3 161.2 479.5 160.7 478.9 159.9 478.8 159.7 477.7 157.9 477.6 157.4 477.2 156.7 477.2 156.2 476.9 155.7 477 154.9 476.7 154.4 476.7 150.4 477 149.9 476.9 149.2 477.2 148.7 477.2 148.2 477.6 147.4 477.8 146.4 478.3 145.9 477.8 144.6 477.5 143.2 477.7 142.4 477.5 139.9 477.7 139.2 477.6 137.4 477.3 136.7 477.3 132.9 477.5 132.5 477.5 131.9 478.5 130.2 479.2 129.7 480.2 129.2 480.6 129.2Z" fill="#b8b8b8" fill-rule="evenodd" stroke="#141414" stroke-width="0.42"/><path d="M481.2 129.4 482.8 129.4 484.7 130.2 485.5 131 486.1 132.2 486.1 132.7 486.3 133.2 486.3 134.9 486.1 135.4 485.8 139.2 485.9 139.9 485.8 141.4 485.6 141.9 485.5 142.1 485 142.2 483 141.8 482 141.3 481.7 141.4 480.8 142.3 479 143.4 478.5 143.4 478 140.7 477.9 139.9 478.1 139.2 478 137.4 477.7 136.7 477.7 133.2 478.2 131.7 478.5 131 479.3 130.2 481.2 129.4ZM481.5 143.2 481.8 143 483.5 143 484.5 143.2 485.2 143.7 486.8 145.2 488.2 147.9 488.2 148.4 488.4 148.7 488.4 149.4 488.7 149.9 488.7 151.2 488.9 151.7 488.9 153.2 488.7 153.7 488.7 154.9 488.5 155.2 488.4 156.2 488.2 156.4 488.2 156.9 486.8 159.6 485 161.3 484.5 161.6 484 161.6 483.8 161.8 481.8 161.8 480.2 161.1 479.2 160.1 477.8 157.9 477.8 157.4 477.3 156.7 477.3 155.9 477.1 155.7 477.1 154.9 476.8 154.4 476.8 150.4 477.1 149.9 477.1 149.2 477.3 148.9 477.3 148.2 477.8 147.4 477.8 146.9 479.2 144.7 480.2 143.7 481.5 143.2ZM485.1 162.4 486 162.2 486.3 162.4 486.3 164.2 485.8 165.7 485 166.5 484 167 483 167 482.2 166.7 481.3 165.4 480.8 163.7 480.8 163.2 481.2 162.9 483.5 162.9 485.1 162.4Z" fill="#a8a8a8" fill-rule="evenodd" stroke="#141414" stroke-width="0.42"/><path d="M481 130.2 482.2 129.9 483.5 130.3 484.3 130.7 485 131.4 485.4 132.2 485.7 133.4 485.7 136.4 485.5 136.9 485.4 137.7 485.1 138.4 484.2 139.9 483.5 140.4 483 140.7 482.5 140.8 481 140.7 480.5 140.5 479.6 139.9 478.8 138.4 478.6 137.7 478.5 136.9 478.3 136.4 478.3 133.4 478.7 131.9 479 131.3 479.7 130.7 480.5 130.3 481 130.2ZM482 134.1 481.8 134.2 481.5 135.7 481.5 137 481.8 138.2 482 138.3 482.3 136.9 482.3 135.2 482 134.1ZM481.7 143.2 483.5 143.1 484.5 143.4 485 143.7 486.8 145.4 488 147.9 488.1 148.4 488.3 148.7 488.4 149.7 488.6 150.2 488.6 151.2 488.8 151.9 488.8 152.9 488.6 153.7 488.6 154.7 488.4 155.2 488.3 156.2 488.1 156.4 488 156.9 486.8 159.4 485 161.2 484.5 161.4 484 161.5 483.5 161.7 481.8 161.7 480.2 160.9 479.2 159.9 478.2 158.4 478 157.9 477.9 157.4 477.5 156.7 477.4 155.9 477.2 155.7 477.1 154.7 476.9 154.2 476.9 150.7 477.1 150.2 477.2 149.2 477.4 148.9 477.5 148.2 477.9 147.4 478 146.9 479.2 144.9 480.2 143.9 481.7 143.2Z" fill="#989898" fill-rule="evenodd" stroke="#141414" stroke-width="0.42"/><path d="M481.3 130.7 482 130.4 483 130.7 483.8 131.2 484.6 132.4 485.3 134.9 485.3 136.2 484.9 137.7 484.5 138.5 483.8 139.5 483.2 139.8 483 139.8 482.8 139.7 482.7 139.4 482.6 135.2 482.2 133 482 132.6 481.8 132.7 481.3 133.9 481.1 136.2 481.2 139.2 481 139.8 480.8 139.9 480.2 139.6 479.5 138.6 479.1 137.7 478.7 136.2 478.7 134.9 478.9 133.9 479.4 132.4 479.7 131.9 480.3 131.2 481.3 130.7ZM481.5 143.4 482 143.2 483.5 143.2 484.5 143.5 485 143.8 486.6 145.4 487.9 147.9 488.1 148.7 488.2 149.7 488.4 150.2 488.4 151.2 488.7 151.9 488.7 152.9 488.4 153.7 488.4 154.7 488.2 155.2 488.2 155.9 487.9 156.9 486.6 159.4 485 161 484 161.4 483.5 161.6 481.8 161.5 480.2 160.8 479.4 159.9 478.1 157.9 478 157.4 477.6 156.7 477.5 155.9 477.3 155.4 477.3 154.7 477.1 154.2 477.1 150.7 477.3 150.2 477.3 149.4 477.5 148.9 477.6 148.2 478 147.4 478.1 146.9 479.4 144.9 480.2 144 481.5 143.4ZM482.5 150.9 482.2 151.2 481.9 151.7 481.8 152.9 482 153.4 482.4 153.9 482.8 154 483.2 153.9 483.5 153.6 483.7 153.2 483.8 151.9 483.5 151.2 483.2 151 483 150.8 482.5 150.9Z" fill="#7c7c7c" fill-rule="evenodd" stroke="#141414" stroke-width="0.42"/><path d="M481.9 143.4 483.5 143.4 484.8 143.8 486.5 145.5 487.8 148.1 488 148.9 488 149.7 488.3 150.2 488.3 151.4 488.5 151.9 488.5 152.9 488.3 153.4 488.3 154.7 488 155.2 488 155.9 487.8 156.7 486.5 159.3 484.9 160.9 483.8 161.3 483.5 161.4 482 161.4 480.4 160.7 479.6 159.9 478.2 157.7 477.7 156.4 477.7 155.9 477.5 155.4 477.5 154.7 477.2 154.2 477.2 150.7 477.5 150.2 477.5 149.4 477.7 148.9 477.7 148.4 478.2 147.1 479.5 145 480.2 144.2 481.9 143.4ZM482.2 148.4 481.8 148.6 481.2 149.1 480.6 150.2 480.2 151.7 480.2 153.2 480.6 154.7 481.2 155.7 481.8 156.2 482.2 156.4 483.2 156.5 483.8 156.3 484.2 155.8 485 154.7 485.4 153.2 485.4 151.7 485 150.2 484.2 149 483.8 148.5 483.2 148.3 482.2 148.4Z" fill="#626262" fill-rule="evenodd" stroke="#141414" stroke-width="0.42"/><path d="M481.9 143.7 483.5 143.6 484.2 143.8 484.8 144.2 486.3 145.7 487.5 148.2 487.8 148.9 487.8 149.7 488 150.2 488 151.4 488.3 151.9 488.3 152.9 488 153.4 488 154.7 487.8 155.2 487.8 155.9 487.5 156.7 486.3 159.2 484.8 160.7 483.8 161.1 483.5 161.2 482 161.2 480.5 160.5 479.8 159.7 478.5 157.7 478.4 157.2 478 156.4 478 155.9 477.7 155.4 477.7 154.7 477.5 154.2 477.5 150.7 477.7 150.2 477.7 149.4 478 148.9 478 148.4 478.4 147.7 478.5 147.2 479.8 145.1 480.5 144.3 481.9 143.7ZM482.2 146.4 481.5 146.7 480.8 147.2 480.2 147.8 479.8 148.7 479.1 150.7 479 151.9 479 153.2 479.5 155.4 479.9 156.4 480.5 157.3 481 157.8 481.8 158.3 482.5 158.5 483.2 158.5 484 158.2 484.8 157.7 485.4 156.9 485.8 156.2 486.2 155.2 486.5 153.9 486.6 151.7 486.1 149.4 485.2 147.7 484.5 146.9 483.8 146.5 483 146.3 482.2 146.4Z" fill="#4c4c4c" fill-rule="evenodd" stroke="#141414" stroke-width="0.42"/><ellipse cx="482.80" cy="152.40" rx="2.73" ry="5.0" fill="#808080"/><ellipse cx="482.80" cy="152.40" rx="0.8" ry="1.1" fill="#efefef"/></g>
<line x1="34" y1="65.20" x2="93.6" y2="65.20" stroke="#acacac" stroke-width="1.4"/>
<rect x="34" y="34.6" width="59.6" height="58.4" fill="none" stroke="#1a1a1a" stroke-width="1.1"/>
<text x="36.60" y="91.50" font-size="6.6" text-anchor="start" font-weight="normal" fill="#1a1a1a" stroke="#1a1a1a" stroke-width="0.12" >85.1%</text>
<line x1="116" y1="65.50" x2="175.6" y2="65.50" stroke="#8c8c8c" stroke-width="1.2"/>
<rect x="116" y="34.6" width="59.6" height="58.4" fill="none" stroke="#1a1a1a" stroke-width="1.1"/>
<text x="118.60" y="91.50" font-size="6.6" text-anchor="start" font-weight="normal" fill="#1a1a1a" stroke="#1a1a1a" stroke-width="0.12" >72.2%</text>
<line x1="198" y1="65.20" x2="257.6" y2="65.20" stroke="#acacac" stroke-width="1.4"/>
<rect x="198" y="34.6" width="59.6" height="58.4" fill="none" stroke="#1a1a1a" stroke-width="1.1"/>
<text x="200.60" y="91.50" font-size="6.6" text-anchor="start" font-weight="normal" fill="#1a1a1a" stroke="#1a1a1a" stroke-width="0.12" >8.33%</text>
<line x1="280" y1="65.20" x2="339.6" y2="65.20" stroke="#acacac" stroke-width="1.4"/>
<rect x="280" y="34.6" width="59.6" height="58.4" fill="none" stroke="#1a1a1a" stroke-width="1.1"/>
<text x="282.60" y="91.50" font-size="6.6" text-anchor="start" font-weight="normal" fill="#1a1a1a" stroke="#1a1a1a" stroke-width="0.12" >5.88%</text>
<line x1="362" y1="65.20" x2="421.6" y2="65.20" stroke="#acacac" stroke-width="1.4"/>
<rect x="362" y="34.6" width="59.6" height="58.4" fill="none" stroke="#1a1a1a" stroke-width="1.1"/>
<text x="364.60" y="91.50" font-size="6.6" text-anchor="start" font-weight="normal" fill="#1a1a1a" stroke="#1a1a1a" stroke-width="0.12" >3.23%</text>
<line x1="444" y1="65.20" x2="503.6" y2="65.20" stroke="#acacac" stroke-width="1.4"/>
<rect x="444" y="34.6" width="59.6" height="58.4" fill="none" stroke="#1a1a1a" stroke-width="1.1"/>
<text x="446.60" y="91.50" font-size="6.6" text-anchor="start" font-weight="normal" fill="#1a1a1a" stroke="#1a1a1a" stroke-width="0.12" >6.54%</text>
<line x1="34" y1="145.10" x2="93.6" y2="145.10" stroke="#acacac" stroke-width="1.4"/>
<rect x="34" y="112.9" width="59.6" height="58.4" fill="none" stroke="#1a1a1a" stroke-width="1.1"/>
<text x="36.60" y="169.80" font-size="6.6" text-anchor="start" font-weight="normal" fill="#1a1a1a" stroke="#1a1a1a" stroke-width="0.12" >98.9%</text>
<line x1="116" y1="145.10" x2="175.6" y2="145.10" stroke="#acacac" stroke-width="1.4"/>
<rect x="116" y="112.9" width="59.6" height="58.4" fill="none" stroke="#1a1a1a" stroke-width="1.1"/>
<text x="118.60" y="169.80" font-size="6.6" text-anchor="start" font-weight="normal" fill="#1a1a1a" stroke="#1a1a1a" stroke-width="0.12" >91.4%</text>
<line x1="198" y1="145.10" x2="257.6" y2="145.10" stroke="#acacac" stroke-width="1.4"/>
<rect x="198" y="112.9" width="59.6" height="58.4" fill="none" stroke="#1a1a1a" stroke-width="1.1"/>
<text x="200.60" y="169.80" font-size="6.6" text-anchor="start" font-weight="normal" fill="#1a1a1a" stroke="#1a1a1a" stroke-width="0.12" >42.2%</text>
<line x1="280" y1="145.10" x2="339.6" y2="145.10" stroke="#acacac" stroke-width="1.4"/>
<rect x="280" y="112.9" width="59.6" height="58.4" fill="none" stroke="#1a1a1a" stroke-width="1.1"/>
<text x="282.60" y="169.80" font-size="6.6" text-anchor="start" font-weight="normal" fill="#1a1a1a" stroke="#1a1a1a" stroke-width="0.12" >32.1%</text>
<line x1="362" y1="145.10" x2="421.6" y2="145.10" stroke="#acacac" stroke-width="1.4"/>
<rect x="362" y="112.9" width="59.6" height="58.4" fill="none" stroke="#1a1a1a" stroke-width="1.1"/>
<text x="364.60" y="169.80" font-size="6.6" text-anchor="start" font-weight="normal" fill="#1a1a1a" stroke="#1a1a1a" stroke-width="0.12" >30.7%</text>
<line x1="444" y1="145.10" x2="503.6" y2="145.10" stroke="#acacac" stroke-width="1.4"/>
<rect x="444" y="112.9" width="59.6" height="58.4" fill="none" stroke="#1a1a1a" stroke-width="1.1"/>
<text x="446.60" y="169.80" font-size="6.6" text-anchor="start" font-weight="normal" fill="#1a1a1a" stroke="#1a1a1a" stroke-width="0.12" >25.5%</text>
<text x="0" y="0" font-size="7.6" text-anchor="middle" fill="#1a1a1a" stroke="#1a1a1a" stroke-width="0.12" transform="translate(508.2,63.6) rotate(90)">A02-NLV</text>
<text x="0" y="0" font-size="7.6" text-anchor="middle" fill="#1a1a1a" stroke="#1a1a1a" stroke-width="0.12" transform="translate(508.2,143.0) rotate(90)">B35-IPS</text>
<line x1="12" y1="102.89999999999999" x2="12" y2="146.4" stroke="#1a1a1a" stroke-width="1.25"/>
<path d="M12,97.8 L9.0,103.39999999999999 L15.0,103.39999999999999 Z" fill="#1a1a1a"/>
<text x="0" y="0" font-size="9.0" fill="#1a1a1a" stroke="#1a1a1a" stroke-width="0.1" transform="translate(14.9,172.6) rotate(-90)">IFN-<tspan font-size="7.2" font-style="italic" dy="-1.2">γ</tspan></text>
<text x="30.80" y="193.70" font-size="8.5" text-anchor="start" font-weight="normal" fill="#1a1a1a" stroke="#1a1a1a" stroke-width="0.1" >Tetramer</text>
<line x1="68.4" y1="191.3" x2="114.30000000000001" y2="191.3" stroke="#1a1a1a" stroke-width="1.25"/>
<path d="M119.4,191.3 L113.80000000000001,188.3 L113.80000000000001,194.3 Z" fill="#1a1a1a"/>
<text x="7" y="223.2" font-size="10.2" font-weight="bold" fill="#000">B</text>
<line x1="42.9" y1="228" x2="42.9" y2="373.1" stroke="#2a2a2a" stroke-width="1.4"/>
<line x1="39.9" y1="372.5" x2="222.5" y2="372.5" stroke="#1a1a1a" stroke-width="1.2"/>
<text x="0" y="0" transform="translate(36.90,375.15) scale(1.12,1)" font-size="7.3" text-anchor="end" font-weight="normal" fill="#1a1a1a" stroke="#1a1a1a" stroke-width="0.15" >0</text>
<text x="0" y="0" transform="translate(36.90,349.40) scale(1.12,1)" font-size="7.3" text-anchor="end" font-weight="normal" fill="#1a1a1a" stroke="#1a1a1a" stroke-width="0.15" >20</text>
<text x="0" y="0" transform="translate(36.90,323.65) scale(1.12,1)" font-size="7.3" text-anchor="end" font-weight="normal" fill="#1a1a1a" stroke="#1a1a1a" stroke-width="0.15" >40</text>
<text x="0" y="0" transform="translate(36.90,297.90) scale(1.12,1)" font-size="7.3" text-anchor="end" font-weight="normal" fill="#1a1a1a" stroke="#1a1a1a" stroke-width="0.15" >60</text>
<text x="0" y="0" transform="translate(36.90,272.15) scale(1.12,1)" font-size="7.3" text-anchor="end" font-weight="normal" fill="#1a1a1a" stroke="#1a1a1a" stroke-width="0.15" >80</text>
<text x="0" y="0" transform="translate(36.90,246.40) scale(1.12,1)" font-size="7.3" text-anchor="end" font-weight="normal" fill="#1a1a1a" stroke="#1a1a1a" stroke-width="0.15" >100</text>
<path d="M39.90,372.50h3M39.90,346.75h3M39.90,321.00h3M39.90,295.25h3M39.90,269.50h3M39.90,243.75h3M42.90,372.50v3.3M50.18,372.50v2.3M54.45,372.50v2.3M57.47,372.50v2.3M59.82,372.50v2.3M61.73,372.50v2.3M63.35,372.50v2.3M64.75,372.50v2.3M65.99,372.50v2.3M67.10,372.50v3.3M74.38,372.50v2.3M78.65,372.50v2.3M81.67,372.50v2.3M84.02,372.50v2.3M85.93,372.50v2.3M87.55,372.50v2.3M88.95,372.50v2.3M90.19,372.50v2.3M91.30,372.50v3.3M98.58,372.50v2.3M102.85,372.50v2.3M105.87,372.50v2.3M108.22,372.50v2.3M110.13,372.50v2.3M111.75,372.50v2.3M113.15,372.50v2.3M114.39,372.50v2.3M115.50,372.50v3.3M122.78,372.50v2.3M127.05,372.50v2.3M130.07,372.50v2.3M132.42,372.50v2.3M134.33,372.50v2.3M135.95,372.50v2.3M137.35,372.50v2.3M138.59,372.50v2.3M139.70,372.50v3.3M146.98,372.50v2.3M151.25,372.50v2.3M154.27,372.50v2.3M156.62,372.50v2.3M158.53,372.50v2.3M160.15,372.50v2.3M161.55,372.50v2.3M162.79,372.50v2.3M163.90,372.50v3.3M171.18,372.50v2.3M175.45,372.50v2.3M178.47,372.50v2.3M180.82,372.50v2.3M182.73,372.50v2.3M184.35,372.50v2.3M185.75,372.50v2.3M186.99,372.50v2.3M188.10,372.50v3.3M195.38,372.50v2.3M199.65,372.50v2.3M202.67,372.50v2.3M205.02,372.50v2.3M206.93,372.50v2.3M208.55,372.50v2.3M209.95,372.50v2.3M211.19,372.50v2.3M212.30,372.50v3.3" stroke="#1a1a1a" stroke-width="0.85" fill="none"/>
<text x="0" y="0" transform="translate(35.70,383.90) scale(1.14,1)" font-size="6.6" fill="#1a1a1a" stroke="#1a1a1a" stroke-width="0.12">10<tspan font-size="5.0" dy="-2.9">−9</tspan></text>
<text x="0" y="0" transform="translate(59.90,383.90) scale(1.14,1)" font-size="6.6" fill="#1a1a1a" stroke="#1a1a1a" stroke-width="0.12">10<tspan font-size="5.0" dy="-2.9">−8</tspan></text>
<text x="0" y="0" transform="translate(84.10,383.90) scale(1.14,1)" font-size="6.6" fill="#1a1a1a" stroke="#1a1a1a" stroke-width="0.12">10<tspan font-size="5.0" dy="-2.9">−7</tspan></text>
<text x="0" y="0" transform="translate(108.30,383.90) scale(1.14,1)" font-size="6.6" fill="#1a1a1a" stroke="#1a1a1a" stroke-width="0.12">10<tspan font-size="5.0" dy="-2.9">−6</tspan></text>
<text x="0" y="0" transform="translate(132.50,383.90) scale(1.14,1)" font-size="6.6" fill="#1a1a1a" stroke="#1a1a1a" stroke-width="0.12">10<tspan font-size="5.0" dy="-2.9">−5</tspan></text>
<text x="0" y="0" transform="translate(156.70,383.90) scale(1.14,1)" font-size="6.6" fill="#1a1a1a" stroke="#1a1a1a" stroke-width="0.12">10<tspan font-size="5.0" dy="-2.9">−4</tspan></text>
<text x="0" y="0" transform="translate(180.90,383.90) scale(1.14,1)" font-size="6.6" fill="#1a1a1a" stroke="#1a1a1a" stroke-width="0.12">10<tspan font-size="5.0" dy="-2.9">−3</tspan></text>
<text x="0" y="0" transform="translate(205.10,383.90) scale(1.14,1)" font-size="6.6" fill="#1a1a1a" stroke="#1a1a1a" stroke-width="0.12">10<tspan font-size="5.0" dy="-2.9">−2</tspan></text>
<text x="0" y="0" font-size="8.6" fill="#1a1a1a" stroke="#1a1a1a" stroke-width="0.35" transform="translate(110.2,397) scale(0.79,1)">Peptide[μg/ml]</text>
<text x="0" y="0" font-size="7.8" fill="#1a1a1a" stroke="#1a1a1a" stroke-width="0.3" transform="translate(17.3,319.4) rotate(-90) scale(0.84,1)">% IFN-γ<tspan font-size="5.8" dy="-3.2">+</tspan></text>
<polyline points="67.10,335.15 68.31,335.15 69.52,335.15 70.73,335.15 71.94,335.15 73.15,335.15 74.36,335.14 75.57,335.14 76.78,335.14 77.99,335.13 79.20,335.13 80.41,335.12 81.62,335.12 82.83,335.11 84.04,335.11 85.25,335.10 86.46,335.09 87.67,335.08 88.88,335.07 90.09,335.05 91.30,335.04 92.51,335.02 93.72,335.00 94.93,334.98 96.14,334.95 97.35,334.92 98.56,334.89 99.77,334.85 100.98,334.80 102.19,334.75 103.40,334.69 104.61,334.63 105.82,334.55 107.03,334.47 108.24,334.37 109.45,334.26 110.66,334.13 111.87,333.99 113.08,333.82 114.29,333.64 115.50,333.42 116.71,333.18 117.92,332.91 119.13,332.60 120.34,332.25 121.55,331.85 122.76,331.40 123.97,330.89 125.18,330.31 126.39,329.66 127.60,328.93 128.81,328.12 130.02,327.20 131.23,326.18 132.44,325.04 133.65,323.78 134.86,322.38 136.07,320.84 137.28,319.15 138.49,317.30 139.70,315.29 140.91,313.12 142.12,310.79 143.33,308.30 144.54,305.66 145.75,302.87 146.96,299.97 148.17,296.96 149.38,293.86 150.59,290.71 151.80,287.52 153.01,284.33 154.22,281.16 155.43,278.03 156.64,274.99 157.85,272.04 159.06,269.20 160.27,266.51 161.48,263.95 162.69,261.56 163.90,259.32 165.11,257.25 166.32,255.34 167.53,253.58 168.74,251.98 169.95,250.53 171.16,249.21 172.37,248.02 173.58,246.96 174.79,246.00 176.00,245.14 177.21,244.38 178.42,243.70 179.63,243.10" fill="none" stroke="#1b5a94" stroke-width="1.5"/>
<polyline points="67.10,371.73 68.31,371.73 69.52,371.73 70.73,371.73 71.94,371.72 73.15,371.72 74.36,371.72 75.57,371.72 76.78,371.72 77.99,371.72 79.20,371.72 80.41,371.72 81.62,371.72 82.83,371.72 84.04,371.71 85.25,371.71 86.46,371.71 87.67,371.71 88.88,371.70 90.09,371.70 91.30,371.69 92.51,371.69 93.72,371.68 94.93,371.67 96.14,371.66 97.35,371.65 98.56,371.63 99.77,371.62 100.98,371.60 102.19,371.58 103.40,371.55 104.61,371.52 105.82,371.48 107.03,371.44 108.24,371.39 109.45,371.33 110.66,371.26 111.87,371.18 113.08,371.08 114.29,370.97 115.50,370.84 116.71,370.69 117.92,370.51 119.13,370.30 120.34,370.05 121.55,369.76 122.76,369.42 123.97,369.03 125.18,368.57 126.39,368.04 127.60,367.42 128.81,366.70 130.02,365.87 131.23,364.90 132.44,363.79 133.65,362.52 134.86,361.06 136.07,359.40 137.28,357.52 138.49,355.39 139.70,353.01 140.91,350.36 142.12,347.43 143.33,344.22 144.54,340.73 145.75,336.98 146.96,333.00 148.17,328.81 149.38,324.45 150.59,319.99 151.80,315.46 153.01,310.94 154.22,306.47 155.43,302.12 156.64,297.93 157.85,293.94 159.06,290.20 160.27,286.71 161.48,283.50 162.69,280.57 163.90,277.92 165.11,275.54 166.32,273.41 167.53,271.53 168.74,269.87 169.95,268.41 171.16,267.13 172.37,266.02 173.58,265.06 174.79,264.23 176.00,263.51 177.21,262.89 178.42,262.35 179.63,261.90 180.84,261.50 182.05,261.17 183.26,260.88 184.47,260.63 185.68,260.42 186.89,260.24 188.10,260.09" fill="none" stroke="#c8102e" stroke-width="1.5"/>
<rect x="64.80" y="338.01" width="4.6" height="4.6" fill="#1b5a94"/>
<rect x="89.00" y="331.57" width="4.6" height="4.6" fill="#1b5a94"/>
<rect x="113.20" y="329.00" width="4.6" height="4.6" fill="#1b5a94"/>
<rect x="137.40" y="316.12" width="4.6" height="4.6" fill="#1b5a94"/>
<rect x="161.60" y="252.14" width="4.6" height="4.6" fill="#1b5a94"/>
<rect x="185.80" y="242.22" width="4.6" height="4.6" fill="#1b5a94"/>
<circle cx="67.10" cy="372.50" r="2.4" fill="#c8102e"/>
<circle cx="91.30" cy="368.25" r="2.4" fill="#c8102e"/>
<circle cx="115.50" cy="364.52" r="2.4" fill="#c8102e"/>
<circle cx="139.70" cy="361.56" r="2.4" fill="#c8102e"/>
<circle cx="163.90" cy="278.77" r="2.4" fill="#c8102e"/>
<circle cx="188.10" cy="262.29" r="2.4" fill="#c8102e"/>
<line x1="48.8" y1="231.8" x2="61.199999999999996" y2="231.8" stroke="#1b5a94" stroke-width="1.4"/>
<rect x="53.00" y="229.80" width="4" height="4" fill="#1b5a94"/>
<text x="0" y="0" transform="translate(64.60,234.30) scale(1.09,1)" font-size="7.2" fill="#1a1a1a" stroke="#1a1a1a" stroke-width="0.12">B35</text>
<line x1="48.8" y1="242.9" x2="61.199999999999996" y2="242.9" stroke="#c8102e" stroke-width="1.4"/>
<circle cx="55.00" cy="242.90" r="2" fill="#c8102e"/>
<text x="0" y="0" transform="translate(64.60,245.40) scale(1.09,1)" font-size="7.2" fill="#1a1a1a" stroke="#1a1a1a" stroke-width="0.12">A02</text>
<line x1="48.8" y1="277.0" x2="61.199999999999996" y2="277.0" stroke="#1b5a94" stroke-width="1.4"/>
<rect x="53.00" y="275.00" width="4" height="4" fill="#1b5a94"/>
<text x="0" y="0" transform="translate(64.60,279.50) scale(1.07,1)" font-size="7.2" fill="#1a1a1a" stroke="#1a1a1a" stroke-width="0.12">EC<tspan font-size="4.8" dy="1.9">50</tspan><tspan dy="-1.9"> B35=0.02</tspan></text>
<line x1="48.8" y1="288.0" x2="61.199999999999996" y2="288.0" stroke="#c8102e" stroke-width="1.4"/>
<circle cx="55.00" cy="288.00" r="2" fill="#c8102e"/>
<text x="0" y="0" transform="translate(64.60,290.50) scale(1.07,1)" font-size="7.2" fill="#1a1a1a" stroke="#1a1a1a" stroke-width="0.12">EC<tspan font-size="4.8" dy="1.9">50</tspan><tspan dy="-1.9"> A02=0.04</tspan></text>
<text x="259.6" y="223.2" font-size="10.2" font-weight="bold" fill="#000">C</text>
<line x1="288.4" y1="228" x2="288.4" y2="373.1" stroke="#1a1a1a" stroke-width="1.3"/>
<line x1="285.4" y1="372.5" x2="482.5" y2="372.5" stroke="#1a1a1a" stroke-width="1.2"/>
<text x="0" y="0" transform="translate(282.20,374.90) scale(1.2,1)" font-size="6.8" text-anchor="end" font-weight="normal" fill="#1a1a1a" stroke="#1a1a1a" stroke-width="0.15" >0</text>
<text x="0" y="0" transform="translate(282.20,340.15) scale(1.2,1)" font-size="6.8" text-anchor="end" font-weight="normal" fill="#1a1a1a" stroke="#1a1a1a" stroke-width="0.15" >10</text>
<text x="0" y="0" transform="translate(282.20,305.40) scale(1.2,1)" font-size="6.8" text-anchor="end" font-weight="normal" fill="#1a1a1a" stroke="#1a1a1a" stroke-width="0.15" >20</text>
<text x="0" y="0" transform="translate(282.20,270.65) scale(1.2,1)" font-size="6.8" text-anchor="end" font-weight="normal" fill="#1a1a1a" stroke="#1a1a1a" stroke-width="0.15" >30</text>
<text x="0" y="0" transform="translate(282.20,235.90) scale(1.2,1)" font-size="6.8" text-anchor="end" font-weight="normal" fill="#1a1a1a" stroke="#1a1a1a" stroke-width="0.15" >40</text>
<path d="M285.40,372.50h3M285.40,337.75h3M285.40,303.00h3M285.40,268.25h3M285.40,233.50h3M312.60,372.50v3M349.00,372.50v3M385.40,372.50v3M421.70,372.50v3M458.10,372.50v3" stroke="#222" stroke-width="0.8" fill="none"/>
<text x="0" y="0" transform="translate(312.60,384.20) scale(1.14,1)" font-size="6.8" text-anchor="middle" font-weight="normal" fill="#1a1a1a" stroke="#1a1a1a" stroke-width="0.15" >25:1</text>
<text x="0" y="0" transform="translate(349.00,384.20) scale(1.14,1)" font-size="6.8" text-anchor="middle" font-weight="normal" fill="#1a1a1a" stroke="#1a1a1a" stroke-width="0.15" >12:1</text>
<text x="0" y="0" transform="translate(385.40,384.20) scale(1.14,1)" font-size="6.8" text-anchor="middle" font-weight="normal" fill="#1a1a1a" stroke="#1a1a1a" stroke-width="0.15" >6:1</text>
<text x="0" y="0" transform="translate(421.70,384.20) scale(1.14,1)" font-size="6.8" text-anchor="middle" font-weight="normal" fill="#1a1a1a" stroke="#1a1a1a" stroke-width="0.15" >3:1</text>
<text x="0" y="0" transform="translate(458.10,384.20) scale(1.14,1)" font-size="6.8" text-anchor="middle" font-weight="normal" fill="#1a1a1a" stroke="#1a1a1a" stroke-width="0.15" >1:1</text>
<text x="0" y="0" font-size="8.9" fill="#1a1a1a" stroke="#1a1a1a" stroke-width="0.35" text-anchor="middle" transform="translate(385.0,396.5) scale(0.73,1)">E:T ratio</text>
<text x="0" y="0" font-size="8.4" fill="#1a1a1a" stroke="#1a1a1a" stroke-width="0.3" text-anchor="middle" transform="translate(267.9,299.9) rotate(-90) scale(0.81,1)">% of lysis</text>
<path d="M312.60,329.76V361.03M311.00,329.76h3.2M311.00,361.03h3.2M349.00,345.74V360.69M347.40,345.74h3.2M347.40,360.69h3.2M385.40,346.09V364.16M383.80,346.09h3.2M383.80,364.16h3.2M421.70,358.60V371.46M420.10,358.60h3.2M420.10,371.46h3.2M458.10,363.81V369.72M456.50,363.81h3.2M456.50,369.72h3.2" stroke="#5a8dbd" stroke-width="0.8" fill="none" opacity="0.85"/>
<path d="M312.60,316.20V355.82M311.00,316.20h3.2M311.00,355.82h3.2M349.00,315.51V360.69M347.40,315.51h3.2M347.40,360.69h3.2M385.40,318.99V363.81M383.80,318.99h3.2M383.80,363.81h3.2M421.70,327.32V365.55M420.10,327.32h3.2M420.10,365.55h3.2M458.10,340.88V365.55M456.50,340.88h3.2M456.50,365.55h3.2" stroke="#d9607a" stroke-width="0.8" fill="none" opacity="0.85"/>
<path d="M312.60,344.70V361.03M311.00,344.70h3.2M311.00,361.03h3.2M349.00,345.74V360.69M347.40,345.74h3.2M347.40,360.69h3.2M385.40,346.09V364.16M383.80,346.09h3.2M383.80,364.16h3.2M421.70,348.87V362.07M420.10,348.87h3.2M420.10,362.07h3.2M458.10,358.60V365.55M456.50,358.60h3.2M456.50,365.55h3.2" stroke="#1b5a94" stroke-width="0.8" fill="none" opacity="0.85"/>
<path d="M312.60,253.31V313.77M311.00,253.31h3.2M311.00,313.77h3.2M349.00,275.89V321.07M347.40,275.89h3.2M347.40,321.07h3.2M385.40,291.53V328.37M383.80,291.53h3.2M383.80,328.37h3.2M421.70,320.38V320.38M420.10,320.38h3.2M420.10,320.38h3.2M458.10,336.36V358.60M456.50,336.36h3.2M456.50,358.60h3.2" stroke="#c8102e" stroke-width="0.8" fill="none" opacity="0.85"/>
<polyline points="312.60,341.92 349.00,353.04 385.40,355.82 421.70,363.81 458.10,367.29" fill="none" stroke="#5a8dbd" stroke-width="1.3"/>
<rect x="310.60" y="339.92" width="4" height="4" fill="#5a8dbd"/>
<rect x="347.00" y="351.04" width="4" height="4" fill="#5a8dbd"/>
<rect x="383.40" y="353.82" width="4" height="4" fill="#5a8dbd"/>
<rect x="419.70" y="361.81" width="4" height="4" fill="#5a8dbd"/>
<rect x="456.10" y="365.29" width="4" height="4" fill="#5a8dbd"/>
<polyline points="312.60,336.01 349.00,338.79 385.40,341.57 421.70,349.56 458.10,356.86" fill="none" stroke="#d9607a" stroke-width="1.4"/>
<circle cx="312.60" cy="336.01" r="2.1" fill="#d9607a"/>
<circle cx="349.00" cy="338.79" r="2.1" fill="#d9607a"/>
<circle cx="385.40" cy="341.57" r="2.1" fill="#d9607a"/>
<circle cx="421.70" cy="349.56" r="2.1" fill="#d9607a"/>
<circle cx="458.10" cy="356.86" r="2.1" fill="#d9607a"/>
<polyline points="312.60,352.69 349.00,352.69 385.40,352.35 421.70,350.95 458.10,361.73" fill="none" stroke="#1b5a94" stroke-width="1.5"/>
<rect x="310.60" y="350.69" width="4" height="4" fill="#1b5a94"/>
<rect x="347.00" y="350.69" width="4" height="4" fill="#1b5a94"/>
<rect x="383.40" y="350.35" width="4" height="4" fill="#1b5a94"/>
<rect x="419.70" y="348.95" width="4" height="4" fill="#1b5a94"/>
<rect x="456.10" y="359.73" width="4" height="4" fill="#1b5a94"/>
<polyline points="312.60,283.89 349.00,298.83 385.40,309.60 421.70,320.38 458.10,348.87" fill="none" stroke="#c8102e" stroke-width="1.45"/>
<circle cx="312.60" cy="283.89" r="2.1" fill="#c8102e"/>
<circle cx="349.00" cy="298.83" r="2.1" fill="#c8102e"/>
<circle cx="385.40" cy="309.60" r="2.1" fill="#c8102e"/>
<circle cx="421.70" cy="320.38" r="2.1" fill="#c8102e"/>
<circle cx="458.10" cy="348.87" r="2.1" fill="#c8102e"/>
<line x1="448.9" y1="231.6" x2="461.29999999999995" y2="231.6" stroke="#d9607a" stroke-width="1.4"/>
<circle cx="455.10" cy="231.60" r="2" fill="#d9607a"/>
<text x="0" y="0" transform="translate(464.70,234.10) scale(1.0,1)" font-size="7.0" fill="#1a1a1a" stroke="#1a1a1a" stroke-width="0.12">A02-uninfected</text>
<line x1="448.9" y1="242.7" x2="461.29999999999995" y2="242.7" stroke="#5a8dbd" stroke-width="1.4"/>
<rect x="453.10" y="240.70" width="4" height="4" fill="#5a8dbd"/>
<text x="0" y="0" transform="translate(464.70,245.20) scale(1.0,1)" font-size="7.0" fill="#1a1a1a" stroke="#1a1a1a" stroke-width="0.12">B35-uninfected</text>
<line x1="448.9" y1="253.8" x2="461.29999999999995" y2="253.8" stroke="#c8102e" stroke-width="1.4"/>
<circle cx="455.10" cy="253.80" r="2" fill="#c8102e"/>
<text x="0" y="0" transform="translate(464.70,256.30) scale(1.0,1)" font-size="7.0" fill="#1a1a1a" stroke="#1a1a1a" stroke-width="0.12">A02-infected</text>
<line x1="448.9" y1="264.7" x2="461.29999999999995" y2="264.7" stroke="#1b5a94" stroke-width="1.4"/>
<rect x="453.10" y="262.70" width="4" height="4" fill="#1b5a94"/>
<text x="0" y="0" transform="translate(464.70,267.20) scale(1.0,1)" font-size="7.0" fill="#1a1a1a" stroke="#1a1a1a" stroke-width="0.12">B35-infected</text>
<rect x="0.6" y="0.6" width="518.8" height="404.8" fill="none" stroke="#000" stroke-width="1.3"/>
</svg></div></body></html>
